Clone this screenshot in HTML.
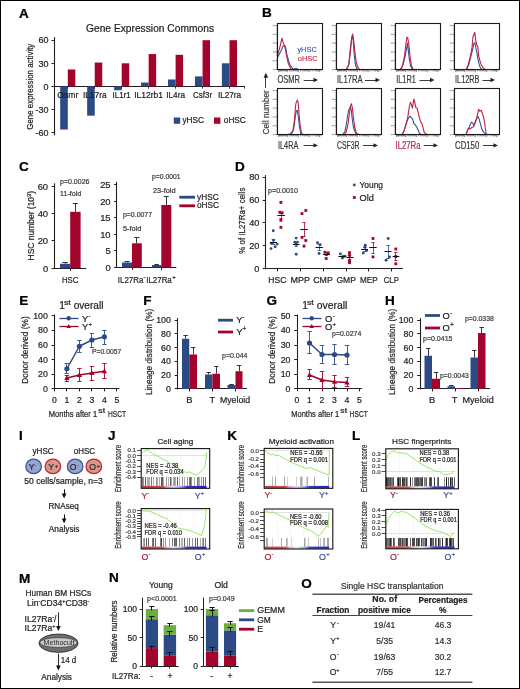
<!DOCTYPE html>
<html><head><meta charset="utf-8"><style>
html,body{margin:0;padding:0;background:#fff;}
svg{display:block;will-change:transform;}
text{font-family:"Liberation Sans",sans-serif;stroke:currentColor;stroke-width:0.22px;}
</style></head><body>
<svg width="520" height="689" viewBox="0 0 520 689" font-family="Liberation Sans, sans-serif" fill="#231f20" color="#231f20">
<rect x="0.5" y="0.5" width="519" height="688" fill="#fff" stroke="#000" stroke-width="1"/>
<text x="19" y="17.6" font-size="12" font-weight="bold" fill="#000" color="#000" textLength="9.79" lengthAdjust="spacingAndGlyphs">A</text>
<text x="86" y="32" font-size="10.6" textLength="128" lengthAdjust="spacingAndGlyphs">Gene Expression Commons</text>
<line x1="54.5" y1="37.1" x2="54.5" y2="135.3" stroke="#231f20" stroke-width="1.1"/>
<line x1="51.5" y1="40.5" x2="54.3" y2="40.5" stroke="#231f20" stroke-width="1"/>
<text x="48.5" y="43.4" font-size="9" text-anchor="end">60</text>
<line x1="51.5" y1="63.5" x2="54.3" y2="63.5" stroke="#231f20" stroke-width="1"/>
<text x="48.5" y="66.5" font-size="9" text-anchor="end">30</text>
<line x1="51.5" y1="86.5" x2="54.3" y2="86.5" stroke="#231f20" stroke-width="1"/>
<text x="48.5" y="89.6" font-size="9" text-anchor="end">0</text>
<line x1="51.5" y1="109.5" x2="54.3" y2="109.5" stroke="#231f20" stroke-width="1"/>
<text x="48.5" y="112.7" font-size="9" text-anchor="end">-30</text>
<line x1="51.5" y1="132.5" x2="54.3" y2="132.5" stroke="#231f20" stroke-width="1"/>
<text x="48.5" y="135.8" font-size="9" text-anchor="end">-60</text>
<line x1="54.3" y1="86.5" x2="245" y2="86.5" stroke="#231f20" stroke-width="1"/>
<rect x="60.2" y="86.4" width="7.6" height="43.12" fill="#2c4b86"/>
<rect x="67.8" y="69.46" width="7.5" height="16.94" fill="#a3042b"/>
<line x1="67.5" y1="86.4" x2="67.5" y2="88.6" stroke="#231f20" stroke-width="0.9"/>
<rect x="87.15" y="86.4" width="7.6" height="29.26" fill="#2c4b86"/>
<rect x="94.75" y="62.53" width="7.5" height="23.87" fill="#a3042b"/>
<line x1="94.5" y1="86.4" x2="94.5" y2="88.6" stroke="#231f20" stroke-width="0.9"/>
<rect x="114.1" y="86.4" width="7.6" height="3.85" fill="#2c4b86"/>
<rect x="121.7" y="63.3" width="7.5" height="23.1" fill="#a3042b"/>
<line x1="121.5" y1="86.4" x2="121.5" y2="88.6" stroke="#231f20" stroke-width="0.9"/>
<rect x="141.05" y="82.55" width="7.6" height="3.85" fill="#2c4b86"/>
<rect x="148.65" y="54.06" width="7.5" height="32.34" fill="#a3042b"/>
<line x1="148.5" y1="86.4" x2="148.5" y2="88.6" stroke="#231f20" stroke-width="0.9"/>
<rect x="168" y="79.47" width="7.6" height="6.93" fill="#2c4b86"/>
<rect x="175.6" y="54.83" width="7.5" height="31.57" fill="#a3042b"/>
<line x1="175.5" y1="86.4" x2="175.5" y2="88.6" stroke="#231f20" stroke-width="0.9"/>
<rect x="194.95" y="76.39" width="7.6" height="10.01" fill="#2c4b86"/>
<rect x="202.55" y="40.2" width="7.5" height="46.2" fill="#a3042b"/>
<line x1="202.5" y1="86.4" x2="202.5" y2="88.6" stroke="#231f20" stroke-width="0.9"/>
<rect x="221.9" y="63.3" width="7.6" height="23.1" fill="#2c4b86"/>
<rect x="229.5" y="40.2" width="7.5" height="46.2" fill="#a3042b"/>
<line x1="229.5" y1="86.4" x2="229.5" y2="88.6" stroke="#231f20" stroke-width="0.9"/>
<line x1="244.5" y1="86.4" x2="244.5" y2="88.6" stroke="#231f20" stroke-width="0.9"/>
<text x="67.8" y="97.8" font-size="8.6" text-anchor="middle" textLength="21.25" lengthAdjust="spacingAndGlyphs">Osmr</text>
<text x="94.75" y="97.8" font-size="8.6" text-anchor="middle" textLength="23.75" lengthAdjust="spacingAndGlyphs">IL17ra</text>
<text x="121.7" y="97.8" font-size="8.6" text-anchor="middle" textLength="18.25" lengthAdjust="spacingAndGlyphs">IL1r1</text>
<text x="148.65" y="97.8" font-size="8.6" text-anchor="middle" textLength="28.75" lengthAdjust="spacingAndGlyphs">IL12rb1</text>
<text x="175.6" y="97.8" font-size="8.6" text-anchor="middle" textLength="18.75" lengthAdjust="spacingAndGlyphs">IL4ra</text>
<text x="202.55" y="97.8" font-size="8.6" text-anchor="middle" textLength="19" lengthAdjust="spacingAndGlyphs">Csf3r</text>
<text x="229.5" y="97.8" font-size="8.6" text-anchor="middle" textLength="23.25" lengthAdjust="spacingAndGlyphs">IL27ra</text>
<text x="30.3" y="87" font-size="9.9" text-anchor="middle" textLength="86" lengthAdjust="spacingAndGlyphs" transform="rotate(-90 30 87)" dy="3.2">Gene expression activity</text>
<rect x="173.8" y="117.5" width="6.4" height="6.3" fill="#2c4b86"/>
<text x="182.5" y="123.4" font-size="9" textLength="21.5" lengthAdjust="spacingAndGlyphs">yHSC</text>
<rect x="214" y="117.5" width="6.4" height="6.3" fill="#a3042b"/>
<text x="223.8" y="123.4" font-size="9" textLength="22" lengthAdjust="spacingAndGlyphs">oHSC</text>
<text x="262" y="17.2" font-size="12" font-weight="bold" fill="#000" color="#000" textLength="9.79" lengthAdjust="spacingAndGlyphs">B</text>
<line x1="275.38" y1="69.52" x2="277.38" y2="69.52" stroke="#333" stroke-width="0.6"/>
<rect x="272.78" y="68.82" width="2" height="1.4" fill="#aaa"/>
<line x1="275.38" y1="60.72" x2="277.38" y2="60.72" stroke="#333" stroke-width="0.6"/>
<rect x="272.78" y="60.02" width="2" height="1.4" fill="#aaa"/>
<line x1="275.38" y1="51.92" x2="277.38" y2="51.92" stroke="#333" stroke-width="0.6"/>
<rect x="272.78" y="51.22" width="2" height="1.4" fill="#aaa"/>
<line x1="275.38" y1="43.12" x2="277.38" y2="43.12" stroke="#333" stroke-width="0.6"/>
<rect x="272.78" y="42.42" width="2" height="1.4" fill="#aaa"/>
<line x1="275.38" y1="34.32" x2="277.38" y2="34.32" stroke="#333" stroke-width="0.6"/>
<rect x="272.78" y="33.62" width="2" height="1.4" fill="#aaa"/>
<line x1="275.38" y1="25.53" x2="277.38" y2="25.53" stroke="#333" stroke-width="0.6"/>
<rect x="272.78" y="24.83" width="2" height="1.4" fill="#aaa"/>
<line x1="276.18" y1="69.52" x2="277.38" y2="69.52" stroke="#555" stroke-width="0.5"/>
<line x1="276.18" y1="67.76" x2="277.38" y2="67.76" stroke="#555" stroke-width="0.5"/>
<line x1="276.18" y1="66" x2="277.38" y2="66" stroke="#555" stroke-width="0.5"/>
<line x1="276.18" y1="64.24" x2="277.38" y2="64.24" stroke="#555" stroke-width="0.5"/>
<line x1="276.18" y1="62.48" x2="277.38" y2="62.48" stroke="#555" stroke-width="0.5"/>
<line x1="276.18" y1="60.72" x2="277.38" y2="60.72" stroke="#555" stroke-width="0.5"/>
<line x1="276.18" y1="58.96" x2="277.38" y2="58.96" stroke="#555" stroke-width="0.5"/>
<line x1="276.18" y1="57.2" x2="277.38" y2="57.2" stroke="#555" stroke-width="0.5"/>
<line x1="276.18" y1="55.44" x2="277.38" y2="55.44" stroke="#555" stroke-width="0.5"/>
<line x1="276.18" y1="53.68" x2="277.38" y2="53.68" stroke="#555" stroke-width="0.5"/>
<line x1="276.18" y1="51.92" x2="277.38" y2="51.92" stroke="#555" stroke-width="0.5"/>
<line x1="276.18" y1="50.16" x2="277.38" y2="50.16" stroke="#555" stroke-width="0.5"/>
<line x1="276.18" y1="48.4" x2="277.38" y2="48.4" stroke="#555" stroke-width="0.5"/>
<line x1="276.18" y1="46.64" x2="277.38" y2="46.64" stroke="#555" stroke-width="0.5"/>
<line x1="276.18" y1="44.88" x2="277.38" y2="44.88" stroke="#555" stroke-width="0.5"/>
<line x1="276.18" y1="43.12" x2="277.38" y2="43.12" stroke="#555" stroke-width="0.5"/>
<line x1="276.18" y1="41.36" x2="277.38" y2="41.36" stroke="#555" stroke-width="0.5"/>
<line x1="276.18" y1="39.6" x2="277.38" y2="39.6" stroke="#555" stroke-width="0.5"/>
<line x1="276.18" y1="37.84" x2="277.38" y2="37.84" stroke="#555" stroke-width="0.5"/>
<line x1="276.18" y1="36.08" x2="277.38" y2="36.08" stroke="#555" stroke-width="0.5"/>
<line x1="276.18" y1="34.32" x2="277.38" y2="34.32" stroke="#555" stroke-width="0.5"/>
<line x1="276.18" y1="32.57" x2="277.38" y2="32.57" stroke="#555" stroke-width="0.5"/>
<line x1="276.18" y1="30.81" x2="277.38" y2="30.81" stroke="#555" stroke-width="0.5"/>
<line x1="276.18" y1="29.05" x2="277.38" y2="29.05" stroke="#555" stroke-width="0.5"/>
<line x1="276.18" y1="27.29" x2="277.38" y2="27.29" stroke="#555" stroke-width="0.5"/>
<line x1="276.18" y1="25.53" x2="277.38" y2="25.53" stroke="#555" stroke-width="0.5"/>
<line x1="278.67" y1="69.52" x2="278.67" y2="72.12" stroke="#333" stroke-width="0.6"/>
<line x1="279.53" y1="69.52" x2="279.53" y2="71.32" stroke="#333" stroke-width="0.6"/>
<line x1="280.4" y1="69.52" x2="280.4" y2="71.32" stroke="#333" stroke-width="0.6"/>
<line x1="281.15" y1="69.52" x2="281.15" y2="71.32" stroke="#333" stroke-width="0.6"/>
<line x1="281.9" y1="69.52" x2="281.9" y2="71.32" stroke="#333" stroke-width="0.6"/>
<line x1="282.76" y1="69.52" x2="282.76" y2="71.32" stroke="#333" stroke-width="0.6"/>
<line x1="283.84" y1="69.52" x2="283.84" y2="71.32" stroke="#333" stroke-width="0.6"/>
<line x1="284.7" y1="69.52" x2="284.7" y2="71.32" stroke="#333" stroke-width="0.6"/>
<line x1="285.46" y1="69.52" x2="285.46" y2="71.32" stroke="#333" stroke-width="0.6"/>
<line x1="286.53" y1="69.52" x2="286.53" y2="71.32" stroke="#333" stroke-width="0.6"/>
<line x1="287.61" y1="69.52" x2="287.61" y2="72.12" stroke="#333" stroke-width="0.6"/>
<line x1="289.22" y1="69.52" x2="289.22" y2="71.32" stroke="#333" stroke-width="0.6"/>
<line x1="290.84" y1="69.52" x2="290.84" y2="71.32" stroke="#333" stroke-width="0.6"/>
<line x1="291.91" y1="69.52" x2="291.91" y2="71.32" stroke="#333" stroke-width="0.6"/>
<line x1="292.99" y1="69.52" x2="292.99" y2="71.32" stroke="#333" stroke-width="0.6"/>
<line x1="294.07" y1="69.52" x2="294.07" y2="71.32" stroke="#333" stroke-width="0.6"/>
<line x1="295.14" y1="69.52" x2="295.14" y2="71.32" stroke="#333" stroke-width="0.6"/>
<line x1="296.22" y1="69.52" x2="296.22" y2="71.32" stroke="#333" stroke-width="0.6"/>
<line x1="297.3" y1="69.52" x2="297.3" y2="71.32" stroke="#333" stroke-width="0.6"/>
<line x1="298.37" y1="69.52" x2="298.37" y2="72.12" stroke="#333" stroke-width="0.6"/>
<line x1="300.53" y1="69.52" x2="300.53" y2="71.32" stroke="#333" stroke-width="0.6"/>
<line x1="302.14" y1="69.52" x2="302.14" y2="71.32" stroke="#333" stroke-width="0.6"/>
<line x1="303.75" y1="69.52" x2="303.75" y2="71.32" stroke="#333" stroke-width="0.6"/>
<line x1="304.83" y1="69.52" x2="304.83" y2="71.32" stroke="#333" stroke-width="0.6"/>
<line x1="305.91" y1="69.52" x2="305.91" y2="71.32" stroke="#333" stroke-width="0.6"/>
<line x1="306.98" y1="69.52" x2="306.98" y2="71.32" stroke="#333" stroke-width="0.6"/>
<line x1="308.06" y1="69.52" x2="308.06" y2="71.32" stroke="#333" stroke-width="0.6"/>
<line x1="309.14" y1="69.52" x2="309.14" y2="72.12" stroke="#333" stroke-width="0.6"/>
<line x1="310.75" y1="69.52" x2="310.75" y2="71.32" stroke="#333" stroke-width="0.6"/>
<line x1="312.9" y1="69.52" x2="312.9" y2="71.32" stroke="#333" stroke-width="0.6"/>
<line x1="315.06" y1="69.52" x2="315.06" y2="71.32" stroke="#333" stroke-width="0.6"/>
<line x1="316.13" y1="69.52" x2="316.13" y2="71.32" stroke="#333" stroke-width="0.6"/>
<line x1="317.21" y1="69.52" x2="317.21" y2="71.32" stroke="#333" stroke-width="0.6"/>
<line x1="318.29" y1="69.52" x2="318.29" y2="71.32" stroke="#333" stroke-width="0.6"/>
<line x1="319.36" y1="69.52" x2="319.36" y2="72.12" stroke="#333" stroke-width="0.6"/>
<line x1="320.98" y1="69.52" x2="320.98" y2="71.32" stroke="#333" stroke-width="0.6"/>
<path d="M277.38 57.67 L280.61 51.75 L282.76 46.91 L284.06 45.3 L285.46 46.37 L287.07 55.52 L289.76 64.67 L292.99 68.98 L296.22 68.44 L298.37 69.52" stroke="#33559a" stroke-width="1.1" fill="none" stroke-linejoin="round"/>
<path d="M277.38 56.06 L279.53 48.53 L281.15 41.53 L281.9 38.08 L283.3 43.14 L284.7 45.83 L285.99 52.29 L288.15 63.06 L290.84 68.98 L292.99 69.52" stroke="#c21f45" stroke-width="1.1" fill="none" stroke-linejoin="round"/>
<rect x="277.5" y="23.5" width="45" height="46" fill="none" stroke="#1a1a1a" stroke-width="1.1"/>
<text x="277.5" y="83.2" font-size="10.2" fill="#3a3a3a" color="#3a3a3a" textLength="22.5" lengthAdjust="spacingAndGlyphs">OSMR</text>
<line x1="303.7" y1="80.5" x2="315" y2="80.5" stroke="#222" stroke-width="0.9"/>
<path d="M318 80 L313.5 77.8 L313.5 82.2 Z" fill="#222"/>
<line x1="334.38" y1="69.52" x2="336.38" y2="69.52" stroke="#333" stroke-width="0.6"/>
<rect x="331.78" y="68.82" width="2" height="1.4" fill="#aaa"/>
<line x1="334.38" y1="60.72" x2="336.38" y2="60.72" stroke="#333" stroke-width="0.6"/>
<rect x="331.78" y="60.02" width="2" height="1.4" fill="#aaa"/>
<line x1="334.38" y1="51.92" x2="336.38" y2="51.92" stroke="#333" stroke-width="0.6"/>
<rect x="331.78" y="51.22" width="2" height="1.4" fill="#aaa"/>
<line x1="334.38" y1="43.12" x2="336.38" y2="43.12" stroke="#333" stroke-width="0.6"/>
<rect x="331.78" y="42.42" width="2" height="1.4" fill="#aaa"/>
<line x1="334.38" y1="34.32" x2="336.38" y2="34.32" stroke="#333" stroke-width="0.6"/>
<rect x="331.78" y="33.62" width="2" height="1.4" fill="#aaa"/>
<line x1="334.38" y1="25.53" x2="336.38" y2="25.53" stroke="#333" stroke-width="0.6"/>
<rect x="331.78" y="24.83" width="2" height="1.4" fill="#aaa"/>
<line x1="335.18" y1="69.52" x2="336.38" y2="69.52" stroke="#555" stroke-width="0.5"/>
<line x1="335.18" y1="67.76" x2="336.38" y2="67.76" stroke="#555" stroke-width="0.5"/>
<line x1="335.18" y1="66" x2="336.38" y2="66" stroke="#555" stroke-width="0.5"/>
<line x1="335.18" y1="64.24" x2="336.38" y2="64.24" stroke="#555" stroke-width="0.5"/>
<line x1="335.18" y1="62.48" x2="336.38" y2="62.48" stroke="#555" stroke-width="0.5"/>
<line x1="335.18" y1="60.72" x2="336.38" y2="60.72" stroke="#555" stroke-width="0.5"/>
<line x1="335.18" y1="58.96" x2="336.38" y2="58.96" stroke="#555" stroke-width="0.5"/>
<line x1="335.18" y1="57.2" x2="336.38" y2="57.2" stroke="#555" stroke-width="0.5"/>
<line x1="335.18" y1="55.44" x2="336.38" y2="55.44" stroke="#555" stroke-width="0.5"/>
<line x1="335.18" y1="53.68" x2="336.38" y2="53.68" stroke="#555" stroke-width="0.5"/>
<line x1="335.18" y1="51.92" x2="336.38" y2="51.92" stroke="#555" stroke-width="0.5"/>
<line x1="335.18" y1="50.16" x2="336.38" y2="50.16" stroke="#555" stroke-width="0.5"/>
<line x1="335.18" y1="48.4" x2="336.38" y2="48.4" stroke="#555" stroke-width="0.5"/>
<line x1="335.18" y1="46.64" x2="336.38" y2="46.64" stroke="#555" stroke-width="0.5"/>
<line x1="335.18" y1="44.88" x2="336.38" y2="44.88" stroke="#555" stroke-width="0.5"/>
<line x1="335.18" y1="43.12" x2="336.38" y2="43.12" stroke="#555" stroke-width="0.5"/>
<line x1="335.18" y1="41.36" x2="336.38" y2="41.36" stroke="#555" stroke-width="0.5"/>
<line x1="335.18" y1="39.6" x2="336.38" y2="39.6" stroke="#555" stroke-width="0.5"/>
<line x1="335.18" y1="37.84" x2="336.38" y2="37.84" stroke="#555" stroke-width="0.5"/>
<line x1="335.18" y1="36.08" x2="336.38" y2="36.08" stroke="#555" stroke-width="0.5"/>
<line x1="335.18" y1="34.32" x2="336.38" y2="34.32" stroke="#555" stroke-width="0.5"/>
<line x1="335.18" y1="32.57" x2="336.38" y2="32.57" stroke="#555" stroke-width="0.5"/>
<line x1="335.18" y1="30.81" x2="336.38" y2="30.81" stroke="#555" stroke-width="0.5"/>
<line x1="335.18" y1="29.05" x2="336.38" y2="29.05" stroke="#555" stroke-width="0.5"/>
<line x1="335.18" y1="27.29" x2="336.38" y2="27.29" stroke="#555" stroke-width="0.5"/>
<line x1="335.18" y1="25.53" x2="336.38" y2="25.53" stroke="#555" stroke-width="0.5"/>
<line x1="337.67" y1="69.52" x2="337.67" y2="72.12" stroke="#333" stroke-width="0.6"/>
<line x1="338.53" y1="69.52" x2="338.53" y2="71.32" stroke="#333" stroke-width="0.6"/>
<line x1="339.4" y1="69.52" x2="339.4" y2="71.32" stroke="#333" stroke-width="0.6"/>
<line x1="340.15" y1="69.52" x2="340.15" y2="71.32" stroke="#333" stroke-width="0.6"/>
<line x1="340.9" y1="69.52" x2="340.9" y2="71.32" stroke="#333" stroke-width="0.6"/>
<line x1="341.76" y1="69.52" x2="341.76" y2="71.32" stroke="#333" stroke-width="0.6"/>
<line x1="342.84" y1="69.52" x2="342.84" y2="71.32" stroke="#333" stroke-width="0.6"/>
<line x1="343.7" y1="69.52" x2="343.7" y2="71.32" stroke="#333" stroke-width="0.6"/>
<line x1="344.46" y1="69.52" x2="344.46" y2="71.32" stroke="#333" stroke-width="0.6"/>
<line x1="345.53" y1="69.52" x2="345.53" y2="71.32" stroke="#333" stroke-width="0.6"/>
<line x1="346.61" y1="69.52" x2="346.61" y2="72.12" stroke="#333" stroke-width="0.6"/>
<line x1="348.22" y1="69.52" x2="348.22" y2="71.32" stroke="#333" stroke-width="0.6"/>
<line x1="349.84" y1="69.52" x2="349.84" y2="71.32" stroke="#333" stroke-width="0.6"/>
<line x1="350.91" y1="69.52" x2="350.91" y2="71.32" stroke="#333" stroke-width="0.6"/>
<line x1="351.99" y1="69.52" x2="351.99" y2="71.32" stroke="#333" stroke-width="0.6"/>
<line x1="353.07" y1="69.52" x2="353.07" y2="71.32" stroke="#333" stroke-width="0.6"/>
<line x1="354.14" y1="69.52" x2="354.14" y2="71.32" stroke="#333" stroke-width="0.6"/>
<line x1="355.22" y1="69.52" x2="355.22" y2="71.32" stroke="#333" stroke-width="0.6"/>
<line x1="356.3" y1="69.52" x2="356.3" y2="71.32" stroke="#333" stroke-width="0.6"/>
<line x1="357.37" y1="69.52" x2="357.37" y2="72.12" stroke="#333" stroke-width="0.6"/>
<line x1="359.53" y1="69.52" x2="359.53" y2="71.32" stroke="#333" stroke-width="0.6"/>
<line x1="361.14" y1="69.52" x2="361.14" y2="71.32" stroke="#333" stroke-width="0.6"/>
<line x1="362.75" y1="69.52" x2="362.75" y2="71.32" stroke="#333" stroke-width="0.6"/>
<line x1="363.83" y1="69.52" x2="363.83" y2="71.32" stroke="#333" stroke-width="0.6"/>
<line x1="364.91" y1="69.52" x2="364.91" y2="71.32" stroke="#333" stroke-width="0.6"/>
<line x1="365.98" y1="69.52" x2="365.98" y2="71.32" stroke="#333" stroke-width="0.6"/>
<line x1="367.06" y1="69.52" x2="367.06" y2="71.32" stroke="#333" stroke-width="0.6"/>
<line x1="368.14" y1="69.52" x2="368.14" y2="72.12" stroke="#333" stroke-width="0.6"/>
<line x1="369.75" y1="69.52" x2="369.75" y2="71.32" stroke="#333" stroke-width="0.6"/>
<line x1="371.9" y1="69.52" x2="371.9" y2="71.32" stroke="#333" stroke-width="0.6"/>
<line x1="374.06" y1="69.52" x2="374.06" y2="71.32" stroke="#333" stroke-width="0.6"/>
<line x1="375.13" y1="69.52" x2="375.13" y2="71.32" stroke="#333" stroke-width="0.6"/>
<line x1="376.21" y1="69.52" x2="376.21" y2="71.32" stroke="#333" stroke-width="0.6"/>
<line x1="377.29" y1="69.52" x2="377.29" y2="71.32" stroke="#333" stroke-width="0.6"/>
<line x1="378.36" y1="69.52" x2="378.36" y2="72.12" stroke="#333" stroke-width="0.6"/>
<line x1="379.98" y1="69.52" x2="379.98" y2="71.32" stroke="#333" stroke-width="0.6"/>
<path d="M346.61 69.52 L348.76 64.13 L350.38 47.99 L351.78 37.22 L352.53 36.68 L353.28 41.53 L354.14 54.45 L355.54 65.21 L357.37 69.52" stroke="#33559a" stroke-width="1.1" fill="none" stroke-linejoin="round"/>
<path d="M346.07 69.52 L348.76 65.21 L350.38 52.29 L351.67 38.3 L352.53 33.99 L353.39 37.76 L354.68 50.14 L356.3 63.06 L358.45 68.44 L360.06 69.52" stroke="#c21f45" stroke-width="1.1" fill="none" stroke-linejoin="round"/>
<rect x="336.5" y="23.5" width="45" height="46" fill="none" stroke="#1a1a1a" stroke-width="1.1"/>
<text x="337" y="83.2" font-size="10.2" fill="#3a3a3a" color="#3a3a3a" textLength="25.5" lengthAdjust="spacingAndGlyphs">IL17RA</text>
<line x1="365" y1="80.5" x2="377" y2="80.5" stroke="#222" stroke-width="0.9"/>
<path d="M380 80 L375.5 77.8 L375.5 82.2 Z" fill="#222"/>
<line x1="393.38" y1="69.52" x2="395.38" y2="69.52" stroke="#333" stroke-width="0.6"/>
<rect x="390.78" y="68.82" width="2" height="1.4" fill="#aaa"/>
<line x1="393.38" y1="60.72" x2="395.38" y2="60.72" stroke="#333" stroke-width="0.6"/>
<rect x="390.78" y="60.02" width="2" height="1.4" fill="#aaa"/>
<line x1="393.38" y1="51.92" x2="395.38" y2="51.92" stroke="#333" stroke-width="0.6"/>
<rect x="390.78" y="51.22" width="2" height="1.4" fill="#aaa"/>
<line x1="393.38" y1="43.12" x2="395.38" y2="43.12" stroke="#333" stroke-width="0.6"/>
<rect x="390.78" y="42.42" width="2" height="1.4" fill="#aaa"/>
<line x1="393.38" y1="34.32" x2="395.38" y2="34.32" stroke="#333" stroke-width="0.6"/>
<rect x="390.78" y="33.62" width="2" height="1.4" fill="#aaa"/>
<line x1="393.38" y1="25.53" x2="395.38" y2="25.53" stroke="#333" stroke-width="0.6"/>
<rect x="390.78" y="24.83" width="2" height="1.4" fill="#aaa"/>
<line x1="394.18" y1="69.52" x2="395.38" y2="69.52" stroke="#555" stroke-width="0.5"/>
<line x1="394.18" y1="67.76" x2="395.38" y2="67.76" stroke="#555" stroke-width="0.5"/>
<line x1="394.18" y1="66" x2="395.38" y2="66" stroke="#555" stroke-width="0.5"/>
<line x1="394.18" y1="64.24" x2="395.38" y2="64.24" stroke="#555" stroke-width="0.5"/>
<line x1="394.18" y1="62.48" x2="395.38" y2="62.48" stroke="#555" stroke-width="0.5"/>
<line x1="394.18" y1="60.72" x2="395.38" y2="60.72" stroke="#555" stroke-width="0.5"/>
<line x1="394.18" y1="58.96" x2="395.38" y2="58.96" stroke="#555" stroke-width="0.5"/>
<line x1="394.18" y1="57.2" x2="395.38" y2="57.2" stroke="#555" stroke-width="0.5"/>
<line x1="394.18" y1="55.44" x2="395.38" y2="55.44" stroke="#555" stroke-width="0.5"/>
<line x1="394.18" y1="53.68" x2="395.38" y2="53.68" stroke="#555" stroke-width="0.5"/>
<line x1="394.18" y1="51.92" x2="395.38" y2="51.92" stroke="#555" stroke-width="0.5"/>
<line x1="394.18" y1="50.16" x2="395.38" y2="50.16" stroke="#555" stroke-width="0.5"/>
<line x1="394.18" y1="48.4" x2="395.38" y2="48.4" stroke="#555" stroke-width="0.5"/>
<line x1="394.18" y1="46.64" x2="395.38" y2="46.64" stroke="#555" stroke-width="0.5"/>
<line x1="394.18" y1="44.88" x2="395.38" y2="44.88" stroke="#555" stroke-width="0.5"/>
<line x1="394.18" y1="43.12" x2="395.38" y2="43.12" stroke="#555" stroke-width="0.5"/>
<line x1="394.18" y1="41.36" x2="395.38" y2="41.36" stroke="#555" stroke-width="0.5"/>
<line x1="394.18" y1="39.6" x2="395.38" y2="39.6" stroke="#555" stroke-width="0.5"/>
<line x1="394.18" y1="37.84" x2="395.38" y2="37.84" stroke="#555" stroke-width="0.5"/>
<line x1="394.18" y1="36.08" x2="395.38" y2="36.08" stroke="#555" stroke-width="0.5"/>
<line x1="394.18" y1="34.32" x2="395.38" y2="34.32" stroke="#555" stroke-width="0.5"/>
<line x1="394.18" y1="32.57" x2="395.38" y2="32.57" stroke="#555" stroke-width="0.5"/>
<line x1="394.18" y1="30.81" x2="395.38" y2="30.81" stroke="#555" stroke-width="0.5"/>
<line x1="394.18" y1="29.05" x2="395.38" y2="29.05" stroke="#555" stroke-width="0.5"/>
<line x1="394.18" y1="27.29" x2="395.38" y2="27.29" stroke="#555" stroke-width="0.5"/>
<line x1="394.18" y1="25.53" x2="395.38" y2="25.53" stroke="#555" stroke-width="0.5"/>
<line x1="396.67" y1="69.52" x2="396.67" y2="72.12" stroke="#333" stroke-width="0.6"/>
<line x1="397.53" y1="69.52" x2="397.53" y2="71.32" stroke="#333" stroke-width="0.6"/>
<line x1="398.4" y1="69.52" x2="398.4" y2="71.32" stroke="#333" stroke-width="0.6"/>
<line x1="399.15" y1="69.52" x2="399.15" y2="71.32" stroke="#333" stroke-width="0.6"/>
<line x1="399.9" y1="69.52" x2="399.9" y2="71.32" stroke="#333" stroke-width="0.6"/>
<line x1="400.76" y1="69.52" x2="400.76" y2="71.32" stroke="#333" stroke-width="0.6"/>
<line x1="401.84" y1="69.52" x2="401.84" y2="71.32" stroke="#333" stroke-width="0.6"/>
<line x1="402.7" y1="69.52" x2="402.7" y2="71.32" stroke="#333" stroke-width="0.6"/>
<line x1="403.46" y1="69.52" x2="403.46" y2="71.32" stroke="#333" stroke-width="0.6"/>
<line x1="404.53" y1="69.52" x2="404.53" y2="71.32" stroke="#333" stroke-width="0.6"/>
<line x1="405.61" y1="69.52" x2="405.61" y2="72.12" stroke="#333" stroke-width="0.6"/>
<line x1="407.22" y1="69.52" x2="407.22" y2="71.32" stroke="#333" stroke-width="0.6"/>
<line x1="408.84" y1="69.52" x2="408.84" y2="71.32" stroke="#333" stroke-width="0.6"/>
<line x1="409.91" y1="69.52" x2="409.91" y2="71.32" stroke="#333" stroke-width="0.6"/>
<line x1="410.99" y1="69.52" x2="410.99" y2="71.32" stroke="#333" stroke-width="0.6"/>
<line x1="412.07" y1="69.52" x2="412.07" y2="71.32" stroke="#333" stroke-width="0.6"/>
<line x1="413.14" y1="69.52" x2="413.14" y2="71.32" stroke="#333" stroke-width="0.6"/>
<line x1="414.22" y1="69.52" x2="414.22" y2="71.32" stroke="#333" stroke-width="0.6"/>
<line x1="415.3" y1="69.52" x2="415.3" y2="71.32" stroke="#333" stroke-width="0.6"/>
<line x1="416.37" y1="69.52" x2="416.37" y2="72.12" stroke="#333" stroke-width="0.6"/>
<line x1="418.53" y1="69.52" x2="418.53" y2="71.32" stroke="#333" stroke-width="0.6"/>
<line x1="420.14" y1="69.52" x2="420.14" y2="71.32" stroke="#333" stroke-width="0.6"/>
<line x1="421.75" y1="69.52" x2="421.75" y2="71.32" stroke="#333" stroke-width="0.6"/>
<line x1="422.83" y1="69.52" x2="422.83" y2="71.32" stroke="#333" stroke-width="0.6"/>
<line x1="423.91" y1="69.52" x2="423.91" y2="71.32" stroke="#333" stroke-width="0.6"/>
<line x1="424.98" y1="69.52" x2="424.98" y2="71.32" stroke="#333" stroke-width="0.6"/>
<line x1="426.06" y1="69.52" x2="426.06" y2="71.32" stroke="#333" stroke-width="0.6"/>
<line x1="427.14" y1="69.52" x2="427.14" y2="72.12" stroke="#333" stroke-width="0.6"/>
<line x1="428.75" y1="69.52" x2="428.75" y2="71.32" stroke="#333" stroke-width="0.6"/>
<line x1="430.9" y1="69.52" x2="430.9" y2="71.32" stroke="#333" stroke-width="0.6"/>
<line x1="433.06" y1="69.52" x2="433.06" y2="71.32" stroke="#333" stroke-width="0.6"/>
<line x1="434.13" y1="69.52" x2="434.13" y2="71.32" stroke="#333" stroke-width="0.6"/>
<line x1="435.21" y1="69.52" x2="435.21" y2="71.32" stroke="#333" stroke-width="0.6"/>
<line x1="436.29" y1="69.52" x2="436.29" y2="71.32" stroke="#333" stroke-width="0.6"/>
<line x1="437.36" y1="69.52" x2="437.36" y2="72.12" stroke="#333" stroke-width="0.6"/>
<line x1="438.98" y1="69.52" x2="438.98" y2="71.32" stroke="#333" stroke-width="0.6"/>
<path d="M400.76 69.52 L402.92 65.21 L405.07 56.6 L406.68 48.53 L407.44 43.14 L408.3 50.14 L409.38 59.83 L410.67 66.29 L412.6 69.52" stroke="#33559a" stroke-width="1.1" fill="none" stroke-linejoin="round"/>
<path d="M400.23 69.52 L402.38 66.29 L404.53 55.52 L406.15 42.6 L406.9 37.22 L407.76 37.76 L408.84 44.76 L409.91 55.52 L411.31 65.21 L413.14 69.52 L415.3 69.73" stroke="#c21f45" stroke-width="1.1" fill="none" stroke-linejoin="round"/>
<rect x="395.5" y="23.5" width="45" height="46" fill="none" stroke="#1a1a1a" stroke-width="1.1"/>
<text x="396.2" y="83.2" font-size="10.2" fill="#3a3a3a" color="#3a3a3a" textLength="19.6" lengthAdjust="spacingAndGlyphs">IL1R1</text>
<line x1="419.5" y1="80.5" x2="431.5" y2="80.5" stroke="#222" stroke-width="0.9"/>
<path d="M434.5 80 L430 77.8 L430 82.2 Z" fill="#222"/>
<line x1="452.38" y1="69.52" x2="454.38" y2="69.52" stroke="#333" stroke-width="0.6"/>
<rect x="449.78" y="68.82" width="2" height="1.4" fill="#aaa"/>
<line x1="452.38" y1="60.72" x2="454.38" y2="60.72" stroke="#333" stroke-width="0.6"/>
<rect x="449.78" y="60.02" width="2" height="1.4" fill="#aaa"/>
<line x1="452.38" y1="51.92" x2="454.38" y2="51.92" stroke="#333" stroke-width="0.6"/>
<rect x="449.78" y="51.22" width="2" height="1.4" fill="#aaa"/>
<line x1="452.38" y1="43.12" x2="454.38" y2="43.12" stroke="#333" stroke-width="0.6"/>
<rect x="449.78" y="42.42" width="2" height="1.4" fill="#aaa"/>
<line x1="452.38" y1="34.32" x2="454.38" y2="34.32" stroke="#333" stroke-width="0.6"/>
<rect x="449.78" y="33.62" width="2" height="1.4" fill="#aaa"/>
<line x1="452.38" y1="25.53" x2="454.38" y2="25.53" stroke="#333" stroke-width="0.6"/>
<rect x="449.78" y="24.83" width="2" height="1.4" fill="#aaa"/>
<line x1="453.18" y1="69.52" x2="454.38" y2="69.52" stroke="#555" stroke-width="0.5"/>
<line x1="453.18" y1="67.76" x2="454.38" y2="67.76" stroke="#555" stroke-width="0.5"/>
<line x1="453.18" y1="66" x2="454.38" y2="66" stroke="#555" stroke-width="0.5"/>
<line x1="453.18" y1="64.24" x2="454.38" y2="64.24" stroke="#555" stroke-width="0.5"/>
<line x1="453.18" y1="62.48" x2="454.38" y2="62.48" stroke="#555" stroke-width="0.5"/>
<line x1="453.18" y1="60.72" x2="454.38" y2="60.72" stroke="#555" stroke-width="0.5"/>
<line x1="453.18" y1="58.96" x2="454.38" y2="58.96" stroke="#555" stroke-width="0.5"/>
<line x1="453.18" y1="57.2" x2="454.38" y2="57.2" stroke="#555" stroke-width="0.5"/>
<line x1="453.18" y1="55.44" x2="454.38" y2="55.44" stroke="#555" stroke-width="0.5"/>
<line x1="453.18" y1="53.68" x2="454.38" y2="53.68" stroke="#555" stroke-width="0.5"/>
<line x1="453.18" y1="51.92" x2="454.38" y2="51.92" stroke="#555" stroke-width="0.5"/>
<line x1="453.18" y1="50.16" x2="454.38" y2="50.16" stroke="#555" stroke-width="0.5"/>
<line x1="453.18" y1="48.4" x2="454.38" y2="48.4" stroke="#555" stroke-width="0.5"/>
<line x1="453.18" y1="46.64" x2="454.38" y2="46.64" stroke="#555" stroke-width="0.5"/>
<line x1="453.18" y1="44.88" x2="454.38" y2="44.88" stroke="#555" stroke-width="0.5"/>
<line x1="453.18" y1="43.12" x2="454.38" y2="43.12" stroke="#555" stroke-width="0.5"/>
<line x1="453.18" y1="41.36" x2="454.38" y2="41.36" stroke="#555" stroke-width="0.5"/>
<line x1="453.18" y1="39.6" x2="454.38" y2="39.6" stroke="#555" stroke-width="0.5"/>
<line x1="453.18" y1="37.84" x2="454.38" y2="37.84" stroke="#555" stroke-width="0.5"/>
<line x1="453.18" y1="36.08" x2="454.38" y2="36.08" stroke="#555" stroke-width="0.5"/>
<line x1="453.18" y1="34.32" x2="454.38" y2="34.32" stroke="#555" stroke-width="0.5"/>
<line x1="453.18" y1="32.57" x2="454.38" y2="32.57" stroke="#555" stroke-width="0.5"/>
<line x1="453.18" y1="30.81" x2="454.38" y2="30.81" stroke="#555" stroke-width="0.5"/>
<line x1="453.18" y1="29.05" x2="454.38" y2="29.05" stroke="#555" stroke-width="0.5"/>
<line x1="453.18" y1="27.29" x2="454.38" y2="27.29" stroke="#555" stroke-width="0.5"/>
<line x1="453.18" y1="25.53" x2="454.38" y2="25.53" stroke="#555" stroke-width="0.5"/>
<line x1="455.67" y1="69.52" x2="455.67" y2="72.12" stroke="#333" stroke-width="0.6"/>
<line x1="456.53" y1="69.52" x2="456.53" y2="71.32" stroke="#333" stroke-width="0.6"/>
<line x1="457.4" y1="69.52" x2="457.4" y2="71.32" stroke="#333" stroke-width="0.6"/>
<line x1="458.15" y1="69.52" x2="458.15" y2="71.32" stroke="#333" stroke-width="0.6"/>
<line x1="458.9" y1="69.52" x2="458.9" y2="71.32" stroke="#333" stroke-width="0.6"/>
<line x1="459.76" y1="69.52" x2="459.76" y2="71.32" stroke="#333" stroke-width="0.6"/>
<line x1="460.84" y1="69.52" x2="460.84" y2="71.32" stroke="#333" stroke-width="0.6"/>
<line x1="461.7" y1="69.52" x2="461.7" y2="71.32" stroke="#333" stroke-width="0.6"/>
<line x1="462.46" y1="69.52" x2="462.46" y2="71.32" stroke="#333" stroke-width="0.6"/>
<line x1="463.53" y1="69.52" x2="463.53" y2="71.32" stroke="#333" stroke-width="0.6"/>
<line x1="464.61" y1="69.52" x2="464.61" y2="72.12" stroke="#333" stroke-width="0.6"/>
<line x1="466.22" y1="69.52" x2="466.22" y2="71.32" stroke="#333" stroke-width="0.6"/>
<line x1="467.84" y1="69.52" x2="467.84" y2="71.32" stroke="#333" stroke-width="0.6"/>
<line x1="468.91" y1="69.52" x2="468.91" y2="71.32" stroke="#333" stroke-width="0.6"/>
<line x1="469.99" y1="69.52" x2="469.99" y2="71.32" stroke="#333" stroke-width="0.6"/>
<line x1="471.07" y1="69.52" x2="471.07" y2="71.32" stroke="#333" stroke-width="0.6"/>
<line x1="472.14" y1="69.52" x2="472.14" y2="71.32" stroke="#333" stroke-width="0.6"/>
<line x1="473.22" y1="69.52" x2="473.22" y2="71.32" stroke="#333" stroke-width="0.6"/>
<line x1="474.3" y1="69.52" x2="474.3" y2="71.32" stroke="#333" stroke-width="0.6"/>
<line x1="475.37" y1="69.52" x2="475.37" y2="72.12" stroke="#333" stroke-width="0.6"/>
<line x1="477.53" y1="69.52" x2="477.53" y2="71.32" stroke="#333" stroke-width="0.6"/>
<line x1="479.14" y1="69.52" x2="479.14" y2="71.32" stroke="#333" stroke-width="0.6"/>
<line x1="480.75" y1="69.52" x2="480.75" y2="71.32" stroke="#333" stroke-width="0.6"/>
<line x1="481.83" y1="69.52" x2="481.83" y2="71.32" stroke="#333" stroke-width="0.6"/>
<line x1="482.91" y1="69.52" x2="482.91" y2="71.32" stroke="#333" stroke-width="0.6"/>
<line x1="483.98" y1="69.52" x2="483.98" y2="71.32" stroke="#333" stroke-width="0.6"/>
<line x1="485.06" y1="69.52" x2="485.06" y2="71.32" stroke="#333" stroke-width="0.6"/>
<line x1="486.14" y1="69.52" x2="486.14" y2="72.12" stroke="#333" stroke-width="0.6"/>
<line x1="487.75" y1="69.52" x2="487.75" y2="71.32" stroke="#333" stroke-width="0.6"/>
<line x1="489.9" y1="69.52" x2="489.9" y2="71.32" stroke="#333" stroke-width="0.6"/>
<line x1="492.06" y1="69.52" x2="492.06" y2="71.32" stroke="#333" stroke-width="0.6"/>
<line x1="493.13" y1="69.52" x2="493.13" y2="71.32" stroke="#333" stroke-width="0.6"/>
<line x1="494.21" y1="69.52" x2="494.21" y2="71.32" stroke="#333" stroke-width="0.6"/>
<line x1="495.29" y1="69.52" x2="495.29" y2="71.32" stroke="#333" stroke-width="0.6"/>
<line x1="496.36" y1="69.52" x2="496.36" y2="72.12" stroke="#333" stroke-width="0.6"/>
<line x1="497.98" y1="69.52" x2="497.98" y2="71.32" stroke="#333" stroke-width="0.6"/>
<path d="M466.76 69.52 L468.91 64.13 L471.07 55.52 L472.68 49.06 L473.97 43.14 L474.83 42.6 L475.91 47.99 L477.2 54.45 L478.28 60.9 L479.68 66.29 L481.29 68.98 L483.45 69.52" stroke="#33559a" stroke-width="1.1" fill="none" stroke-linejoin="round"/>
<path d="M466.22 69.52 L468.38 64.13 L470.53 55.52 L472.14 46.91 L472.9 37.22 L473.97 33.99 L474.83 32.38 L475.7 40.45 L476.77 44.76 L477.85 46.91 L478.6 55.52 L479.68 59.83 L481.29 65.21 L483.45 67.9 L485.06 69.52" stroke="#c21f45" stroke-width="1.1" fill="none" stroke-linejoin="round"/>
<rect x="454.5" y="23.5" width="45" height="46" fill="none" stroke="#1a1a1a" stroke-width="1.1"/>
<text x="455" y="83.2" font-size="10.2" fill="#3a3a3a" color="#3a3a3a" textLength="24.5" lengthAdjust="spacingAndGlyphs">IL12RB</text>
<line x1="482.5" y1="80.5" x2="492" y2="80.5" stroke="#222" stroke-width="0.9"/>
<path d="M495 80 L490.5 77.8 L490.5 82.2 Z" fill="#222"/>
<line x1="275.38" y1="134.52" x2="277.38" y2="134.52" stroke="#333" stroke-width="0.6"/>
<rect x="272.78" y="133.82" width="2" height="1.4" fill="#aaa"/>
<line x1="275.38" y1="125.72" x2="277.38" y2="125.72" stroke="#333" stroke-width="0.6"/>
<rect x="272.78" y="125.02" width="2" height="1.4" fill="#aaa"/>
<line x1="275.38" y1="116.92" x2="277.38" y2="116.92" stroke="#333" stroke-width="0.6"/>
<rect x="272.78" y="116.22" width="2" height="1.4" fill="#aaa"/>
<line x1="275.38" y1="108.12" x2="277.38" y2="108.12" stroke="#333" stroke-width="0.6"/>
<rect x="272.78" y="107.42" width="2" height="1.4" fill="#aaa"/>
<line x1="275.38" y1="99.32" x2="277.38" y2="99.32" stroke="#333" stroke-width="0.6"/>
<rect x="272.78" y="98.62" width="2" height="1.4" fill="#aaa"/>
<line x1="275.38" y1="90.53" x2="277.38" y2="90.53" stroke="#333" stroke-width="0.6"/>
<rect x="272.78" y="89.83" width="2" height="1.4" fill="#aaa"/>
<line x1="276.18" y1="134.52" x2="277.38" y2="134.52" stroke="#555" stroke-width="0.5"/>
<line x1="276.18" y1="132.76" x2="277.38" y2="132.76" stroke="#555" stroke-width="0.5"/>
<line x1="276.18" y1="131" x2="277.38" y2="131" stroke="#555" stroke-width="0.5"/>
<line x1="276.18" y1="129.24" x2="277.38" y2="129.24" stroke="#555" stroke-width="0.5"/>
<line x1="276.18" y1="127.48" x2="277.38" y2="127.48" stroke="#555" stroke-width="0.5"/>
<line x1="276.18" y1="125.72" x2="277.38" y2="125.72" stroke="#555" stroke-width="0.5"/>
<line x1="276.18" y1="123.96" x2="277.38" y2="123.96" stroke="#555" stroke-width="0.5"/>
<line x1="276.18" y1="122.2" x2="277.38" y2="122.2" stroke="#555" stroke-width="0.5"/>
<line x1="276.18" y1="120.44" x2="277.38" y2="120.44" stroke="#555" stroke-width="0.5"/>
<line x1="276.18" y1="118.68" x2="277.38" y2="118.68" stroke="#555" stroke-width="0.5"/>
<line x1="276.18" y1="116.92" x2="277.38" y2="116.92" stroke="#555" stroke-width="0.5"/>
<line x1="276.18" y1="115.16" x2="277.38" y2="115.16" stroke="#555" stroke-width="0.5"/>
<line x1="276.18" y1="113.4" x2="277.38" y2="113.4" stroke="#555" stroke-width="0.5"/>
<line x1="276.18" y1="111.64" x2="277.38" y2="111.64" stroke="#555" stroke-width="0.5"/>
<line x1="276.18" y1="109.88" x2="277.38" y2="109.88" stroke="#555" stroke-width="0.5"/>
<line x1="276.18" y1="108.12" x2="277.38" y2="108.12" stroke="#555" stroke-width="0.5"/>
<line x1="276.18" y1="106.36" x2="277.38" y2="106.36" stroke="#555" stroke-width="0.5"/>
<line x1="276.18" y1="104.6" x2="277.38" y2="104.6" stroke="#555" stroke-width="0.5"/>
<line x1="276.18" y1="102.84" x2="277.38" y2="102.84" stroke="#555" stroke-width="0.5"/>
<line x1="276.18" y1="101.08" x2="277.38" y2="101.08" stroke="#555" stroke-width="0.5"/>
<line x1="276.18" y1="99.32" x2="277.38" y2="99.32" stroke="#555" stroke-width="0.5"/>
<line x1="276.18" y1="97.57" x2="277.38" y2="97.57" stroke="#555" stroke-width="0.5"/>
<line x1="276.18" y1="95.81" x2="277.38" y2="95.81" stroke="#555" stroke-width="0.5"/>
<line x1="276.18" y1="94.05" x2="277.38" y2="94.05" stroke="#555" stroke-width="0.5"/>
<line x1="276.18" y1="92.29" x2="277.38" y2="92.29" stroke="#555" stroke-width="0.5"/>
<line x1="276.18" y1="90.53" x2="277.38" y2="90.53" stroke="#555" stroke-width="0.5"/>
<line x1="278.67" y1="134.52" x2="278.67" y2="137.12" stroke="#333" stroke-width="0.6"/>
<line x1="279.53" y1="134.52" x2="279.53" y2="136.32" stroke="#333" stroke-width="0.6"/>
<line x1="280.4" y1="134.52" x2="280.4" y2="136.32" stroke="#333" stroke-width="0.6"/>
<line x1="281.15" y1="134.52" x2="281.15" y2="136.32" stroke="#333" stroke-width="0.6"/>
<line x1="281.9" y1="134.52" x2="281.9" y2="136.32" stroke="#333" stroke-width="0.6"/>
<line x1="282.76" y1="134.52" x2="282.76" y2="136.32" stroke="#333" stroke-width="0.6"/>
<line x1="283.84" y1="134.52" x2="283.84" y2="136.32" stroke="#333" stroke-width="0.6"/>
<line x1="284.7" y1="134.52" x2="284.7" y2="136.32" stroke="#333" stroke-width="0.6"/>
<line x1="285.46" y1="134.52" x2="285.46" y2="136.32" stroke="#333" stroke-width="0.6"/>
<line x1="286.53" y1="134.52" x2="286.53" y2="136.32" stroke="#333" stroke-width="0.6"/>
<line x1="287.61" y1="134.52" x2="287.61" y2="137.12" stroke="#333" stroke-width="0.6"/>
<line x1="289.22" y1="134.52" x2="289.22" y2="136.32" stroke="#333" stroke-width="0.6"/>
<line x1="290.84" y1="134.52" x2="290.84" y2="136.32" stroke="#333" stroke-width="0.6"/>
<line x1="291.91" y1="134.52" x2="291.91" y2="136.32" stroke="#333" stroke-width="0.6"/>
<line x1="292.99" y1="134.52" x2="292.99" y2="136.32" stroke="#333" stroke-width="0.6"/>
<line x1="294.07" y1="134.52" x2="294.07" y2="136.32" stroke="#333" stroke-width="0.6"/>
<line x1="295.14" y1="134.52" x2="295.14" y2="136.32" stroke="#333" stroke-width="0.6"/>
<line x1="296.22" y1="134.52" x2="296.22" y2="136.32" stroke="#333" stroke-width="0.6"/>
<line x1="297.3" y1="134.52" x2="297.3" y2="136.32" stroke="#333" stroke-width="0.6"/>
<line x1="298.37" y1="134.52" x2="298.37" y2="137.12" stroke="#333" stroke-width="0.6"/>
<line x1="300.53" y1="134.52" x2="300.53" y2="136.32" stroke="#333" stroke-width="0.6"/>
<line x1="302.14" y1="134.52" x2="302.14" y2="136.32" stroke="#333" stroke-width="0.6"/>
<line x1="303.75" y1="134.52" x2="303.75" y2="136.32" stroke="#333" stroke-width="0.6"/>
<line x1="304.83" y1="134.52" x2="304.83" y2="136.32" stroke="#333" stroke-width="0.6"/>
<line x1="305.91" y1="134.52" x2="305.91" y2="136.32" stroke="#333" stroke-width="0.6"/>
<line x1="306.98" y1="134.52" x2="306.98" y2="136.32" stroke="#333" stroke-width="0.6"/>
<line x1="308.06" y1="134.52" x2="308.06" y2="136.32" stroke="#333" stroke-width="0.6"/>
<line x1="309.14" y1="134.52" x2="309.14" y2="137.12" stroke="#333" stroke-width="0.6"/>
<line x1="310.75" y1="134.52" x2="310.75" y2="136.32" stroke="#333" stroke-width="0.6"/>
<line x1="312.9" y1="134.52" x2="312.9" y2="136.32" stroke="#333" stroke-width="0.6"/>
<line x1="315.06" y1="134.52" x2="315.06" y2="136.32" stroke="#333" stroke-width="0.6"/>
<line x1="316.13" y1="134.52" x2="316.13" y2="136.32" stroke="#333" stroke-width="0.6"/>
<line x1="317.21" y1="134.52" x2="317.21" y2="136.32" stroke="#333" stroke-width="0.6"/>
<line x1="318.29" y1="134.52" x2="318.29" y2="136.32" stroke="#333" stroke-width="0.6"/>
<line x1="319.36" y1="134.52" x2="319.36" y2="137.12" stroke="#333" stroke-width="0.6"/>
<line x1="320.98" y1="134.52" x2="320.98" y2="136.32" stroke="#333" stroke-width="0.6"/>
<path d="M288.15 134.52 L291.38 133.98 L293.53 130.21 L294.93 119.45 L296.22 110.83 L297.3 110.3 L298.37 117.29 L299.45 126.98 L300.85 133.44 L302.68 134.52" stroke="#33559a" stroke-width="1.1" fill="none" stroke-linejoin="round"/>
<path d="M287.07 134.52 L290.3 133.98 L292.99 130.21 L294.6 119.45 L295.47 106.53 L296.22 102.22 L297.51 100.07 L298.37 103.84 L299.13 115.14 L300.2 125.9 L301.6 133.44 L303.22 134.73" stroke="#c21f45" stroke-width="1.1" fill="none" stroke-linejoin="round"/>
<rect x="277.5" y="88.5" width="45" height="46" fill="none" stroke="#1a1a1a" stroke-width="1.1"/>
<text x="278" y="148.6" font-size="10.2" fill="#3a3a3a" color="#3a3a3a" textLength="20.3" lengthAdjust="spacingAndGlyphs">IL4RA</text>
<line x1="303.7" y1="145.5" x2="315" y2="145.5" stroke="#222" stroke-width="0.9"/>
<path d="M318 145.4 L313.5 143.2 L313.5 147.6 Z" fill="#222"/>
<line x1="334.38" y1="134.52" x2="336.38" y2="134.52" stroke="#333" stroke-width="0.6"/>
<rect x="331.78" y="133.82" width="2" height="1.4" fill="#aaa"/>
<line x1="334.38" y1="125.72" x2="336.38" y2="125.72" stroke="#333" stroke-width="0.6"/>
<rect x="331.78" y="125.02" width="2" height="1.4" fill="#aaa"/>
<line x1="334.38" y1="116.92" x2="336.38" y2="116.92" stroke="#333" stroke-width="0.6"/>
<rect x="331.78" y="116.22" width="2" height="1.4" fill="#aaa"/>
<line x1="334.38" y1="108.12" x2="336.38" y2="108.12" stroke="#333" stroke-width="0.6"/>
<rect x="331.78" y="107.42" width="2" height="1.4" fill="#aaa"/>
<line x1="334.38" y1="99.32" x2="336.38" y2="99.32" stroke="#333" stroke-width="0.6"/>
<rect x="331.78" y="98.62" width="2" height="1.4" fill="#aaa"/>
<line x1="334.38" y1="90.53" x2="336.38" y2="90.53" stroke="#333" stroke-width="0.6"/>
<rect x="331.78" y="89.83" width="2" height="1.4" fill="#aaa"/>
<line x1="335.18" y1="134.52" x2="336.38" y2="134.52" stroke="#555" stroke-width="0.5"/>
<line x1="335.18" y1="132.76" x2="336.38" y2="132.76" stroke="#555" stroke-width="0.5"/>
<line x1="335.18" y1="131" x2="336.38" y2="131" stroke="#555" stroke-width="0.5"/>
<line x1="335.18" y1="129.24" x2="336.38" y2="129.24" stroke="#555" stroke-width="0.5"/>
<line x1="335.18" y1="127.48" x2="336.38" y2="127.48" stroke="#555" stroke-width="0.5"/>
<line x1="335.18" y1="125.72" x2="336.38" y2="125.72" stroke="#555" stroke-width="0.5"/>
<line x1="335.18" y1="123.96" x2="336.38" y2="123.96" stroke="#555" stroke-width="0.5"/>
<line x1="335.18" y1="122.2" x2="336.38" y2="122.2" stroke="#555" stroke-width="0.5"/>
<line x1="335.18" y1="120.44" x2="336.38" y2="120.44" stroke="#555" stroke-width="0.5"/>
<line x1="335.18" y1="118.68" x2="336.38" y2="118.68" stroke="#555" stroke-width="0.5"/>
<line x1="335.18" y1="116.92" x2="336.38" y2="116.92" stroke="#555" stroke-width="0.5"/>
<line x1="335.18" y1="115.16" x2="336.38" y2="115.16" stroke="#555" stroke-width="0.5"/>
<line x1="335.18" y1="113.4" x2="336.38" y2="113.4" stroke="#555" stroke-width="0.5"/>
<line x1="335.18" y1="111.64" x2="336.38" y2="111.64" stroke="#555" stroke-width="0.5"/>
<line x1="335.18" y1="109.88" x2="336.38" y2="109.88" stroke="#555" stroke-width="0.5"/>
<line x1="335.18" y1="108.12" x2="336.38" y2="108.12" stroke="#555" stroke-width="0.5"/>
<line x1="335.18" y1="106.36" x2="336.38" y2="106.36" stroke="#555" stroke-width="0.5"/>
<line x1="335.18" y1="104.6" x2="336.38" y2="104.6" stroke="#555" stroke-width="0.5"/>
<line x1="335.18" y1="102.84" x2="336.38" y2="102.84" stroke="#555" stroke-width="0.5"/>
<line x1="335.18" y1="101.08" x2="336.38" y2="101.08" stroke="#555" stroke-width="0.5"/>
<line x1="335.18" y1="99.32" x2="336.38" y2="99.32" stroke="#555" stroke-width="0.5"/>
<line x1="335.18" y1="97.57" x2="336.38" y2="97.57" stroke="#555" stroke-width="0.5"/>
<line x1="335.18" y1="95.81" x2="336.38" y2="95.81" stroke="#555" stroke-width="0.5"/>
<line x1="335.18" y1="94.05" x2="336.38" y2="94.05" stroke="#555" stroke-width="0.5"/>
<line x1="335.18" y1="92.29" x2="336.38" y2="92.29" stroke="#555" stroke-width="0.5"/>
<line x1="335.18" y1="90.53" x2="336.38" y2="90.53" stroke="#555" stroke-width="0.5"/>
<line x1="337.67" y1="134.52" x2="337.67" y2="137.12" stroke="#333" stroke-width="0.6"/>
<line x1="338.53" y1="134.52" x2="338.53" y2="136.32" stroke="#333" stroke-width="0.6"/>
<line x1="339.4" y1="134.52" x2="339.4" y2="136.32" stroke="#333" stroke-width="0.6"/>
<line x1="340.15" y1="134.52" x2="340.15" y2="136.32" stroke="#333" stroke-width="0.6"/>
<line x1="340.9" y1="134.52" x2="340.9" y2="136.32" stroke="#333" stroke-width="0.6"/>
<line x1="341.76" y1="134.52" x2="341.76" y2="136.32" stroke="#333" stroke-width="0.6"/>
<line x1="342.84" y1="134.52" x2="342.84" y2="136.32" stroke="#333" stroke-width="0.6"/>
<line x1="343.7" y1="134.52" x2="343.7" y2="136.32" stroke="#333" stroke-width="0.6"/>
<line x1="344.46" y1="134.52" x2="344.46" y2="136.32" stroke="#333" stroke-width="0.6"/>
<line x1="345.53" y1="134.52" x2="345.53" y2="136.32" stroke="#333" stroke-width="0.6"/>
<line x1="346.61" y1="134.52" x2="346.61" y2="137.12" stroke="#333" stroke-width="0.6"/>
<line x1="348.22" y1="134.52" x2="348.22" y2="136.32" stroke="#333" stroke-width="0.6"/>
<line x1="349.84" y1="134.52" x2="349.84" y2="136.32" stroke="#333" stroke-width="0.6"/>
<line x1="350.91" y1="134.52" x2="350.91" y2="136.32" stroke="#333" stroke-width="0.6"/>
<line x1="351.99" y1="134.52" x2="351.99" y2="136.32" stroke="#333" stroke-width="0.6"/>
<line x1="353.07" y1="134.52" x2="353.07" y2="136.32" stroke="#333" stroke-width="0.6"/>
<line x1="354.14" y1="134.52" x2="354.14" y2="136.32" stroke="#333" stroke-width="0.6"/>
<line x1="355.22" y1="134.52" x2="355.22" y2="136.32" stroke="#333" stroke-width="0.6"/>
<line x1="356.3" y1="134.52" x2="356.3" y2="136.32" stroke="#333" stroke-width="0.6"/>
<line x1="357.37" y1="134.52" x2="357.37" y2="137.12" stroke="#333" stroke-width="0.6"/>
<line x1="359.53" y1="134.52" x2="359.53" y2="136.32" stroke="#333" stroke-width="0.6"/>
<line x1="361.14" y1="134.52" x2="361.14" y2="136.32" stroke="#333" stroke-width="0.6"/>
<line x1="362.75" y1="134.52" x2="362.75" y2="136.32" stroke="#333" stroke-width="0.6"/>
<line x1="363.83" y1="134.52" x2="363.83" y2="136.32" stroke="#333" stroke-width="0.6"/>
<line x1="364.91" y1="134.52" x2="364.91" y2="136.32" stroke="#333" stroke-width="0.6"/>
<line x1="365.98" y1="134.52" x2="365.98" y2="136.32" stroke="#333" stroke-width="0.6"/>
<line x1="367.06" y1="134.52" x2="367.06" y2="136.32" stroke="#333" stroke-width="0.6"/>
<line x1="368.14" y1="134.52" x2="368.14" y2="137.12" stroke="#333" stroke-width="0.6"/>
<line x1="369.75" y1="134.52" x2="369.75" y2="136.32" stroke="#333" stroke-width="0.6"/>
<line x1="371.9" y1="134.52" x2="371.9" y2="136.32" stroke="#333" stroke-width="0.6"/>
<line x1="374.06" y1="134.52" x2="374.06" y2="136.32" stroke="#333" stroke-width="0.6"/>
<line x1="375.13" y1="134.52" x2="375.13" y2="136.32" stroke="#333" stroke-width="0.6"/>
<line x1="376.21" y1="134.52" x2="376.21" y2="136.32" stroke="#333" stroke-width="0.6"/>
<line x1="377.29" y1="134.52" x2="377.29" y2="136.32" stroke="#333" stroke-width="0.6"/>
<line x1="378.36" y1="134.52" x2="378.36" y2="137.12" stroke="#333" stroke-width="0.6"/>
<line x1="379.98" y1="134.52" x2="379.98" y2="136.32" stroke="#333" stroke-width="0.6"/>
<path d="M342.84 134.52 L344.99 131.29 L346.93 120.52 L348.44 110.83 L350.16 107.07 L351.24 109.76 L352.31 119.45 L353.6 128.06 L355.54 132.9 L358.99 134.52" stroke="#33559a" stroke-width="1.1" fill="none" stroke-linejoin="round"/>
<path d="M343.92 134.52 L346.07 132.36 L348.01 123.75 L349.51 112.99 L350.7 105.45 L351.45 103.84 L352.31 107.6 L353.39 117.29 L354.68 126.98 L356.3 132.9 L357.91 134.52" stroke="#c21f45" stroke-width="1.1" fill="none" stroke-linejoin="round"/>
<rect x="336.5" y="88.5" width="45" height="46" fill="none" stroke="#1a1a1a" stroke-width="1.1"/>
<text x="337" y="148.6" font-size="10.2" fill="#3a3a3a" color="#3a3a3a" textLength="22.5" lengthAdjust="spacingAndGlyphs">CSF3R</text>
<line x1="363" y1="145.5" x2="375" y2="145.5" stroke="#222" stroke-width="0.9"/>
<path d="M378 145.4 L373.5 143.2 L373.5 147.6 Z" fill="#222"/>
<line x1="393.38" y1="134.52" x2="395.38" y2="134.52" stroke="#333" stroke-width="0.6"/>
<rect x="390.78" y="133.82" width="2" height="1.4" fill="#aaa"/>
<line x1="393.38" y1="125.72" x2="395.38" y2="125.72" stroke="#333" stroke-width="0.6"/>
<rect x="390.78" y="125.02" width="2" height="1.4" fill="#aaa"/>
<line x1="393.38" y1="116.92" x2="395.38" y2="116.92" stroke="#333" stroke-width="0.6"/>
<rect x="390.78" y="116.22" width="2" height="1.4" fill="#aaa"/>
<line x1="393.38" y1="108.12" x2="395.38" y2="108.12" stroke="#333" stroke-width="0.6"/>
<rect x="390.78" y="107.42" width="2" height="1.4" fill="#aaa"/>
<line x1="393.38" y1="99.32" x2="395.38" y2="99.32" stroke="#333" stroke-width="0.6"/>
<rect x="390.78" y="98.62" width="2" height="1.4" fill="#aaa"/>
<line x1="393.38" y1="90.53" x2="395.38" y2="90.53" stroke="#333" stroke-width="0.6"/>
<rect x="390.78" y="89.83" width="2" height="1.4" fill="#aaa"/>
<line x1="394.18" y1="134.52" x2="395.38" y2="134.52" stroke="#555" stroke-width="0.5"/>
<line x1="394.18" y1="132.76" x2="395.38" y2="132.76" stroke="#555" stroke-width="0.5"/>
<line x1="394.18" y1="131" x2="395.38" y2="131" stroke="#555" stroke-width="0.5"/>
<line x1="394.18" y1="129.24" x2="395.38" y2="129.24" stroke="#555" stroke-width="0.5"/>
<line x1="394.18" y1="127.48" x2="395.38" y2="127.48" stroke="#555" stroke-width="0.5"/>
<line x1="394.18" y1="125.72" x2="395.38" y2="125.72" stroke="#555" stroke-width="0.5"/>
<line x1="394.18" y1="123.96" x2="395.38" y2="123.96" stroke="#555" stroke-width="0.5"/>
<line x1="394.18" y1="122.2" x2="395.38" y2="122.2" stroke="#555" stroke-width="0.5"/>
<line x1="394.18" y1="120.44" x2="395.38" y2="120.44" stroke="#555" stroke-width="0.5"/>
<line x1="394.18" y1="118.68" x2="395.38" y2="118.68" stroke="#555" stroke-width="0.5"/>
<line x1="394.18" y1="116.92" x2="395.38" y2="116.92" stroke="#555" stroke-width="0.5"/>
<line x1="394.18" y1="115.16" x2="395.38" y2="115.16" stroke="#555" stroke-width="0.5"/>
<line x1="394.18" y1="113.4" x2="395.38" y2="113.4" stroke="#555" stroke-width="0.5"/>
<line x1="394.18" y1="111.64" x2="395.38" y2="111.64" stroke="#555" stroke-width="0.5"/>
<line x1="394.18" y1="109.88" x2="395.38" y2="109.88" stroke="#555" stroke-width="0.5"/>
<line x1="394.18" y1="108.12" x2="395.38" y2="108.12" stroke="#555" stroke-width="0.5"/>
<line x1="394.18" y1="106.36" x2="395.38" y2="106.36" stroke="#555" stroke-width="0.5"/>
<line x1="394.18" y1="104.6" x2="395.38" y2="104.6" stroke="#555" stroke-width="0.5"/>
<line x1="394.18" y1="102.84" x2="395.38" y2="102.84" stroke="#555" stroke-width="0.5"/>
<line x1="394.18" y1="101.08" x2="395.38" y2="101.08" stroke="#555" stroke-width="0.5"/>
<line x1="394.18" y1="99.32" x2="395.38" y2="99.32" stroke="#555" stroke-width="0.5"/>
<line x1="394.18" y1="97.57" x2="395.38" y2="97.57" stroke="#555" stroke-width="0.5"/>
<line x1="394.18" y1="95.81" x2="395.38" y2="95.81" stroke="#555" stroke-width="0.5"/>
<line x1="394.18" y1="94.05" x2="395.38" y2="94.05" stroke="#555" stroke-width="0.5"/>
<line x1="394.18" y1="92.29" x2="395.38" y2="92.29" stroke="#555" stroke-width="0.5"/>
<line x1="394.18" y1="90.53" x2="395.38" y2="90.53" stroke="#555" stroke-width="0.5"/>
<line x1="396.67" y1="134.52" x2="396.67" y2="137.12" stroke="#333" stroke-width="0.6"/>
<line x1="397.53" y1="134.52" x2="397.53" y2="136.32" stroke="#333" stroke-width="0.6"/>
<line x1="398.4" y1="134.52" x2="398.4" y2="136.32" stroke="#333" stroke-width="0.6"/>
<line x1="399.15" y1="134.52" x2="399.15" y2="136.32" stroke="#333" stroke-width="0.6"/>
<line x1="399.9" y1="134.52" x2="399.9" y2="136.32" stroke="#333" stroke-width="0.6"/>
<line x1="400.76" y1="134.52" x2="400.76" y2="136.32" stroke="#333" stroke-width="0.6"/>
<line x1="401.84" y1="134.52" x2="401.84" y2="136.32" stroke="#333" stroke-width="0.6"/>
<line x1="402.7" y1="134.52" x2="402.7" y2="136.32" stroke="#333" stroke-width="0.6"/>
<line x1="403.46" y1="134.52" x2="403.46" y2="136.32" stroke="#333" stroke-width="0.6"/>
<line x1="404.53" y1="134.52" x2="404.53" y2="136.32" stroke="#333" stroke-width="0.6"/>
<line x1="405.61" y1="134.52" x2="405.61" y2="137.12" stroke="#333" stroke-width="0.6"/>
<line x1="407.22" y1="134.52" x2="407.22" y2="136.32" stroke="#333" stroke-width="0.6"/>
<line x1="408.84" y1="134.52" x2="408.84" y2="136.32" stroke="#333" stroke-width="0.6"/>
<line x1="409.91" y1="134.52" x2="409.91" y2="136.32" stroke="#333" stroke-width="0.6"/>
<line x1="410.99" y1="134.52" x2="410.99" y2="136.32" stroke="#333" stroke-width="0.6"/>
<line x1="412.07" y1="134.52" x2="412.07" y2="136.32" stroke="#333" stroke-width="0.6"/>
<line x1="413.14" y1="134.52" x2="413.14" y2="136.32" stroke="#333" stroke-width="0.6"/>
<line x1="414.22" y1="134.52" x2="414.22" y2="136.32" stroke="#333" stroke-width="0.6"/>
<line x1="415.3" y1="134.52" x2="415.3" y2="136.32" stroke="#333" stroke-width="0.6"/>
<line x1="416.37" y1="134.52" x2="416.37" y2="137.12" stroke="#333" stroke-width="0.6"/>
<line x1="418.53" y1="134.52" x2="418.53" y2="136.32" stroke="#333" stroke-width="0.6"/>
<line x1="420.14" y1="134.52" x2="420.14" y2="136.32" stroke="#333" stroke-width="0.6"/>
<line x1="421.75" y1="134.52" x2="421.75" y2="136.32" stroke="#333" stroke-width="0.6"/>
<line x1="422.83" y1="134.52" x2="422.83" y2="136.32" stroke="#333" stroke-width="0.6"/>
<line x1="423.91" y1="134.52" x2="423.91" y2="136.32" stroke="#333" stroke-width="0.6"/>
<line x1="424.98" y1="134.52" x2="424.98" y2="136.32" stroke="#333" stroke-width="0.6"/>
<line x1="426.06" y1="134.52" x2="426.06" y2="136.32" stroke="#333" stroke-width="0.6"/>
<line x1="427.14" y1="134.52" x2="427.14" y2="137.12" stroke="#333" stroke-width="0.6"/>
<line x1="428.75" y1="134.52" x2="428.75" y2="136.32" stroke="#333" stroke-width="0.6"/>
<line x1="430.9" y1="134.52" x2="430.9" y2="136.32" stroke="#333" stroke-width="0.6"/>
<line x1="433.06" y1="134.52" x2="433.06" y2="136.32" stroke="#333" stroke-width="0.6"/>
<line x1="434.13" y1="134.52" x2="434.13" y2="136.32" stroke="#333" stroke-width="0.6"/>
<line x1="435.21" y1="134.52" x2="435.21" y2="136.32" stroke="#333" stroke-width="0.6"/>
<line x1="436.29" y1="134.52" x2="436.29" y2="136.32" stroke="#333" stroke-width="0.6"/>
<line x1="437.36" y1="134.52" x2="437.36" y2="137.12" stroke="#333" stroke-width="0.6"/>
<line x1="438.98" y1="134.52" x2="438.98" y2="136.32" stroke="#333" stroke-width="0.6"/>
<path d="M401.84 134.52 L403.99 131.29 L406.15 123.75 L408.3 118.37 L409.91 116.22 L411.53 117.83 L412.82 119.45 L413.9 123.75 L415.3 124.83 L416.7 126.98 L418.2 130.21 L419.6 133.44 L421.22 134.52 L425.52 134.52" stroke="#33559a" stroke-width="1.1" fill="none" stroke-linejoin="round"/>
<path d="M401.84 134.52 L403.46 132.36 L405.61 125.9 L407.76 117.29 L409.16 107.6 L410.45 102.22 L411.53 104.91 L412.39 108.14 L413.14 103.84 L413.9 98.99 L414.76 102.22 L415.83 107.6 L417.13 108.14 L418.2 112.99 L419.28 117.29 L420.68 122.14 L421.75 123.21 L422.83 126.98 L424.23 132.36 L426.06 133.98 L428.21 134.73" stroke="#c21f45" stroke-width="1.1" fill="none" stroke-linejoin="round"/>
<rect x="395.5" y="88.5" width="45" height="46" fill="none" stroke="#1a1a1a" stroke-width="1.1"/>
<text x="395.5" y="148.6" font-size="10.2" fill="#b52a47" color="#b52a47" textLength="25" lengthAdjust="spacingAndGlyphs">IL27Ra</text>
<line x1="423.7" y1="145.5" x2="435" y2="145.5" stroke="#222" stroke-width="0.9"/>
<path d="M438 145.4 L433.5 143.2 L433.5 147.6 Z" fill="#222"/>
<line x1="452.38" y1="134.52" x2="454.38" y2="134.52" stroke="#333" stroke-width="0.6"/>
<rect x="449.78" y="133.82" width="2" height="1.4" fill="#aaa"/>
<line x1="452.38" y1="125.72" x2="454.38" y2="125.72" stroke="#333" stroke-width="0.6"/>
<rect x="449.78" y="125.02" width="2" height="1.4" fill="#aaa"/>
<line x1="452.38" y1="116.92" x2="454.38" y2="116.92" stroke="#333" stroke-width="0.6"/>
<rect x="449.78" y="116.22" width="2" height="1.4" fill="#aaa"/>
<line x1="452.38" y1="108.12" x2="454.38" y2="108.12" stroke="#333" stroke-width="0.6"/>
<rect x="449.78" y="107.42" width="2" height="1.4" fill="#aaa"/>
<line x1="452.38" y1="99.32" x2="454.38" y2="99.32" stroke="#333" stroke-width="0.6"/>
<rect x="449.78" y="98.62" width="2" height="1.4" fill="#aaa"/>
<line x1="452.38" y1="90.53" x2="454.38" y2="90.53" stroke="#333" stroke-width="0.6"/>
<rect x="449.78" y="89.83" width="2" height="1.4" fill="#aaa"/>
<line x1="453.18" y1="134.52" x2="454.38" y2="134.52" stroke="#555" stroke-width="0.5"/>
<line x1="453.18" y1="132.76" x2="454.38" y2="132.76" stroke="#555" stroke-width="0.5"/>
<line x1="453.18" y1="131" x2="454.38" y2="131" stroke="#555" stroke-width="0.5"/>
<line x1="453.18" y1="129.24" x2="454.38" y2="129.24" stroke="#555" stroke-width="0.5"/>
<line x1="453.18" y1="127.48" x2="454.38" y2="127.48" stroke="#555" stroke-width="0.5"/>
<line x1="453.18" y1="125.72" x2="454.38" y2="125.72" stroke="#555" stroke-width="0.5"/>
<line x1="453.18" y1="123.96" x2="454.38" y2="123.96" stroke="#555" stroke-width="0.5"/>
<line x1="453.18" y1="122.2" x2="454.38" y2="122.2" stroke="#555" stroke-width="0.5"/>
<line x1="453.18" y1="120.44" x2="454.38" y2="120.44" stroke="#555" stroke-width="0.5"/>
<line x1="453.18" y1="118.68" x2="454.38" y2="118.68" stroke="#555" stroke-width="0.5"/>
<line x1="453.18" y1="116.92" x2="454.38" y2="116.92" stroke="#555" stroke-width="0.5"/>
<line x1="453.18" y1="115.16" x2="454.38" y2="115.16" stroke="#555" stroke-width="0.5"/>
<line x1="453.18" y1="113.4" x2="454.38" y2="113.4" stroke="#555" stroke-width="0.5"/>
<line x1="453.18" y1="111.64" x2="454.38" y2="111.64" stroke="#555" stroke-width="0.5"/>
<line x1="453.18" y1="109.88" x2="454.38" y2="109.88" stroke="#555" stroke-width="0.5"/>
<line x1="453.18" y1="108.12" x2="454.38" y2="108.12" stroke="#555" stroke-width="0.5"/>
<line x1="453.18" y1="106.36" x2="454.38" y2="106.36" stroke="#555" stroke-width="0.5"/>
<line x1="453.18" y1="104.6" x2="454.38" y2="104.6" stroke="#555" stroke-width="0.5"/>
<line x1="453.18" y1="102.84" x2="454.38" y2="102.84" stroke="#555" stroke-width="0.5"/>
<line x1="453.18" y1="101.08" x2="454.38" y2="101.08" stroke="#555" stroke-width="0.5"/>
<line x1="453.18" y1="99.32" x2="454.38" y2="99.32" stroke="#555" stroke-width="0.5"/>
<line x1="453.18" y1="97.57" x2="454.38" y2="97.57" stroke="#555" stroke-width="0.5"/>
<line x1="453.18" y1="95.81" x2="454.38" y2="95.81" stroke="#555" stroke-width="0.5"/>
<line x1="453.18" y1="94.05" x2="454.38" y2="94.05" stroke="#555" stroke-width="0.5"/>
<line x1="453.18" y1="92.29" x2="454.38" y2="92.29" stroke="#555" stroke-width="0.5"/>
<line x1="453.18" y1="90.53" x2="454.38" y2="90.53" stroke="#555" stroke-width="0.5"/>
<line x1="455.67" y1="134.52" x2="455.67" y2="137.12" stroke="#333" stroke-width="0.6"/>
<line x1="456.53" y1="134.52" x2="456.53" y2="136.32" stroke="#333" stroke-width="0.6"/>
<line x1="457.4" y1="134.52" x2="457.4" y2="136.32" stroke="#333" stroke-width="0.6"/>
<line x1="458.15" y1="134.52" x2="458.15" y2="136.32" stroke="#333" stroke-width="0.6"/>
<line x1="458.9" y1="134.52" x2="458.9" y2="136.32" stroke="#333" stroke-width="0.6"/>
<line x1="459.76" y1="134.52" x2="459.76" y2="136.32" stroke="#333" stroke-width="0.6"/>
<line x1="460.84" y1="134.52" x2="460.84" y2="136.32" stroke="#333" stroke-width="0.6"/>
<line x1="461.7" y1="134.52" x2="461.7" y2="136.32" stroke="#333" stroke-width="0.6"/>
<line x1="462.46" y1="134.52" x2="462.46" y2="136.32" stroke="#333" stroke-width="0.6"/>
<line x1="463.53" y1="134.52" x2="463.53" y2="136.32" stroke="#333" stroke-width="0.6"/>
<line x1="464.61" y1="134.52" x2="464.61" y2="137.12" stroke="#333" stroke-width="0.6"/>
<line x1="466.22" y1="134.52" x2="466.22" y2="136.32" stroke="#333" stroke-width="0.6"/>
<line x1="467.84" y1="134.52" x2="467.84" y2="136.32" stroke="#333" stroke-width="0.6"/>
<line x1="468.91" y1="134.52" x2="468.91" y2="136.32" stroke="#333" stroke-width="0.6"/>
<line x1="469.99" y1="134.52" x2="469.99" y2="136.32" stroke="#333" stroke-width="0.6"/>
<line x1="471.07" y1="134.52" x2="471.07" y2="136.32" stroke="#333" stroke-width="0.6"/>
<line x1="472.14" y1="134.52" x2="472.14" y2="136.32" stroke="#333" stroke-width="0.6"/>
<line x1="473.22" y1="134.52" x2="473.22" y2="136.32" stroke="#333" stroke-width="0.6"/>
<line x1="474.3" y1="134.52" x2="474.3" y2="136.32" stroke="#333" stroke-width="0.6"/>
<line x1="475.37" y1="134.52" x2="475.37" y2="137.12" stroke="#333" stroke-width="0.6"/>
<line x1="477.53" y1="134.52" x2="477.53" y2="136.32" stroke="#333" stroke-width="0.6"/>
<line x1="479.14" y1="134.52" x2="479.14" y2="136.32" stroke="#333" stroke-width="0.6"/>
<line x1="480.75" y1="134.52" x2="480.75" y2="136.32" stroke="#333" stroke-width="0.6"/>
<line x1="481.83" y1="134.52" x2="481.83" y2="136.32" stroke="#333" stroke-width="0.6"/>
<line x1="482.91" y1="134.52" x2="482.91" y2="136.32" stroke="#333" stroke-width="0.6"/>
<line x1="483.98" y1="134.52" x2="483.98" y2="136.32" stroke="#333" stroke-width="0.6"/>
<line x1="485.06" y1="134.52" x2="485.06" y2="136.32" stroke="#333" stroke-width="0.6"/>
<line x1="486.14" y1="134.52" x2="486.14" y2="137.12" stroke="#333" stroke-width="0.6"/>
<line x1="487.75" y1="134.52" x2="487.75" y2="136.32" stroke="#333" stroke-width="0.6"/>
<line x1="489.9" y1="134.52" x2="489.9" y2="136.32" stroke="#333" stroke-width="0.6"/>
<line x1="492.06" y1="134.52" x2="492.06" y2="136.32" stroke="#333" stroke-width="0.6"/>
<line x1="493.13" y1="134.52" x2="493.13" y2="136.32" stroke="#333" stroke-width="0.6"/>
<line x1="494.21" y1="134.52" x2="494.21" y2="136.32" stroke="#333" stroke-width="0.6"/>
<line x1="495.29" y1="134.52" x2="495.29" y2="136.32" stroke="#333" stroke-width="0.6"/>
<line x1="496.36" y1="134.52" x2="496.36" y2="137.12" stroke="#333" stroke-width="0.6"/>
<line x1="497.98" y1="134.52" x2="497.98" y2="136.32" stroke="#333" stroke-width="0.6"/>
<path d="M466.22 134.52 L467.51 130.21 L468.91 128.06 L470.53 123.75 L471.6 122.14 L472.68 123.21 L473.97 125.37 L475.37 121.06 L476.77 118.37 L477.85 116.22 L478.92 118.37 L480.43 123.75 L481.83 129.13 L483.66 132.36 L486.14 134.3" stroke="#33559a" stroke-width="1.1" fill="none" stroke-linejoin="round"/>
<path d="M466.22 134.52 L467.51 130.21 L468.59 128.06 L469.99 129.13 L471.6 127.52 L473.22 126.98 L474.83 123.75 L476.45 119.45 L477.53 114.06 L478.6 109.22 L479.68 111.37 L481.29 110.3 L482.58 114.06 L483.66 117.29 L484.74 123.75 L486.14 133.98 L487.21 134.73" stroke="#c21f45" stroke-width="1.1" fill="none" stroke-linejoin="round"/>
<rect x="454.5" y="88.5" width="45" height="46" fill="none" stroke="#1a1a1a" stroke-width="1.1"/>
<text x="455" y="148.6" font-size="10.2" fill="#3a3a3a" color="#3a3a3a" textLength="24.3" lengthAdjust="spacingAndGlyphs">CD150</text>
<line x1="483" y1="145.5" x2="495" y2="145.5" stroke="#222" stroke-width="0.9"/>
<path d="M498 145.4 L493.5 143.2 L493.5 147.6 Z" fill="#222"/>
<text x="297.4" y="51.8" font-size="7.8" fill="#33559a" color="#33559a" textLength="19.4" lengthAdjust="spacingAndGlyphs" style="stroke-width:0.1px">yHSC</text>
<text x="297.8" y="60.5" font-size="7.8" fill="#c21f45" color="#c21f45" textLength="19.9" lengthAdjust="spacingAndGlyphs" style="stroke-width:0.1px">oHSC</text>
<text x="266" y="112.3" font-size="9.6" text-anchor="middle" fill="#3a3a3a" color="#3a3a3a" textLength="44.2" lengthAdjust="spacingAndGlyphs" transform="rotate(-90 266 112.3)" dy="3.3">Cell number</text>
<line x1="265.5" y1="88" x2="265.5" y2="75.8" stroke="#222" stroke-width="0.9"/>
<path d="M265.9 72.8 L263.6 77.8 L268.2 77.8 Z" fill="#222"/>
<text x="19" y="171.3" font-size="12" font-weight="bold" fill="#000" color="#000" textLength="9.79" lengthAdjust="spacingAndGlyphs">C</text>
<line x1="54.5" y1="183.3" x2="54.5" y2="268.8" stroke="#231f20" stroke-width="1.1"/>
<line x1="51.6" y1="268.5" x2="54.4" y2="268.5" stroke="#231f20" stroke-width="1"/>
<text x="48.1" y="271.7" font-size="9.4" text-anchor="end">0</text>
<line x1="51.6" y1="240.5" x2="54.4" y2="240.5" stroke="#231f20" stroke-width="1"/>
<text x="48.1" y="244.3" font-size="9.4" text-anchor="end">20</text>
<line x1="51.6" y1="213.5" x2="54.4" y2="213.5" stroke="#231f20" stroke-width="1"/>
<text x="48.1" y="216.9" font-size="9.4" text-anchor="end">40</text>
<line x1="51.6" y1="186.5" x2="54.4" y2="186.5" stroke="#231f20" stroke-width="1"/>
<text x="48.1" y="189.5" font-size="9.4" text-anchor="end">60</text>
<line x1="54.4" y1="268.5" x2="86.3" y2="268.5" stroke="#231f20" stroke-width="1"/>
<line x1="70.5" y1="268.3" x2="70.5" y2="270.8" stroke="#231f20" stroke-width="1"/>
<line x1="65.5" y1="263.8" x2="65.5" y2="262" stroke="#231f20" stroke-width="0.9"/>
<line x1="62.25" y1="262.5" x2="67.75" y2="262.5" stroke="#231f20" stroke-width="0.9"/>
<line x1="75.5" y1="211.8" x2="75.5" y2="203" stroke="#231f20" stroke-width="0.9"/>
<line x1="72.8" y1="203.5" x2="77.8" y2="203.5" stroke="#231f20" stroke-width="0.9"/>
<rect x="60" y="263.8" width="10.2" height="4.5" fill="#2c4b86"/>
<rect x="70.2" y="211.8" width="10.4" height="56.5" fill="#a3042b"/>
<text x="60" y="183.8" font-size="7.6" fill="#3a3a3a" color="#3a3a3a" textLength="29.5" lengthAdjust="spacingAndGlyphs">p=0.0026</text>
<text x="60" y="196.3" font-size="7.6" fill="#3a3a3a" color="#3a3a3a" textLength="21.3" lengthAdjust="spacingAndGlyphs">11-fold</text>
<text x="70.2" y="282.6" font-size="9.4" text-anchor="middle" textLength="16.4" lengthAdjust="spacingAndGlyphs">HSC</text>
<text x="30.6" y="225.7" font-size="8.4" text-anchor="middle" textLength="69.5" lengthAdjust="spacingAndGlyphs" transform="rotate(-90 30.6 225.7)" dy="3">HSC number (10<tspan dy="-3" font-size="5.6">3</tspan><tspan dy="3">)</tspan></text>
<line x1="116.5" y1="181.9" x2="116.5" y2="267.9" stroke="#231f20" stroke-width="1.1"/>
<line x1="114.1" y1="267.5" x2="116.9" y2="267.5" stroke="#231f20" stroke-width="1"/>
<text x="110.6" y="270.8" font-size="9.4" text-anchor="end">0</text>
<line x1="114.1" y1="250.5" x2="116.9" y2="250.5" stroke="#231f20" stroke-width="1"/>
<text x="110.6" y="254.26" font-size="9.4" text-anchor="end">5</text>
<line x1="114.1" y1="234.5" x2="116.9" y2="234.5" stroke="#231f20" stroke-width="1"/>
<text x="110.6" y="237.72" font-size="9.4" text-anchor="end">10</text>
<line x1="114.1" y1="217.5" x2="116.9" y2="217.5" stroke="#231f20" stroke-width="1"/>
<text x="110.6" y="221.18" font-size="9.4" text-anchor="end">15</text>
<line x1="114.1" y1="201.5" x2="116.9" y2="201.5" stroke="#231f20" stroke-width="1"/>
<text x="110.6" y="204.64" font-size="9.4" text-anchor="end">20</text>
<line x1="114.1" y1="184.5" x2="116.9" y2="184.5" stroke="#231f20" stroke-width="1"/>
<text x="110.6" y="188.1" font-size="9.4" text-anchor="end">25</text>
<line x1="116.9" y1="267.5" x2="176.3" y2="267.5" stroke="#231f20" stroke-width="1"/>
<line x1="132.5" y1="267.4" x2="132.5" y2="269.9" stroke="#231f20" stroke-width="1"/>
<line x1="161.5" y1="267.4" x2="161.5" y2="269.9" stroke="#231f20" stroke-width="1"/>
<line x1="127.5" y1="262.5" x2="127.5" y2="261.2" stroke="#231f20" stroke-width="0.9"/>
<line x1="124.5" y1="261.5" x2="129.5" y2="261.5" stroke="#231f20" stroke-width="0.9"/>
<line x1="136.5" y1="243.3" x2="136.5" y2="237.5" stroke="#231f20" stroke-width="0.9"/>
<line x1="134.05" y1="237.5" x2="139.55" y2="237.5" stroke="#231f20" stroke-width="0.9"/>
<line x1="156.5" y1="265" x2="156.5" y2="264" stroke="#231f20" stroke-width="0.9"/>
<line x1="154.35" y1="264.5" x2="158.85" y2="264.5" stroke="#231f20" stroke-width="0.9"/>
<line x1="166.5" y1="205" x2="166.5" y2="196.3" stroke="#231f20" stroke-width="0.9"/>
<line x1="163.8" y1="196.5" x2="168.8" y2="196.5" stroke="#231f20" stroke-width="0.9"/>
<rect x="122" y="262.5" width="10" height="4.9" fill="#2c4b86"/>
<rect x="132" y="243.3" width="9.8" height="24.1" fill="#a3042b"/>
<rect x="152" y="265" width="9.3" height="2.4" fill="#2c4b86"/>
<rect x="161.3" y="205" width="10" height="62.4" fill="#a3042b"/>
<text x="123" y="217" font-size="7.6" fill="#3a3a3a" color="#3a3a3a" textLength="29" lengthAdjust="spacingAndGlyphs">p=0.0077</text>
<text x="123" y="230.8" font-size="7.6" fill="#3a3a3a" color="#3a3a3a" textLength="18.3" lengthAdjust="spacingAndGlyphs">5-fold</text>
<text x="152" y="179.3" font-size="7.6" fill="#3a3a3a" color="#3a3a3a" textLength="28.5" lengthAdjust="spacingAndGlyphs">p=0.0001</text>
<text x="153" y="192.5" font-size="7.6" fill="#3a3a3a" color="#3a3a3a" textLength="22.5" lengthAdjust="spacingAndGlyphs">23-fold</text>
<rect x="179.3" y="195.8" width="15.7" height="2.8" fill="#2c4b86"/>
<text x="197" y="199.8" font-size="9.4" textLength="21.7" lengthAdjust="spacingAndGlyphs">yHSC</text>
<rect x="179.3" y="204.4" width="15.7" height="2.8" fill="#a3042b"/>
<text x="197" y="208.4" font-size="9.4" textLength="22" lengthAdjust="spacingAndGlyphs">oHSC</text>
<text x="117.8" y="282.6" font-size="9.2" textLength="25.6" lengthAdjust="spacingAndGlyphs">IL27Ra</text>
<text x="143.6" y="279" font-size="6">-</text>
<text x="146.2" y="282.6" font-size="9.2" textLength="25.6" lengthAdjust="spacingAndGlyphs">IL27Ra</text>
<text x="172.3" y="279" font-size="6">+</text>
<text x="235" y="171.3" font-size="12" font-weight="bold" fill="#000" color="#000" textLength="9.79" lengthAdjust="spacingAndGlyphs">D</text>
<line x1="265.5" y1="175.1" x2="265.5" y2="269.4" stroke="#231f20" stroke-width="1.1"/>
<line x1="262.7" y1="268.5" x2="265.5" y2="268.5" stroke="#231f20" stroke-width="1"/>
<text x="259.4" y="272" font-size="9.2" text-anchor="end">0</text>
<line x1="262.7" y1="245.5" x2="265.5" y2="245.5" stroke="#231f20" stroke-width="1"/>
<text x="259.4" y="249.05" font-size="9.2" text-anchor="end">20</text>
<line x1="262.7" y1="222.5" x2="265.5" y2="222.5" stroke="#231f20" stroke-width="1"/>
<text x="259.4" y="226.1" font-size="9.2" text-anchor="end">40</text>
<line x1="262.7" y1="200.5" x2="265.5" y2="200.5" stroke="#231f20" stroke-width="1"/>
<text x="259.4" y="203.15" font-size="9.2" text-anchor="end">60</text>
<line x1="262.7" y1="177.5" x2="265.5" y2="177.5" stroke="#231f20" stroke-width="1"/>
<text x="259.4" y="180.2" font-size="9.2" text-anchor="end">80</text>
<line x1="265.5" y1="268.5" x2="403" y2="268.5" stroke="#231f20" stroke-width="1"/>
<line x1="277.5" y1="268.9" x2="277.5" y2="271.4" stroke="#231f20" stroke-width="1"/>
<line x1="300.5" y1="268.9" x2="300.5" y2="271.4" stroke="#231f20" stroke-width="1"/>
<line x1="323.5" y1="268.9" x2="323.5" y2="271.4" stroke="#231f20" stroke-width="1"/>
<line x1="346.5" y1="268.9" x2="346.5" y2="271.4" stroke="#231f20" stroke-width="1"/>
<line x1="368.5" y1="268.9" x2="368.5" y2="271.4" stroke="#231f20" stroke-width="1"/>
<line x1="391.5" y1="268.9" x2="391.5" y2="271.4" stroke="#231f20" stroke-width="1"/>
<text x="277.3" y="282.6" font-size="9.4" text-anchor="middle" textLength="18" lengthAdjust="spacingAndGlyphs">HSC</text>
<text x="300.2" y="282.6" font-size="9.4" text-anchor="middle" textLength="19.5" lengthAdjust="spacingAndGlyphs">MPP</text>
<text x="323" y="282.6" font-size="9.4" text-anchor="middle" textLength="19.5" lengthAdjust="spacingAndGlyphs">CMP</text>
<text x="346.2" y="282.6" font-size="9.4" text-anchor="middle" textLength="19.5" lengthAdjust="spacingAndGlyphs">GMP</text>
<text x="368.8" y="282.6" font-size="9.4" text-anchor="middle" textLength="17.5" lengthAdjust="spacingAndGlyphs">MEP</text>
<text x="391.3" y="282.6" font-size="9.4" text-anchor="middle" textLength="15" lengthAdjust="spacingAndGlyphs">CLP</text>
<text x="241.3" y="220.6" font-size="9.8" text-anchor="middle" textLength="66.3" lengthAdjust="spacingAndGlyphs" transform="rotate(-90 241.3 220.6)" dy="3.4">% of IL27Ra+ cells</text>
<text x="268" y="192.5" font-size="7.6" fill="#3a3a3a" color="#3a3a3a" textLength="30" lengthAdjust="spacingAndGlyphs">p=0.0010</text>
<circle cx="354.3" cy="185" r="1.4" fill="#2c4b86"/>
<text x="359.5" y="188.4" font-size="9.6" textLength="23.5" lengthAdjust="spacingAndGlyphs">Young</text>
<rect x="352.9" y="196.1" width="2.8" height="2.8" fill="#a3042b"/>
<text x="359.5" y="200.6" font-size="9.6" textLength="14.3" lengthAdjust="spacingAndGlyphs">Old</text>
<line x1="273.5" y1="239.5" x2="273.5" y2="244.5" stroke="#2c4b86" stroke-width="0.8"/>
<line x1="271.7" y1="239.5" x2="275.1" y2="239.5" stroke="#2c4b86" stroke-width="0.8"/>
<line x1="271.7" y1="244.5" x2="275.1" y2="244.5" stroke="#2c4b86" stroke-width="0.8"/>
<circle cx="273.3" cy="230.7" r="1.45" fill="#2c4b86"/>
<circle cx="271" cy="248.6" r="1.45" fill="#2c4b86"/>
<circle cx="275.1" cy="246.8" r="1.45" fill="#2c4b86"/>
<circle cx="277.1" cy="244.1" r="1.45" fill="#2c4b86"/>
<circle cx="273.5" cy="240.3" r="1.45" fill="#2c4b86"/>
<circle cx="271.5" cy="243.5" r="1.45" fill="#2c4b86"/>
<line x1="269.7" y1="242.5" x2="277.1" y2="242.5" stroke="#111" stroke-width="1"/>
<line x1="281.5" y1="213" x2="281.5" y2="218.5" stroke="#a3042b" stroke-width="0.8"/>
<line x1="279.3" y1="213.5" x2="282.7" y2="213.5" stroke="#a3042b" stroke-width="0.8"/>
<line x1="279.3" y1="218.5" x2="282.7" y2="218.5" stroke="#a3042b" stroke-width="0.8"/>
<rect x="279.5" y="201" width="2.8" height="2.8" fill="#a3042b"/>
<rect x="278.4" y="210.8" width="2.8" height="2.8" fill="#a3042b"/>
<rect x="280.8" y="211.4" width="2.8" height="2.8" fill="#a3042b"/>
<rect x="279.5" y="218.9" width="2.8" height="2.8" fill="#a3042b"/>
<rect x="279.5" y="225.9" width="2.8" height="2.8" fill="#a3042b"/>
<line x1="277.4" y1="215.5" x2="284.8" y2="215.5" stroke="#111" stroke-width="1"/>
<line x1="296.5" y1="242" x2="296.5" y2="246.3" stroke="#2c4b86" stroke-width="0.8"/>
<line x1="294.5" y1="242.5" x2="297.9" y2="242.5" stroke="#2c4b86" stroke-width="0.8"/>
<line x1="294.5" y1="246.5" x2="297.9" y2="246.5" stroke="#2c4b86" stroke-width="0.8"/>
<circle cx="296.2" cy="238.1" r="1.45" fill="#2c4b86"/>
<circle cx="294.8" cy="242.3" r="1.45" fill="#2c4b86"/>
<circle cx="297.5" cy="242.1" r="1.45" fill="#2c4b86"/>
<circle cx="296.2" cy="244.5" r="1.45" fill="#2c4b86"/>
<circle cx="296.2" cy="254.2" r="1.45" fill="#2c4b86"/>
<line x1="292.9" y1="244.5" x2="299.7" y2="244.5" stroke="#111" stroke-width="1"/>
<line x1="304.5" y1="222.6" x2="304.5" y2="236.7" stroke="#a3042b" stroke-width="0.8"/>
<line x1="302.3" y1="222.5" x2="305.7" y2="222.5" stroke="#a3042b" stroke-width="0.8"/>
<line x1="302.3" y1="236.5" x2="305.7" y2="236.5" stroke="#a3042b" stroke-width="0.8"/>
<rect x="300.6" y="212.2" width="2.8" height="2.8" fill="#a3042b"/>
<rect x="304.4" y="209.1" width="2.8" height="2.8" fill="#a3042b"/>
<rect x="300.6" y="236" width="2.8" height="2.8" fill="#a3042b"/>
<rect x="304.4" y="239.1" width="2.8" height="2.8" fill="#a3042b"/>
<rect x="302.6" y="244.7" width="2.8" height="2.8" fill="#a3042b"/>
<line x1="300.3" y1="229.5" x2="307.8" y2="229.5" stroke="#111" stroke-width="1"/>
<line x1="319.5" y1="244.8" x2="319.5" y2="250.3" stroke="#2c4b86" stroke-width="0.8"/>
<line x1="317.5" y1="244.5" x2="320.9" y2="244.5" stroke="#2c4b86" stroke-width="0.8"/>
<line x1="317.5" y1="250.5" x2="320.9" y2="250.5" stroke="#2c4b86" stroke-width="0.8"/>
<circle cx="317.5" cy="242.8" r="1.45" fill="#2c4b86"/>
<circle cx="320.2" cy="244.8" r="1.45" fill="#2c4b86"/>
<circle cx="319.1" cy="253.5" r="1.45" fill="#2c4b86"/>
<line x1="315.5" y1="247.5" x2="322.9" y2="247.5" stroke="#111" stroke-width="1"/>
<line x1="326.5" y1="252.8" x2="326.5" y2="255.8" stroke="#a3042b" stroke-width="0.8"/>
<line x1="324.7" y1="252.5" x2="328.1" y2="252.5" stroke="#a3042b" stroke-width="0.8"/>
<line x1="324.7" y1="255.5" x2="328.1" y2="255.5" stroke="#a3042b" stroke-width="0.8"/>
<rect x="323.5" y="250.8" width="2.8" height="2.8" fill="#a3042b"/>
<rect x="326.9" y="251.5" width="2.8" height="2.8" fill="#a3042b"/>
<rect x="324.8" y="257.1" width="2.8" height="2.8" fill="#a3042b"/>
<line x1="323" y1="254.5" x2="330" y2="254.5" stroke="#111" stroke-width="1"/>
<circle cx="340.4" cy="253.9" r="1.45" fill="#2c4b86"/>
<circle cx="342.4" cy="258" r="1.45" fill="#2c4b86"/>
<circle cx="345" cy="256.3" r="1.45" fill="#2c4b86"/>
<circle cx="343" cy="256.5" r="1.45" fill="#2c4b86"/>
<line x1="338.4" y1="256.5" x2="345.5" y2="256.5" stroke="#111" stroke-width="1"/>
<line x1="349.5" y1="255.6" x2="349.5" y2="259" stroke="#a3042b" stroke-width="0.8"/>
<line x1="347.8" y1="255.5" x2="351.2" y2="255.5" stroke="#a3042b" stroke-width="0.8"/>
<line x1="347.8" y1="259.5" x2="351.2" y2="259.5" stroke="#a3042b" stroke-width="0.8"/>
<rect x="348.1" y="251.2" width="2.8" height="2.8" fill="#a3042b"/>
<rect x="348.1" y="253.9" width="2.8" height="2.8" fill="#a3042b"/>
<rect x="348.1" y="259.3" width="2.8" height="2.8" fill="#a3042b"/>
<rect x="348.1" y="261.3" width="2.8" height="2.8" fill="#a3042b"/>
<line x1="346.4" y1="257.5" x2="353.6" y2="257.5" stroke="#111" stroke-width="1"/>
<line x1="365.5" y1="247.6" x2="365.5" y2="251.5" stroke="#2c4b86" stroke-width="0.8"/>
<line x1="363.3" y1="247.5" x2="366.7" y2="247.5" stroke="#2c4b86" stroke-width="0.8"/>
<line x1="363.3" y1="251.5" x2="366.7" y2="251.5" stroke="#2c4b86" stroke-width="0.8"/>
<circle cx="365.3" cy="245.2" r="1.45" fill="#2c4b86"/>
<circle cx="364.9" cy="247.2" r="1.45" fill="#2c4b86"/>
<circle cx="366.6" cy="250.6" r="1.45" fill="#2c4b86"/>
<circle cx="363.3" cy="253" r="1.45" fill="#2c4b86"/>
<line x1="361.2" y1="249.5" x2="368" y2="249.5" stroke="#111" stroke-width="1"/>
<line x1="373.5" y1="242.5" x2="373.5" y2="253" stroke="#a3042b" stroke-width="0.8"/>
<line x1="371.3" y1="242.5" x2="374.7" y2="242.5" stroke="#a3042b" stroke-width="0.8"/>
<line x1="371.3" y1="253.5" x2="374.7" y2="253.5" stroke="#a3042b" stroke-width="0.8"/>
<rect x="371.6" y="237.1" width="2.8" height="2.8" fill="#a3042b"/>
<rect x="371.6" y="255.5" width="2.8" height="2.8" fill="#a3042b"/>
<line x1="369.3" y1="247.5" x2="376.7" y2="247.5" stroke="#111" stroke-width="1"/>
<line x1="388.5" y1="245.2" x2="388.5" y2="258.5" stroke="#2c4b86" stroke-width="0.8"/>
<line x1="386.3" y1="245.5" x2="389.7" y2="245.5" stroke="#2c4b86" stroke-width="0.8"/>
<line x1="386.3" y1="258.5" x2="389.7" y2="258.5" stroke="#2c4b86" stroke-width="0.8"/>
<circle cx="388.2" cy="238.5" r="1.45" fill="#2c4b86"/>
<circle cx="389.5" cy="256.9" r="1.45" fill="#2c4b86"/>
<circle cx="386.1" cy="260.3" r="1.45" fill="#2c4b86"/>
<line x1="384.5" y1="251.5" x2="391.5" y2="251.5" stroke="#111" stroke-width="1"/>
<line x1="395.5" y1="252.6" x2="395.5" y2="260.7" stroke="#a3042b" stroke-width="0.8"/>
<line x1="394.1" y1="252.5" x2="397.5" y2="252.5" stroke="#a3042b" stroke-width="0.8"/>
<line x1="394.1" y1="260.5" x2="397.5" y2="260.5" stroke="#a3042b" stroke-width="0.8"/>
<rect x="394.4" y="247.6" width="2.8" height="2.8" fill="#a3042b"/>
<rect x="394.4" y="255.2" width="2.8" height="2.8" fill="#a3042b"/>
<rect x="394.4" y="262.4" width="2.8" height="2.8" fill="#a3042b"/>
<line x1="392.6" y1="256.5" x2="399.3" y2="256.5" stroke="#111" stroke-width="1"/>
<text x="19.2" y="304.6" font-size="12" font-weight="bold" fill="#000" color="#000" textLength="9.05" lengthAdjust="spacingAndGlyphs">E</text>
<text x="59.3" y="309.2" font-size="10.2">1</text>
<text x="63.9" y="305.4" font-size="7.8" textLength="6.9" lengthAdjust="spacingAndGlyphs">st</text>
<text x="73.7" y="309.2" font-size="10.2" textLength="29.7" lengthAdjust="spacingAndGlyphs">overall</text>
<line x1="54.5" y1="314.55" x2="54.5" y2="389.25" stroke="#231f20" stroke-width="1.1"/>
<line x1="51.6" y1="388.5" x2="54.4" y2="388.5" stroke="#231f20" stroke-width="1"/>
<text x="47.9" y="391.75" font-size="8.8" text-anchor="end">0</text>
<line x1="51.6" y1="374.5" x2="54.4" y2="374.5" stroke="#231f20" stroke-width="1"/>
<text x="47.9" y="377.17" font-size="8.8" text-anchor="end">20</text>
<line x1="51.6" y1="359.5" x2="54.4" y2="359.5" stroke="#231f20" stroke-width="1"/>
<text x="47.9" y="362.59" font-size="8.8" text-anchor="end">40</text>
<line x1="51.6" y1="345.5" x2="54.4" y2="345.5" stroke="#231f20" stroke-width="1"/>
<text x="47.9" y="348.01" font-size="8.8" text-anchor="end">60</text>
<line x1="51.6" y1="330.5" x2="54.4" y2="330.5" stroke="#231f20" stroke-width="1"/>
<text x="47.9" y="333.43" font-size="8.8" text-anchor="end">80</text>
<line x1="51.6" y1="315.5" x2="54.4" y2="315.5" stroke="#231f20" stroke-width="1"/>
<text x="47.9" y="318.85" font-size="8.8" text-anchor="end">100</text>
<line x1="54.4" y1="388.5" x2="119.4" y2="388.5" stroke="#231f20" stroke-width="1"/>
<line x1="54.5" y1="388.75" x2="54.5" y2="391.35" stroke="#231f20" stroke-width="1"/>
<text x="54.4" y="402.5" font-size="8.6" text-anchor="middle">0</text>
<line x1="66.5" y1="388.75" x2="66.5" y2="391.35" stroke="#231f20" stroke-width="1"/>
<text x="66.9" y="402.5" font-size="8.6" text-anchor="middle">1</text>
<line x1="79.5" y1="388.75" x2="79.5" y2="391.35" stroke="#231f20" stroke-width="1"/>
<text x="79.4" y="402.5" font-size="8.6" text-anchor="middle">2</text>
<line x1="91.5" y1="388.75" x2="91.5" y2="391.35" stroke="#231f20" stroke-width="1"/>
<text x="91.9" y="402.5" font-size="8.6" text-anchor="middle">3</text>
<line x1="104.5" y1="388.75" x2="104.5" y2="391.35" stroke="#231f20" stroke-width="1"/>
<text x="104.4" y="402.5" font-size="8.6" text-anchor="middle">4</text>
<line x1="116.5" y1="388.75" x2="116.5" y2="391.35" stroke="#231f20" stroke-width="1"/>
<text x="116.9" y="402.5" font-size="8.6" text-anchor="middle">5</text>
<text x="48.8" y="416.7" font-size="9" textLength="48.31" lengthAdjust="spacingAndGlyphs">Months after 1</text>
<text x="98.32" y="413.2" font-size="7.4" textLength="6.84" lengthAdjust="spacingAndGlyphs">st</text>
<text x="107.98" y="416.7" font-size="9" textLength="18.12" lengthAdjust="spacingAndGlyphs">HSCT</text>
<text x="25" y="350" font-size="9.8" text-anchor="middle" textLength="67.5" lengthAdjust="spacingAndGlyphs" transform="rotate(-90 25 350)" dy="3.4">Donor derived (%)</text>
<line x1="66.5" y1="363.75" x2="66.5" y2="373.75" stroke="#2c4b86" stroke-width="0.9"/>
<line x1="64.7" y1="363.5" x2="69.1" y2="363.5" stroke="#2c4b86" stroke-width="0.9"/>
<line x1="64.7" y1="373.5" x2="69.1" y2="373.5" stroke="#2c4b86" stroke-width="0.9"/>
<line x1="79.5" y1="340.5" x2="79.5" y2="352" stroke="#2c4b86" stroke-width="0.9"/>
<line x1="77.2" y1="340.5" x2="81.6" y2="340.5" stroke="#2c4b86" stroke-width="0.9"/>
<line x1="77.2" y1="352.5" x2="81.6" y2="352.5" stroke="#2c4b86" stroke-width="0.9"/>
<line x1="91.5" y1="333" x2="91.5" y2="347" stroke="#2c4b86" stroke-width="0.9"/>
<line x1="89.7" y1="333.5" x2="94.1" y2="333.5" stroke="#2c4b86" stroke-width="0.9"/>
<line x1="89.7" y1="347.5" x2="94.1" y2="347.5" stroke="#2c4b86" stroke-width="0.9"/>
<line x1="104.5" y1="330" x2="104.5" y2="344.25" stroke="#2c4b86" stroke-width="0.9"/>
<line x1="102.2" y1="330.5" x2="106.6" y2="330.5" stroke="#2c4b86" stroke-width="0.9"/>
<line x1="102.2" y1="344.5" x2="106.6" y2="344.5" stroke="#2c4b86" stroke-width="0.9"/>
<line x1="66.5" y1="375" x2="66.5" y2="381.25" stroke="#a3042b" stroke-width="0.9"/>
<line x1="64.7" y1="375.5" x2="69.1" y2="375.5" stroke="#a3042b" stroke-width="0.9"/>
<line x1="64.7" y1="381.5" x2="69.1" y2="381.5" stroke="#a3042b" stroke-width="0.9"/>
<line x1="79.5" y1="368.75" x2="79.5" y2="381.25" stroke="#a3042b" stroke-width="0.9"/>
<line x1="77.2" y1="368.5" x2="81.6" y2="368.5" stroke="#a3042b" stroke-width="0.9"/>
<line x1="77.2" y1="381.5" x2="81.6" y2="381.5" stroke="#a3042b" stroke-width="0.9"/>
<line x1="91.5" y1="366.25" x2="91.5" y2="380.5" stroke="#a3042b" stroke-width="0.9"/>
<line x1="89.7" y1="366.5" x2="94.1" y2="366.5" stroke="#a3042b" stroke-width="0.9"/>
<line x1="89.7" y1="380.5" x2="94.1" y2="380.5" stroke="#a3042b" stroke-width="0.9"/>
<line x1="104.5" y1="363.25" x2="104.5" y2="378.75" stroke="#a3042b" stroke-width="0.9"/>
<line x1="102.2" y1="363.5" x2="106.6" y2="363.5" stroke="#a3042b" stroke-width="0.9"/>
<line x1="102.2" y1="378.5" x2="106.6" y2="378.5" stroke="#a3042b" stroke-width="0.9"/>
<path d="M66.9 368.75 L79.4 346.25 L91.9 340 L104.4 336.75" stroke="#2c4b86" stroke-width="1.5" fill="none" stroke-linejoin="round"/>
<path d="M66.9 378 L79.4 375 L91.9 373 L104.4 371.25" stroke="#a3042b" stroke-width="1.5" fill="none" stroke-linejoin="round"/>
<circle cx="66.9" cy="368.75" r="2.6" fill="#2c4b86"/>
<circle cx="79.4" cy="346.25" r="2.6" fill="#2c4b86"/>
<circle cx="91.9" cy="340" r="2.6" fill="#2c4b86"/>
<circle cx="104.4" cy="336.75" r="2.6" fill="#2c4b86"/>
<path d="M66.9 375.3 L64.2 380 L69.6 380 Z" fill="#a3042b"/>
<path d="M79.4 372.3 L76.7 377 L82.1 377 Z" fill="#a3042b"/>
<path d="M91.9 370.3 L89.2 375 L94.6 375 Z" fill="#a3042b"/>
<path d="M104.4 368.55 L101.7 373.25 L107.1 373.25 Z" fill="#a3042b"/>
<line x1="59.5" y1="318.5" x2="78.5" y2="318.5" stroke="#2c4b86" stroke-width="1.3"/>
<circle cx="68.7" cy="318.3" r="2.2" fill="#2c4b86"/>
<line x1="59.5" y1="326.5" x2="78.5" y2="326.5" stroke="#a3042b" stroke-width="1.3"/>
<path d="M68.7 324 L66.4 328 L71 328 Z" fill="#a3042b"/>
<text x="82.1" y="322" font-size="9.4">Y</text>
<text x="88.6" y="318.3" font-size="5.6">-</text>
<text x="82.1" y="330" font-size="9.4">Y</text>
<text x="88.4" y="325.8" font-size="6">+</text>
<text x="92" y="353.8" font-size="7.6" fill="#3a3a3a" color="#3a3a3a" textLength="29.3" lengthAdjust="spacingAndGlyphs">P=0.0057</text>
<text x="266.5" y="304.6" font-size="12" font-weight="bold" fill="#000" color="#000" textLength="10.55" lengthAdjust="spacingAndGlyphs">G</text>
<text x="302.3" y="309.2" font-size="10.2">1</text>
<text x="306.9" y="305.4" font-size="7.8" textLength="6.9" lengthAdjust="spacingAndGlyphs">st</text>
<text x="316.7" y="309.2" font-size="10.2" textLength="30.7" lengthAdjust="spacingAndGlyphs">overall</text>
<line x1="297.5" y1="314.55" x2="297.5" y2="389.25" stroke="#231f20" stroke-width="1.1"/>
<line x1="294.2" y1="388.5" x2="297" y2="388.5" stroke="#231f20" stroke-width="1"/>
<text x="290.5" y="391.75" font-size="8.8" text-anchor="end">0</text>
<line x1="294.2" y1="374.5" x2="297" y2="374.5" stroke="#231f20" stroke-width="1"/>
<text x="290.5" y="377.17" font-size="8.8" text-anchor="end">10</text>
<line x1="294.2" y1="359.5" x2="297" y2="359.5" stroke="#231f20" stroke-width="1"/>
<text x="290.5" y="362.59" font-size="8.8" text-anchor="end">20</text>
<line x1="294.2" y1="345.5" x2="297" y2="345.5" stroke="#231f20" stroke-width="1"/>
<text x="290.5" y="348.01" font-size="8.8" text-anchor="end">30</text>
<line x1="294.2" y1="330.5" x2="297" y2="330.5" stroke="#231f20" stroke-width="1"/>
<text x="290.5" y="333.43" font-size="8.8" text-anchor="end">40</text>
<line x1="294.2" y1="315.5" x2="297" y2="315.5" stroke="#231f20" stroke-width="1"/>
<text x="290.5" y="318.85" font-size="8.8" text-anchor="end">50</text>
<line x1="297" y1="388.5" x2="362" y2="388.5" stroke="#231f20" stroke-width="1"/>
<line x1="297.5" y1="388.75" x2="297.5" y2="391.35" stroke="#231f20" stroke-width="1"/>
<text x="297" y="402.5" font-size="8.6" text-anchor="middle">0</text>
<line x1="309.5" y1="388.75" x2="309.5" y2="391.35" stroke="#231f20" stroke-width="1"/>
<text x="309.5" y="402.5" font-size="8.6" text-anchor="middle">1</text>
<line x1="322.5" y1="388.75" x2="322.5" y2="391.35" stroke="#231f20" stroke-width="1"/>
<text x="322" y="402.5" font-size="8.6" text-anchor="middle">2</text>
<line x1="334.5" y1="388.75" x2="334.5" y2="391.35" stroke="#231f20" stroke-width="1"/>
<text x="334.5" y="402.5" font-size="8.6" text-anchor="middle">3</text>
<line x1="347.5" y1="388.75" x2="347.5" y2="391.35" stroke="#231f20" stroke-width="1"/>
<text x="347" y="402.5" font-size="8.6" text-anchor="middle">4</text>
<line x1="359.5" y1="388.75" x2="359.5" y2="391.35" stroke="#231f20" stroke-width="1"/>
<text x="359.5" y="402.5" font-size="8.6" text-anchor="middle">5</text>
<text x="291.3" y="416.7" font-size="9" textLength="47.81" lengthAdjust="spacingAndGlyphs">Months after 1</text>
<text x="340.31" y="413.2" font-size="7.4" textLength="6.77" lengthAdjust="spacingAndGlyphs">st</text>
<text x="349.87" y="416.7" font-size="9" textLength="17.93" lengthAdjust="spacingAndGlyphs">HSCT</text>
<text x="271.3" y="350" font-size="9.8" text-anchor="middle" textLength="67.5" lengthAdjust="spacingAndGlyphs" transform="rotate(-90 271.3 350)" dy="3.4">Donor derived (%)</text>
<line x1="309.5" y1="331.75" x2="309.5" y2="353.75" stroke="#2c4b86" stroke-width="0.9"/>
<line x1="307.3" y1="331.5" x2="311.7" y2="331.5" stroke="#2c4b86" stroke-width="0.9"/>
<line x1="307.3" y1="353.5" x2="311.7" y2="353.5" stroke="#2c4b86" stroke-width="0.9"/>
<line x1="322.5" y1="345.5" x2="322.5" y2="363.25" stroke="#2c4b86" stroke-width="0.9"/>
<line x1="319.8" y1="345.5" x2="324.2" y2="345.5" stroke="#2c4b86" stroke-width="0.9"/>
<line x1="319.8" y1="363.5" x2="324.2" y2="363.5" stroke="#2c4b86" stroke-width="0.9"/>
<line x1="334.5" y1="344.25" x2="334.5" y2="364.5" stroke="#2c4b86" stroke-width="0.9"/>
<line x1="332.3" y1="344.5" x2="336.7" y2="344.5" stroke="#2c4b86" stroke-width="0.9"/>
<line x1="332.3" y1="364.5" x2="336.7" y2="364.5" stroke="#2c4b86" stroke-width="0.9"/>
<line x1="347.5" y1="345.5" x2="347.5" y2="364.5" stroke="#2c4b86" stroke-width="0.9"/>
<line x1="344.8" y1="345.5" x2="349.2" y2="345.5" stroke="#2c4b86" stroke-width="0.9"/>
<line x1="344.8" y1="364.5" x2="349.2" y2="364.5" stroke="#2c4b86" stroke-width="0.9"/>
<line x1="309.5" y1="369.25" x2="309.5" y2="379.5" stroke="#a3042b" stroke-width="0.9"/>
<line x1="307.3" y1="369.5" x2="311.7" y2="369.5" stroke="#a3042b" stroke-width="0.9"/>
<line x1="307.3" y1="379.5" x2="311.7" y2="379.5" stroke="#a3042b" stroke-width="0.9"/>
<line x1="322.5" y1="371.75" x2="322.5" y2="388.25" stroke="#a3042b" stroke-width="0.9"/>
<line x1="319.8" y1="371.5" x2="324.2" y2="371.5" stroke="#a3042b" stroke-width="0.9"/>
<line x1="319.8" y1="388.5" x2="324.2" y2="388.5" stroke="#a3042b" stroke-width="0.9"/>
<line x1="334.5" y1="375.5" x2="334.5" y2="387.5" stroke="#a3042b" stroke-width="0.9"/>
<line x1="332.3" y1="375.5" x2="336.7" y2="375.5" stroke="#a3042b" stroke-width="0.9"/>
<line x1="332.3" y1="387.5" x2="336.7" y2="387.5" stroke="#a3042b" stroke-width="0.9"/>
<line x1="347.5" y1="377.5" x2="347.5" y2="386.25" stroke="#a3042b" stroke-width="0.9"/>
<line x1="344.8" y1="377.5" x2="349.2" y2="377.5" stroke="#a3042b" stroke-width="0.9"/>
<line x1="344.8" y1="386.5" x2="349.2" y2="386.5" stroke="#a3042b" stroke-width="0.9"/>
<path d="M309.5 343 L322 354.5 L334.5 354.5 L347 355" stroke="#2c4b86" stroke-width="1.5" fill="none" stroke-linejoin="round"/>
<path d="M309.5 375 L322 380 L334.5 381.75 L347 382.5" stroke="#a3042b" stroke-width="1.5" fill="none" stroke-linejoin="round"/>
<circle cx="309.5" cy="343" r="2.6" fill="#2c4b86"/>
<circle cx="322" cy="354.5" r="2.6" fill="#2c4b86"/>
<circle cx="334.5" cy="354.5" r="2.6" fill="#2c4b86"/>
<circle cx="347" cy="355" r="2.6" fill="#2c4b86"/>
<path d="M309.5 372.3 L306.8 377 L312.2 377 Z" fill="#a3042b"/>
<path d="M322 377.3 L319.3 382 L324.7 382 Z" fill="#a3042b"/>
<path d="M334.5 379.05 L331.8 383.75 L337.2 383.75 Z" fill="#a3042b"/>
<path d="M347 379.8 L344.3 384.5 L349.7 384.5 Z" fill="#a3042b"/>
<line x1="302.5" y1="318.5" x2="321.5" y2="318.5" stroke="#2c4b86" stroke-width="1.3"/>
<circle cx="311.7" cy="318.3" r="2.2" fill="#2c4b86"/>
<line x1="302.5" y1="326.5" x2="321.5" y2="326.5" stroke="#a3042b" stroke-width="1.3"/>
<path d="M311.7 324 L309.4 328 L314 328 Z" fill="#a3042b"/>
<text x="325.1" y="322" font-size="9.4">O</text>
<text x="332.7" y="318.3" font-size="5.6">-</text>
<text x="325.1" y="330" font-size="9.4">O</text>
<text x="332.5" y="325.8" font-size="6">+</text>
<text x="332" y="336.3" font-size="7.6" fill="#3a3a3a" color="#3a3a3a" textLength="29.3" lengthAdjust="spacingAndGlyphs">p=0.0274</text>
<text x="143.2" y="304.6" font-size="12" font-weight="bold" fill="#000" color="#000" textLength="8.28" lengthAdjust="spacingAndGlyphs">F</text>
<line x1="177.5" y1="318.1" x2="177.5" y2="389.4" stroke="#231f20" stroke-width="1.1"/>
<line x1="174.7" y1="388.5" x2="177.5" y2="388.5" stroke="#231f20" stroke-width="1"/>
<text x="170.9" y="391.9" font-size="8.8" text-anchor="end">0</text>
<line x1="174.7" y1="375.5" x2="177.5" y2="375.5" stroke="#231f20" stroke-width="1"/>
<text x="170.9" y="378.14" font-size="8.8" text-anchor="end">20</text>
<line x1="174.7" y1="361.5" x2="177.5" y2="361.5" stroke="#231f20" stroke-width="1"/>
<text x="170.9" y="364.38" font-size="8.8" text-anchor="end">40</text>
<line x1="174.7" y1="347.5" x2="177.5" y2="347.5" stroke="#231f20" stroke-width="1"/>
<text x="170.9" y="350.62" font-size="8.8" text-anchor="end">60</text>
<line x1="174.7" y1="333.5" x2="177.5" y2="333.5" stroke="#231f20" stroke-width="1"/>
<text x="170.9" y="336.86" font-size="8.8" text-anchor="end">80</text>
<line x1="174.7" y1="320.5" x2="177.5" y2="320.5" stroke="#231f20" stroke-width="1"/>
<text x="170.9" y="323.1" font-size="8.8" text-anchor="end">100</text>
<line x1="177.5" y1="388.5" x2="247" y2="388.5" stroke="#231f20" stroke-width="1"/>
<line x1="185.5" y1="338.75" x2="185.5" y2="335.75" stroke="#231f20" stroke-width="0.9"/>
<line x1="183.38" y1="335.5" x2="187.88" y2="335.5" stroke="#231f20" stroke-width="0.9"/>
<line x1="193.5" y1="354.5" x2="193.5" y2="347.5" stroke="#231f20" stroke-width="0.9"/>
<line x1="190.88" y1="347.5" x2="195.38" y2="347.5" stroke="#231f20" stroke-width="0.9"/>
<rect x="182" y="338.75" width="7.25" height="50.15" fill="#2c4b86"/>
<rect x="189.25" y="354.5" width="7.75" height="34.4" fill="#a3042b"/>
<line x1="189.5" y1="388.9" x2="189.5" y2="391.5" stroke="#231f20" stroke-width="1"/>
<line x1="208.5" y1="374.5" x2="208.5" y2="372" stroke="#231f20" stroke-width="0.9"/>
<line x1="206.5" y1="372.5" x2="211" y2="372.5" stroke="#231f20" stroke-width="0.9"/>
<line x1="216.5" y1="373.75" x2="216.5" y2="366.25" stroke="#231f20" stroke-width="0.9"/>
<line x1="214" y1="366.5" x2="218.5" y2="366.5" stroke="#231f20" stroke-width="0.9"/>
<rect x="205" y="374.5" width="7.5" height="14.4" fill="#2c4b86"/>
<rect x="212.5" y="373.75" width="7.5" height="15.15" fill="#a3042b"/>
<line x1="212.5" y1="388.9" x2="212.5" y2="391.5" stroke="#231f20" stroke-width="1"/>
<line x1="231.5" y1="385" x2="231.5" y2="384.25" stroke="#231f20" stroke-width="0.9"/>
<line x1="229.25" y1="384.5" x2="233.75" y2="384.5" stroke="#231f20" stroke-width="0.9"/>
<line x1="239.5" y1="371.25" x2="239.5" y2="365.5" stroke="#231f20" stroke-width="0.9"/>
<line x1="236.75" y1="365.5" x2="241.25" y2="365.5" stroke="#231f20" stroke-width="0.9"/>
<rect x="227.5" y="385" width="8" height="3.9" fill="#2c4b86"/>
<rect x="235.5" y="371.25" width="7" height="17.65" fill="#a3042b"/>
<line x1="235.5" y1="388.9" x2="235.5" y2="391.5" stroke="#231f20" stroke-width="1"/>
<text x="189.5" y="402.6" font-size="9.4" text-anchor="middle">B</text>
<text x="212.3" y="402.6" font-size="9.4" text-anchor="middle">T</text>
<text x="220" y="402.6" font-size="9.4" textLength="30" lengthAdjust="spacingAndGlyphs">Myeloid</text>
<text x="148.8" y="351.9" font-size="9.8" text-anchor="middle" textLength="86.3" lengthAdjust="spacingAndGlyphs" transform="rotate(-90 148.8 351.9)" dy="3.4">Lineage distribution (%)</text>
<rect x="218" y="318.8" width="15" height="2.8" fill="#2c4b86"/>
<text x="236.3" y="323" font-size="9.6">Y</text>
<text x="242.6" y="319.3" font-size="6">-</text>
<rect x="218" y="330.6" width="15" height="2.8" fill="#a3042b"/>
<text x="236.3" y="335" font-size="9.6">Y</text>
<text x="242.6" y="331" font-size="6.5">+</text>
<text x="222" y="357.5" font-size="7.6" fill="#3a3a3a" color="#3a3a3a" textLength="25.5" lengthAdjust="spacingAndGlyphs">p=0.044</text>
<text x="385" y="304.6" font-size="12" font-weight="bold" fill="#000" color="#000" textLength="9.79" lengthAdjust="spacingAndGlyphs">H</text>
<line x1="420.5" y1="318.1" x2="420.5" y2="389.4" stroke="#231f20" stroke-width="1.1"/>
<line x1="417.2" y1="388.5" x2="420" y2="388.5" stroke="#231f20" stroke-width="1"/>
<text x="413.4" y="391.9" font-size="8.8" text-anchor="end">0</text>
<line x1="417.2" y1="375.5" x2="420" y2="375.5" stroke="#231f20" stroke-width="1"/>
<text x="413.4" y="378.14" font-size="8.8" text-anchor="end">20</text>
<line x1="417.2" y1="361.5" x2="420" y2="361.5" stroke="#231f20" stroke-width="1"/>
<text x="413.4" y="364.38" font-size="8.8" text-anchor="end">40</text>
<line x1="417.2" y1="347.5" x2="420" y2="347.5" stroke="#231f20" stroke-width="1"/>
<text x="413.4" y="350.62" font-size="8.8" text-anchor="end">60</text>
<line x1="417.2" y1="333.5" x2="420" y2="333.5" stroke="#231f20" stroke-width="1"/>
<text x="413.4" y="336.86" font-size="8.8" text-anchor="end">80</text>
<line x1="417.2" y1="320.5" x2="420" y2="320.5" stroke="#231f20" stroke-width="1"/>
<text x="413.4" y="323.1" font-size="8.8" text-anchor="end">100</text>
<line x1="420" y1="388.5" x2="490" y2="388.5" stroke="#231f20" stroke-width="1"/>
<line x1="428.5" y1="355.75" x2="428.5" y2="348.75" stroke="#231f20" stroke-width="0.9"/>
<line x1="426" y1="348.5" x2="430.5" y2="348.5" stroke="#231f20" stroke-width="0.9"/>
<line x1="436.5" y1="378.75" x2="436.5" y2="372.5" stroke="#231f20" stroke-width="0.9"/>
<line x1="433.75" y1="372.5" x2="438.25" y2="372.5" stroke="#231f20" stroke-width="0.9"/>
<rect x="424.5" y="355.75" width="7.5" height="33.15" fill="#2c4b86"/>
<rect x="432" y="378.75" width="8" height="10.15" fill="#a3042b"/>
<line x1="432.5" y1="388.9" x2="432.5" y2="391.5" stroke="#231f20" stroke-width="1"/>
<line x1="451.5" y1="386.25" x2="451.5" y2="385.5" stroke="#231f20" stroke-width="0.9"/>
<line x1="449" y1="385.5" x2="453.5" y2="385.5" stroke="#231f20" stroke-width="0.9"/>
<line x1="458.5" y1="388" x2="458.5" y2="388" stroke="#231f20" stroke-width="0.9"/>
<line x1="456.5" y1="388.5" x2="461" y2="388.5" stroke="#231f20" stroke-width="0.9"/>
<rect x="447.5" y="386.25" width="7.5" height="2.65" fill="#2c4b86"/>
<rect x="455" y="388" width="7.5" height="0.9" fill="#a3042b"/>
<line x1="455.5" y1="388.9" x2="455.5" y2="391.5" stroke="#231f20" stroke-width="1"/>
<line x1="474.5" y1="357.5" x2="474.5" y2="350.5" stroke="#231f20" stroke-width="0.9"/>
<line x1="472" y1="350.5" x2="476.5" y2="350.5" stroke="#231f20" stroke-width="0.9"/>
<line x1="481.5" y1="333" x2="481.5" y2="327" stroke="#231f20" stroke-width="0.9"/>
<line x1="479.5" y1="327.5" x2="484" y2="327.5" stroke="#231f20" stroke-width="0.9"/>
<rect x="470.5" y="357.5" width="7.5" height="31.4" fill="#2c4b86"/>
<rect x="478" y="333" width="7.5" height="55.9" fill="#a3042b"/>
<line x1="478.5" y1="388.9" x2="478.5" y2="391.5" stroke="#231f20" stroke-width="1"/>
<text x="432.2" y="402.6" font-size="9.4" text-anchor="middle">B</text>
<text x="454.6" y="402.6" font-size="9.4" text-anchor="middle">T</text>
<text x="462.5" y="402.6" font-size="9.4" textLength="31.3" lengthAdjust="spacingAndGlyphs">Myeloid</text>
<text x="391.3" y="351.9" font-size="9.8" text-anchor="middle" textLength="86.3" lengthAdjust="spacingAndGlyphs" transform="rotate(-90 391.3 351.9)" dy="3.4">Lineage distribution (%)</text>
<rect x="425" y="314.1" width="15" height="2.8" fill="#2c4b86"/>
<text x="442.5" y="318.5" font-size="9.4">O</text>
<text x="450.2" y="314.5" font-size="6">-</text>
<rect x="425" y="326.6" width="15" height="2.8" fill="#a3042b"/>
<text x="442.5" y="331" font-size="9.4">O</text>
<text x="450" y="327" font-size="6.5">+</text>
<text x="423" y="341.3" font-size="7.6" fill="#3a3a3a" color="#3a3a3a" textLength="29.5" lengthAdjust="spacingAndGlyphs">p=0.0415</text>
<text x="440" y="378" font-size="7.6" fill="#3a3a3a" color="#3a3a3a" textLength="28.8" lengthAdjust="spacingAndGlyphs">p=0.0043</text>
<text x="465" y="320.5" font-size="7.6" fill="#3a3a3a" color="#3a3a3a" textLength="28.8" lengthAdjust="spacingAndGlyphs">p=0.0338</text>
<text x="19" y="439.6" font-size="12" font-weight="bold" fill="#000" color="#000" textLength="3.77" lengthAdjust="spacingAndGlyphs">I</text>
<text x="43.1" y="453.8" font-size="8.4" text-anchor="middle" textLength="21.2" lengthAdjust="spacingAndGlyphs">yHSC</text>
<text x="84.4" y="453.8" font-size="8.4" text-anchor="middle" textLength="21.3" lengthAdjust="spacingAndGlyphs">oHSC</text>
<ellipse cx="33.6" cy="466.4" rx="7.8" ry="7.2" fill="#97a3d0" stroke="#34548f" stroke-width="1.2"/>
<text x="31.7" y="470.4" font-size="8.6" text-anchor="middle" fill="#2a2a2a" color="#2a2a2a">Y</text>
<line x1="34.7" y1="465.5" x2="36.1" y2="465.5" stroke="#555" stroke-width="0.6"/>
<ellipse cx="52.9" cy="466.4" rx="7.8" ry="7.2" fill="#d9968a" stroke="#bf1f3c" stroke-width="1.2"/>
<text x="51.2" y="470.4" font-size="8.6" text-anchor="middle" fill="#2a2a2a" color="#2a2a2a">Y</text>
<text x="56.6" y="467.6" font-size="6" text-anchor="middle" fill="#2a2a2a" color="#2a2a2a">+</text>
<ellipse cx="75.15" cy="466.4" rx="7.8" ry="7.2" fill="#97a3d0" stroke="#34548f" stroke-width="1.2"/>
<text x="73.2" y="470.4" font-size="8.6" text-anchor="middle" fill="#2a2a2a" color="#2a2a2a">O</text>
<line x1="76.9" y1="465.5" x2="78.3" y2="465.5" stroke="#555" stroke-width="0.6"/>
<ellipse cx="93.8" cy="466.4" rx="7.8" ry="7.2" fill="#d9968a" stroke="#bf1f3c" stroke-width="1.2"/>
<text x="92.6" y="470.4" font-size="8.6" text-anchor="middle" fill="#2a2a2a" color="#2a2a2a">O</text>
<text x="98.2" y="467.6" font-size="6" text-anchor="middle" fill="#2a2a2a" color="#2a2a2a">+</text>
<text x="24.3" y="484.1" font-size="8.4" textLength="78.4" lengthAdjust="spacingAndGlyphs">50 cells/sample, n=3</text>
<line x1="64.5" y1="489.3" x2="64.5" y2="495.5" stroke="#111" stroke-width="1"/>
<path d="M64.1 498.5 L61.8 493.5 L66.4 493.5 Z" fill="#111"/>
<text x="48.5" y="509.2" font-size="8.2" textLength="30.3" lengthAdjust="spacingAndGlyphs">RNAseq</text>
<line x1="64.5" y1="514.4" x2="64.5" y2="520.5" stroke="#111" stroke-width="1"/>
<path d="M64.1 523.5 L61.8 518.5 L66.4 518.5 Z" fill="#111"/>
<text x="48.8" y="531.7" font-size="8.2" textLength="30.7" lengthAdjust="spacingAndGlyphs">Analysis</text>
<defs><linearGradient id="rb" x1="0" x2="1" y1="0" y2="0"><stop offset="0" stop-color="#d23a3a"/><stop offset="0.32" stop-color="#d84a4a"/><stop offset="0.38" stop-color="#e9a8c8"/><stop offset="0.5" stop-color="#e8e6f6"/><stop offset="0.62" stop-color="#a8a8ea"/><stop offset="0.7" stop-color="#3a3ad0"/><stop offset="1" stop-color="#2222c8"/></linearGradient></defs>
<text x="107.9" y="440.3" font-size="12" font-weight="bold" fill="#000" color="#000" textLength="7.54" lengthAdjust="spacingAndGlyphs">J</text>
<text x="157.5" y="444" font-size="8.1" textLength="35.8" lengthAdjust="spacingAndGlyphs">Cell aging</text>
<text x="117.7" y="468.6" font-size="8.2" text-anchor="middle" fill="#333" color="#333" textLength="47.5" lengthAdjust="spacingAndGlyphs" transform="rotate(-90 117.7 468.6)" dy="2.9">Enrichment score</text>
<text x="117.7" y="525" font-size="8.2" text-anchor="middle" fill="#333" color="#333" textLength="47.5" lengthAdjust="spacingAndGlyphs" transform="rotate(-90 117.7 525)" dy="2.9">Enrichment score</text>
<line x1="154.5" y1="449.6" x2="154.5" y2="477" stroke="#eeeeee" stroke-width="0.5"/>
<line x1="167.5" y1="449.6" x2="167.5" y2="477" stroke="#eeeeee" stroke-width="0.5"/>
<line x1="180.5" y1="449.6" x2="180.5" y2="477" stroke="#eeeeee" stroke-width="0.5"/>
<line x1="193.5" y1="449.6" x2="193.5" y2="477" stroke="#eeeeee" stroke-width="0.5"/>
<line x1="141.2" y1="455.5" x2="206.5" y2="455.5" stroke="#cfcfcf" stroke-width="0.6"/>
<line x1="142.5" y1="477" x2="142.5" y2="486" stroke="#000" stroke-width="0.7" stroke-opacity="0.75"/>
<line x1="143.5" y1="477" x2="143.5" y2="486" stroke="#000" stroke-width="0.7" stroke-opacity="0.6"/>
<line x1="145.5" y1="477" x2="145.5" y2="486" stroke="#000" stroke-width="0.7" stroke-opacity="0.9"/>
<line x1="147.5" y1="477" x2="147.5" y2="486" stroke="#000" stroke-width="0.7" stroke-opacity="0.45"/>
<line x1="148.5" y1="477" x2="148.5" y2="486" stroke="#000" stroke-width="0.7" stroke-opacity="0.45"/>
<line x1="149.5" y1="477" x2="149.5" y2="486" stroke="#000" stroke-width="0.7" stroke-opacity="0.45"/>
<line x1="151.5" y1="477" x2="151.5" y2="486" stroke="#000" stroke-width="0.7" stroke-opacity="0.75"/>
<line x1="153.5" y1="477" x2="153.5" y2="486" stroke="#000" stroke-width="0.7" stroke-opacity="0.45"/>
<line x1="156.5" y1="477" x2="156.5" y2="486" stroke="#000" stroke-width="0.7" stroke-opacity="0.6"/>
<line x1="157.5" y1="477" x2="157.5" y2="486" stroke="#000" stroke-width="0.7" stroke-opacity="0.45"/>
<line x1="159.5" y1="477" x2="159.5" y2="486" stroke="#000" stroke-width="0.7" stroke-opacity="0.45"/>
<line x1="161.5" y1="477" x2="161.5" y2="486" stroke="#000" stroke-width="0.7" stroke-opacity="0.9"/>
<line x1="162.5" y1="477" x2="162.5" y2="486" stroke="#000" stroke-width="0.7" stroke-opacity="0.9"/>
<line x1="163.5" y1="477" x2="163.5" y2="486" stroke="#000" stroke-width="0.7" stroke-opacity="0.45"/>
<line x1="166.5" y1="477" x2="166.5" y2="486" stroke="#000" stroke-width="0.7" stroke-opacity="0.6"/>
<line x1="168.5" y1="477" x2="168.5" y2="486" stroke="#000" stroke-width="0.7" stroke-opacity="0.45"/>
<line x1="170.5" y1="477" x2="170.5" y2="486" stroke="#000" stroke-width="0.7" stroke-opacity="0.9"/>
<line x1="171.5" y1="477" x2="171.5" y2="486" stroke="#000" stroke-width="0.7" stroke-opacity="0.45"/>
<line x1="173.5" y1="477" x2="173.5" y2="486" stroke="#000" stroke-width="0.7" stroke-opacity="0.45"/>
<line x1="174.5" y1="477" x2="174.5" y2="486" stroke="#000" stroke-width="0.7" stroke-opacity="0.6"/>
<line x1="175.5" y1="477" x2="175.5" y2="486" stroke="#000" stroke-width="0.7" stroke-opacity="0.45"/>
<line x1="177.5" y1="477" x2="177.5" y2="486" stroke="#000" stroke-width="0.7" stroke-opacity="0.9"/>
<line x1="179.5" y1="477" x2="179.5" y2="486" stroke="#000" stroke-width="0.7" stroke-opacity="0.45"/>
<line x1="182.5" y1="477" x2="182.5" y2="486" stroke="#000" stroke-width="0.7" stroke-opacity="0.6"/>
<line x1="184.5" y1="477" x2="184.5" y2="486" stroke="#000" stroke-width="0.7" stroke-opacity="0.45"/>
<line x1="187.5" y1="477" x2="187.5" y2="486" stroke="#000" stroke-width="0.7" stroke-opacity="0.6"/>
<line x1="189.5" y1="477" x2="189.5" y2="486" stroke="#000" stroke-width="0.7" stroke-opacity="0.75"/>
<line x1="190.5" y1="477" x2="190.5" y2="486" stroke="#000" stroke-width="0.7" stroke-opacity="0.9"/>
<line x1="191.5" y1="477" x2="191.5" y2="486" stroke="#000" stroke-width="0.7" stroke-opacity="0.6"/>
<line x1="194.5" y1="477" x2="194.5" y2="486" stroke="#000" stroke-width="0.7" stroke-opacity="0.45"/>
<line x1="197.5" y1="477" x2="197.5" y2="486" stroke="#000" stroke-width="0.7" stroke-opacity="0.75"/>
<line x1="198.5" y1="477" x2="198.5" y2="486" stroke="#000" stroke-width="0.7" stroke-opacity="0.6"/>
<line x1="199.5" y1="477" x2="199.5" y2="486" stroke="#000" stroke-width="0.7" stroke-opacity="0.45"/>
<line x1="201.5" y1="477" x2="201.5" y2="486" stroke="#000" stroke-width="0.7" stroke-opacity="0.6"/>
<line x1="203.5" y1="477" x2="203.5" y2="486" stroke="#000" stroke-width="0.7" stroke-opacity="0.75"/>
<line x1="205.5" y1="477" x2="205.5" y2="486" stroke="#000" stroke-width="0.7" stroke-opacity="0.45"/>
<line x1="205.5" y1="477" x2="205.5" y2="486" stroke="#000" stroke-width="0.7" stroke-opacity="0.45"/>
<rect x="141.7" y="485.9" width="64.8" height="2.2" fill="url(#rb)"/>
<path d="M141.8 452.9 L143.8 451.5 L147.8 450 L152.4 453.7 L160 457.5 L170 463 L178 468 L185.6 472.4 L190 472.1 L195.7 475.3 L200 472.4 L203.7 468.8 L205.1 465.2 L206.5 455.1 L206.7 452.5" stroke="#8fe35a" stroke-width="0.9" fill="none" stroke-linejoin="round"/>
<line x1="137" y1="450.5" x2="141.2" y2="450.5" stroke="#222" stroke-width="0.8"/>
<text x="136" y="452.2" font-size="6.1" text-anchor="end" fill="#444" color="#444">0.1</text>
<line x1="137" y1="455.5" x2="141.2" y2="455.5" stroke="#222" stroke-width="0.8"/>
<text x="136" y="457.6" font-size="6.1" text-anchor="end" fill="#444" color="#444">0.0</text>
<line x1="137" y1="460.5" x2="141.2" y2="460.5" stroke="#222" stroke-width="0.8"/>
<text x="136" y="463" font-size="6.1" text-anchor="end" fill="#444" color="#444">-0.1</text>
<line x1="137" y1="466.5" x2="141.2" y2="466.5" stroke="#222" stroke-width="0.8"/>
<text x="136" y="468.2" font-size="6.1" text-anchor="end" fill="#444" color="#444">-0.2</text>
<line x1="137" y1="471.5" x2="141.2" y2="471.5" stroke="#222" stroke-width="0.8"/>
<text x="136" y="473.5" font-size="6.1" text-anchor="end" fill="#444" color="#444">-0.3</text>
<line x1="137" y1="477.5" x2="141.2" y2="477.5" stroke="#222" stroke-width="0.8"/>
<text x="136" y="479.1" font-size="6.1" text-anchor="end" fill="#444" color="#444">-0.4</text>
<rect x="141.2" y="448.6" width="68.5" height="39.7" fill="none" stroke="#111" stroke-width="1.1"/>
<text x="146.3" y="468.3" font-size="6.6" fill="#222" color="#222" textLength="31.9" lengthAdjust="spacingAndGlyphs">NES = -0.38</text>
<text x="146.3" y="474.3" font-size="6.6" fill="#222" color="#222" textLength="37.3" lengthAdjust="spacingAndGlyphs">FDR q = 0.034</text>
<text x="141.4" y="498.6" font-size="8.8" fill="#b3223f" color="#b3223f">Y</text>
<text x="147.5" y="495.2" font-size="5.6" fill="#b3223f" color="#b3223f">-</text>
<text x="194.8" y="498.6" font-size="8.8" fill="#3d5596" color="#3d5596">Y</text>
<text x="200.8" y="495" font-size="5.8" fill="#3d5596" color="#3d5596">+</text>
<line x1="154.5" y1="509.6" x2="154.5" y2="537.9" stroke="#eeeeee" stroke-width="0.5"/>
<line x1="167.5" y1="509.6" x2="167.5" y2="537.9" stroke="#eeeeee" stroke-width="0.5"/>
<line x1="180.5" y1="509.6" x2="180.5" y2="537.9" stroke="#eeeeee" stroke-width="0.5"/>
<line x1="193.5" y1="509.6" x2="193.5" y2="537.9" stroke="#eeeeee" stroke-width="0.5"/>
<line x1="141.2" y1="510.5" x2="206.5" y2="510.5" stroke="#cfcfcf" stroke-width="0.6"/>
<line x1="143.5" y1="537.9" x2="143.5" y2="546.7" stroke="#000" stroke-width="0.7" stroke-opacity="0.45"/>
<line x1="144.5" y1="537.9" x2="144.5" y2="546.7" stroke="#000" stroke-width="0.7" stroke-opacity="0.6"/>
<line x1="146.5" y1="537.9" x2="146.5" y2="546.7" stroke="#000" stroke-width="0.7" stroke-opacity="0.9"/>
<line x1="148.5" y1="537.9" x2="148.5" y2="546.7" stroke="#000" stroke-width="0.7" stroke-opacity="0.9"/>
<line x1="152.5" y1="537.9" x2="152.5" y2="546.7" stroke="#000" stroke-width="0.7" stroke-opacity="0.75"/>
<line x1="153.5" y1="537.9" x2="153.5" y2="546.7" stroke="#000" stroke-width="0.7" stroke-opacity="0.9"/>
<line x1="155.5" y1="537.9" x2="155.5" y2="546.7" stroke="#000" stroke-width="0.7" stroke-opacity="0.9"/>
<line x1="160.5" y1="537.9" x2="160.5" y2="546.7" stroke="#000" stroke-width="0.7" stroke-opacity="0.75"/>
<line x1="161.5" y1="537.9" x2="161.5" y2="546.7" stroke="#000" stroke-width="0.7" stroke-opacity="0.75"/>
<line x1="161.5" y1="537.9" x2="161.5" y2="546.7" stroke="#000" stroke-width="0.7" stroke-opacity="0.6"/>
<line x1="163.5" y1="537.9" x2="163.5" y2="546.7" stroke="#000" stroke-width="0.7" stroke-opacity="0.6"/>
<line x1="165.5" y1="537.9" x2="165.5" y2="546.7" stroke="#000" stroke-width="0.7" stroke-opacity="0.6"/>
<line x1="169.5" y1="537.9" x2="169.5" y2="546.7" stroke="#000" stroke-width="0.7" stroke-opacity="0.45"/>
<line x1="172.5" y1="537.9" x2="172.5" y2="546.7" stroke="#000" stroke-width="0.7" stroke-opacity="0.75"/>
<line x1="174.5" y1="537.9" x2="174.5" y2="546.7" stroke="#000" stroke-width="0.7" stroke-opacity="0.9"/>
<line x1="175.5" y1="537.9" x2="175.5" y2="546.7" stroke="#000" stroke-width="0.7" stroke-opacity="0.75"/>
<line x1="176.5" y1="537.9" x2="176.5" y2="546.7" stroke="#000" stroke-width="0.7" stroke-opacity="0.9"/>
<line x1="179.5" y1="537.9" x2="179.5" y2="546.7" stroke="#000" stroke-width="0.7" stroke-opacity="0.75"/>
<line x1="181.5" y1="537.9" x2="181.5" y2="546.7" stroke="#000" stroke-width="0.7" stroke-opacity="0.45"/>
<line x1="182.5" y1="537.9" x2="182.5" y2="546.7" stroke="#000" stroke-width="0.7" stroke-opacity="0.45"/>
<line x1="184.5" y1="537.9" x2="184.5" y2="546.7" stroke="#000" stroke-width="0.7" stroke-opacity="0.9"/>
<line x1="187.5" y1="537.9" x2="187.5" y2="546.7" stroke="#000" stroke-width="0.7" stroke-opacity="0.6"/>
<line x1="189.5" y1="537.9" x2="189.5" y2="546.7" stroke="#000" stroke-width="0.7" stroke-opacity="0.75"/>
<line x1="192.5" y1="537.9" x2="192.5" y2="546.7" stroke="#000" stroke-width="0.7" stroke-opacity="0.6"/>
<line x1="195.5" y1="537.9" x2="195.5" y2="546.7" stroke="#000" stroke-width="0.7" stroke-opacity="0.9"/>
<line x1="197.5" y1="537.9" x2="197.5" y2="546.7" stroke="#000" stroke-width="0.7" stroke-opacity="0.9"/>
<line x1="200.5" y1="537.9" x2="200.5" y2="546.7" stroke="#000" stroke-width="0.7" stroke-opacity="0.45"/>
<line x1="202.5" y1="537.9" x2="202.5" y2="546.7" stroke="#000" stroke-width="0.7" stroke-opacity="0.45"/>
<line x1="203.5" y1="537.9" x2="203.5" y2="546.7" stroke="#000" stroke-width="0.7" stroke-opacity="0.75"/>
<line x1="205.5" y1="537.9" x2="205.5" y2="546.7" stroke="#000" stroke-width="0.7" stroke-opacity="0.75"/>
<rect x="141.7" y="546.6" width="64.8" height="2.2" fill="url(#rb)"/>
<path d="M141.5 510.8 L149.5 511.1 L156.8 514.4 L161.1 516.5 L166.9 518.7 L172.6 523.8 L178.4 528.1 L185.6 529.5 L192.8 531.7 L197.2 533.9 L201.5 535.3 L204.4 526.6 L206.5 510" stroke="#8fe35a" stroke-width="0.9" fill="none" stroke-linejoin="round"/>
<line x1="137" y1="510.5" x2="141.2" y2="510.5" stroke="#222" stroke-width="0.8"/>
<text x="136" y="512.7" font-size="6.1" text-anchor="end" fill="#444" color="#444">0.0</text>
<line x1="137" y1="515.5" x2="141.2" y2="515.5" stroke="#222" stroke-width="0.8"/>
<text x="136" y="517.9" font-size="6.1" text-anchor="end" fill="#444" color="#444">-0.1</text>
<line x1="137" y1="521.5" x2="141.2" y2="521.5" stroke="#222" stroke-width="0.8"/>
<text x="136" y="523.1" font-size="6.1" text-anchor="end" fill="#444" color="#444">-0.2</text>
<line x1="137" y1="526.5" x2="141.2" y2="526.5" stroke="#222" stroke-width="0.8"/>
<text x="136" y="528.3" font-size="6.1" text-anchor="end" fill="#444" color="#444">-0.3</text>
<line x1="137" y1="531.5" x2="141.2" y2="531.5" stroke="#222" stroke-width="0.8"/>
<text x="136" y="533.5" font-size="6.1" text-anchor="end" fill="#444" color="#444">-0.4</text>
<line x1="137" y1="536.5" x2="141.2" y2="536.5" stroke="#222" stroke-width="0.8"/>
<text x="136" y="538.7" font-size="6.1" text-anchor="end" fill="#444" color="#444">-0.5</text>
<line x1="137" y1="513.5" x2="141.2" y2="513.5" stroke="#222" stroke-width="0.8"/>
<line x1="137" y1="518.5" x2="141.2" y2="518.5" stroke="#222" stroke-width="0.8"/>
<line x1="137" y1="523.5" x2="141.2" y2="523.5" stroke="#222" stroke-width="0.8"/>
<line x1="137" y1="528.5" x2="141.2" y2="528.5" stroke="#222" stroke-width="0.8"/>
<line x1="137" y1="534.5" x2="141.2" y2="534.5" stroke="#222" stroke-width="0.8"/>
<rect x="141.2" y="508.6" width="68.5" height="40.4" fill="none" stroke="#111" stroke-width="1.1"/>
<text x="144.5" y="528.4" font-size="6.6" fill="#222" color="#222" textLength="32.2" lengthAdjust="spacingAndGlyphs">NES = -0.46</text>
<text x="144.5" y="534.6" font-size="6.6" fill="#222" color="#222" textLength="37.5" lengthAdjust="spacingAndGlyphs">FDR q = 0.010</text>
<text x="141.4" y="559.6" font-size="8.8" fill="#b3223f" color="#b3223f">O</text>
<text x="148.6" y="556.2" font-size="5.6" fill="#b3223f" color="#b3223f">-</text>
<text x="194.8" y="559.6" font-size="8.8" fill="#3d5596" color="#3d5596">O</text>
<text x="201.9" y="556" font-size="5.8" fill="#3d5596" color="#3d5596">+</text>
<text x="227.2" y="440.3" font-size="12" font-weight="bold" fill="#000" color="#000" textLength="9.79" lengthAdjust="spacingAndGlyphs">K</text>
<text x="268.7" y="443.8" font-size="8.1" textLength="65.3" lengthAdjust="spacingAndGlyphs">Myeloid activation</text>
<text x="241.3" y="468.6" font-size="8.2" text-anchor="middle" fill="#333" color="#333" textLength="47.5" lengthAdjust="spacingAndGlyphs" transform="rotate(-90 241.3 468.6)" dy="2.9">Enrichment score</text>
<text x="241.3" y="525" font-size="8.2" text-anchor="middle" fill="#333" color="#333" textLength="47.5" lengthAdjust="spacingAndGlyphs" transform="rotate(-90 241.3 525)" dy="2.9">Enrichment score</text>
<line x1="277.5" y1="449.4" x2="277.5" y2="476.6" stroke="#eeeeee" stroke-width="0.5"/>
<line x1="290.5" y1="449.4" x2="290.5" y2="476.6" stroke="#eeeeee" stroke-width="0.5"/>
<line x1="303.5" y1="449.4" x2="303.5" y2="476.6" stroke="#eeeeee" stroke-width="0.5"/>
<line x1="316.5" y1="449.4" x2="316.5" y2="476.6" stroke="#eeeeee" stroke-width="0.5"/>
<line x1="264.2" y1="450.5" x2="329.1" y2="450.5" stroke="#cfcfcf" stroke-width="0.6"/>
<line x1="272.5" y1="476.6" x2="272.5" y2="486" stroke="#000" stroke-width="0.7" stroke-opacity="0.41"/>
<line x1="275.5" y1="476.6" x2="275.5" y2="486" stroke="#000" stroke-width="0.7" stroke-opacity="0.5"/>
<line x1="284.5" y1="476.6" x2="284.5" y2="486" stroke="#000" stroke-width="0.7" stroke-opacity="0.5"/>
<line x1="287.5" y1="476.6" x2="287.5" y2="486" stroke="#000" stroke-width="0.7" stroke-opacity="0.25"/>
<line x1="296.5" y1="476.6" x2="296.5" y2="486" stroke="#000" stroke-width="0.7" stroke-opacity="0.25"/>
<line x1="300.5" y1="476.6" x2="300.5" y2="486" stroke="#000" stroke-width="0.7" stroke-opacity="0.41"/>
<line x1="301.5" y1="476.6" x2="301.5" y2="486" stroke="#000" stroke-width="0.7" stroke-opacity="0.5"/>
<line x1="302.5" y1="476.6" x2="302.5" y2="486" stroke="#000" stroke-width="0.7" stroke-opacity="0.25"/>
<line x1="306.5" y1="476.6" x2="306.5" y2="486" stroke="#000" stroke-width="0.7" stroke-opacity="0.25"/>
<line x1="307.5" y1="476.6" x2="307.5" y2="486" stroke="#000" stroke-width="0.7" stroke-opacity="0.41"/>
<line x1="314.5" y1="476.6" x2="314.5" y2="486" stroke="#000" stroke-width="0.7" stroke-opacity="0.5"/>
<line x1="328.5" y1="476.6" x2="328.5" y2="486" stroke="#000" stroke-width="0.7" stroke-opacity="0.41"/>
<rect x="264.7" y="485.9" width="64.4" height="2.2" fill="url(#rb)"/>
<path d="M264.5 450.5 L268 453 L271 455 L273 454 L275 455.5 L278 455 L285 459 L292 462.5 L300 466 L305 468 L308 468.5 L310 467 L313 469 L316 470 L322 472.5 L329.1 475.2 L329.4 449.6" stroke="#8fe35a" stroke-width="0.9" fill="none" stroke-linejoin="round"/>
<line x1="260" y1="450.5" x2="264.2" y2="450.5" stroke="#222" stroke-width="0.8"/>
<text x="259" y="452.5" font-size="6.1" text-anchor="end" fill="#444" color="#444">0.0</text>
<line x1="260" y1="459.5" x2="264.2" y2="459.5" stroke="#222" stroke-width="0.8"/>
<text x="259" y="461.1" font-size="6.1" text-anchor="end" fill="#444" color="#444">-0.2</text>
<line x1="260" y1="466.5" x2="264.2" y2="466.5" stroke="#222" stroke-width="0.8"/>
<text x="259" y="468.3" font-size="6.1" text-anchor="end" fill="#444" color="#444">-0.4</text>
<line x1="260" y1="473.5" x2="264.2" y2="473.5" stroke="#222" stroke-width="0.8"/>
<text x="259" y="475.7" font-size="6.1" text-anchor="end" fill="#444" color="#444">-0.6</text>
<line x1="260" y1="454.5" x2="264.2" y2="454.5" stroke="#222" stroke-width="0.8"/>
<line x1="260" y1="462.5" x2="264.2" y2="462.5" stroke="#222" stroke-width="0.8"/>
<line x1="260" y1="469.5" x2="264.2" y2="469.5" stroke="#222" stroke-width="0.8"/>
<line x1="260" y1="477.5" x2="264.2" y2="477.5" stroke="#222" stroke-width="0.8"/>
<rect x="264.2" y="448.4" width="68.6" height="39.9" fill="none" stroke="#111" stroke-width="1.1"/>
<text x="290.2" y="455.2" font-size="6.6" fill="#222" color="#222" textLength="32.3" lengthAdjust="spacingAndGlyphs">NES = -0.66</text>
<text x="290.2" y="461.8" font-size="6.6" fill="#222" color="#222" textLength="37.7" lengthAdjust="spacingAndGlyphs">FDR q = 0.001</text>
<text x="264.4" y="498.2" font-size="8.8" fill="#b3223f" color="#b3223f">Y</text>
<text x="270.5" y="494.8" font-size="5.6" fill="#b3223f" color="#b3223f">-</text>
<text x="319.1" y="498.2" font-size="8.8" fill="#3d5596" color="#3d5596">Y</text>
<text x="325.1" y="494.6" font-size="5.8" fill="#3d5596" color="#3d5596">+</text>
<line x1="277.5" y1="510" x2="277.5" y2="537.9" stroke="#eeeeee" stroke-width="0.5"/>
<line x1="290.5" y1="510" x2="290.5" y2="537.9" stroke="#eeeeee" stroke-width="0.5"/>
<line x1="303.5" y1="510" x2="303.5" y2="537.9" stroke="#eeeeee" stroke-width="0.5"/>
<line x1="316.5" y1="510" x2="316.5" y2="537.9" stroke="#eeeeee" stroke-width="0.5"/>
<line x1="264.2" y1="512.5" x2="329.1" y2="512.5" stroke="#cfcfcf" stroke-width="0.6"/>
<line x1="266.5" y1="537.9" x2="266.5" y2="546.7" stroke="#000" stroke-width="0.7" stroke-opacity="0.5"/>
<line x1="267.5" y1="537.9" x2="267.5" y2="546.7" stroke="#000" stroke-width="0.7" stroke-opacity="0.41"/>
<line x1="272.5" y1="537.9" x2="272.5" y2="546.7" stroke="#000" stroke-width="0.7" stroke-opacity="0.25"/>
<line x1="281.5" y1="537.9" x2="281.5" y2="546.7" stroke="#000" stroke-width="0.7" stroke-opacity="0.5"/>
<line x1="286.5" y1="537.9" x2="286.5" y2="546.7" stroke="#000" stroke-width="0.7" stroke-opacity="0.41"/>
<line x1="287.5" y1="537.9" x2="287.5" y2="546.7" stroke="#000" stroke-width="0.7" stroke-opacity="0.33"/>
<line x1="291.5" y1="537.9" x2="291.5" y2="546.7" stroke="#000" stroke-width="0.7" stroke-opacity="0.25"/>
<line x1="304.5" y1="537.9" x2="304.5" y2="546.7" stroke="#000" stroke-width="0.7" stroke-opacity="0.5"/>
<line x1="305.5" y1="537.9" x2="305.5" y2="546.7" stroke="#000" stroke-width="0.7" stroke-opacity="0.25"/>
<line x1="308.5" y1="537.9" x2="308.5" y2="546.7" stroke="#000" stroke-width="0.7" stroke-opacity="0.33"/>
<line x1="318.5" y1="537.9" x2="318.5" y2="546.7" stroke="#000" stroke-width="0.7" stroke-opacity="0.41"/>
<line x1="320.5" y1="537.9" x2="320.5" y2="546.7" stroke="#000" stroke-width="0.7" stroke-opacity="0.33"/>
<line x1="323.5" y1="537.9" x2="323.5" y2="546.7" stroke="#000" stroke-width="0.7" stroke-opacity="0.33"/>
<line x1="324.5" y1="537.9" x2="324.5" y2="546.7" stroke="#000" stroke-width="0.7" stroke-opacity="0.5"/>
<line x1="327.5" y1="537.9" x2="327.5" y2="546.7" stroke="#000" stroke-width="0.7" stroke-opacity="0.5"/>
<line x1="328.5" y1="537.9" x2="328.5" y2="546.7" stroke="#000" stroke-width="0.7" stroke-opacity="0.5"/>
<rect x="264.7" y="546.6" width="64.4" height="2.2" fill="url(#rb)"/>
<path d="M264.5 512.9 L266.8 510.8 L269.7 512.9 L272.5 511.9 L280 515.5 L289.9 520.2 L297 524 L304.3 528.1 L311.5 531 L318.7 536 L320.9 533.9 L324.5 528.8 L326.7 525.9 L328.1 527.4 L329.1 512.2" stroke="#8fe35a" stroke-width="0.9" fill="none" stroke-linejoin="round"/>
<line x1="260" y1="512.5" x2="264.2" y2="512.5" stroke="#222" stroke-width="0.8"/>
<text x="259" y="514.5" font-size="6.1" text-anchor="end" fill="#444" color="#444">0.0</text>
<line x1="260" y1="520.5" x2="264.2" y2="520.5" stroke="#222" stroke-width="0.8"/>
<text x="259" y="522.5" font-size="6.1" text-anchor="end" fill="#444" color="#444">-0.2</text>
<line x1="260" y1="528.5" x2="264.2" y2="528.5" stroke="#222" stroke-width="0.8"/>
<text x="259" y="530.5" font-size="6.1" text-anchor="end" fill="#444" color="#444">-0.4</text>
<line x1="260" y1="536.5" x2="264.2" y2="536.5" stroke="#222" stroke-width="0.8"/>
<text x="259" y="538.5" font-size="6.1" text-anchor="end" fill="#444" color="#444">-0.6</text>
<line x1="260" y1="516.5" x2="264.2" y2="516.5" stroke="#222" stroke-width="0.8"/>
<line x1="260" y1="524.5" x2="264.2" y2="524.5" stroke="#222" stroke-width="0.8"/>
<line x1="260" y1="532.5" x2="264.2" y2="532.5" stroke="#222" stroke-width="0.8"/>
<line x1="260" y1="540.5" x2="264.2" y2="540.5" stroke="#222" stroke-width="0.8"/>
<rect x="264.2" y="509" width="68.6" height="40" fill="none" stroke="#111" stroke-width="1.1"/>
<text x="289.9" y="518.7" font-size="6.6" fill="#222" color="#222" textLength="31.7" lengthAdjust="spacingAndGlyphs">NES = -0.60</text>
<text x="289.9" y="525.2" font-size="6.6" fill="#222" color="#222" textLength="38.2" lengthAdjust="spacingAndGlyphs">FDR q = 0.008</text>
<text x="264.4" y="559.6" font-size="8.8" fill="#b3223f" color="#b3223f">O</text>
<text x="271.6" y="556.2" font-size="5.6" fill="#b3223f" color="#b3223f">-</text>
<text x="319.1" y="559.6" font-size="8.8" fill="#3d5596" color="#3d5596">O</text>
<text x="326.2" y="556" font-size="5.8" fill="#3d5596" color="#3d5596">+</text>
<text x="351.9" y="440.3" font-size="12" font-weight="bold" fill="#000" color="#000" textLength="8.28" lengthAdjust="spacingAndGlyphs">L</text>
<text x="392.1" y="443.8" font-size="8.1" textLength="59.3" lengthAdjust="spacingAndGlyphs">HSC fingerprints</text>
<text x="364" y="468.4" font-size="8.2" text-anchor="middle" fill="#333" color="#333" textLength="47.5" lengthAdjust="spacingAndGlyphs" transform="rotate(-90 364 468.4)" dy="2.9">Enrichment score</text>
<text x="364" y="525" font-size="8.2" text-anchor="middle" fill="#333" color="#333" textLength="47.5" lengthAdjust="spacingAndGlyphs" transform="rotate(-90 364 525)" dy="2.9">Enrichment score</text>
<line x1="399.5" y1="449.8" x2="399.5" y2="477.3" stroke="#eeeeee" stroke-width="0.5"/>
<line x1="413.5" y1="449.8" x2="413.5" y2="477.3" stroke="#eeeeee" stroke-width="0.5"/>
<line x1="427.5" y1="449.8" x2="427.5" y2="477.3" stroke="#eeeeee" stroke-width="0.5"/>
<line x1="440.5" y1="449.8" x2="440.5" y2="477.3" stroke="#eeeeee" stroke-width="0.5"/>
<line x1="385.8" y1="471.5" x2="454.5" y2="471.5" stroke="#cfcfcf" stroke-width="0.6"/>
<line x1="386.5" y1="477.3" x2="386.5" y2="486.5" stroke="#000" stroke-width="0.7" stroke-opacity="1"/>
<line x1="386.5" y1="477.3" x2="386.5" y2="486.5" stroke="#000" stroke-width="0.7" stroke-opacity="0.9"/>
<line x1="387.5" y1="477.3" x2="387.5" y2="486.5" stroke="#000" stroke-width="0.7" stroke-opacity="1"/>
<line x1="388.5" y1="477.3" x2="388.5" y2="486.5" stroke="#000" stroke-width="0.7" stroke-opacity="0.9"/>
<line x1="389.5" y1="477.3" x2="389.5" y2="486.5" stroke="#000" stroke-width="0.7" stroke-opacity="0.9"/>
<line x1="390.5" y1="477.3" x2="390.5" y2="486.5" stroke="#000" stroke-width="0.7" stroke-opacity="1"/>
<line x1="391.5" y1="477.3" x2="391.5" y2="486.5" stroke="#000" stroke-width="0.7" stroke-opacity="0.75"/>
<line x1="392.5" y1="477.3" x2="392.5" y2="486.5" stroke="#000" stroke-width="0.7" stroke-opacity="0.75"/>
<line x1="393.5" y1="477.3" x2="393.5" y2="486.5" stroke="#000" stroke-width="0.7" stroke-opacity="1"/>
<line x1="397.5" y1="477.3" x2="397.5" y2="486.5" stroke="#000" stroke-width="0.7" stroke-opacity="0.9"/>
<line x1="398.5" y1="477.3" x2="398.5" y2="486.5" stroke="#000" stroke-width="0.7" stroke-opacity="1"/>
<line x1="398.5" y1="477.3" x2="398.5" y2="486.5" stroke="#000" stroke-width="0.7" stroke-opacity="1"/>
<line x1="399.5" y1="477.3" x2="399.5" y2="486.5" stroke="#000" stroke-width="0.7" stroke-opacity="0.75"/>
<line x1="400.5" y1="477.3" x2="400.5" y2="486.5" stroke="#000" stroke-width="0.7" stroke-opacity="1"/>
<line x1="402.5" y1="477.3" x2="402.5" y2="486.5" stroke="#000" stroke-width="0.7" stroke-opacity="0.6"/>
<line x1="402.5" y1="477.3" x2="402.5" y2="486.5" stroke="#000" stroke-width="0.7" stroke-opacity="1"/>
<line x1="403.5" y1="477.3" x2="403.5" y2="486.5" stroke="#000" stroke-width="0.7" stroke-opacity="1"/>
<line x1="404.5" y1="477.3" x2="404.5" y2="486.5" stroke="#000" stroke-width="0.7" stroke-opacity="1"/>
<line x1="405.5" y1="477.3" x2="405.5" y2="486.5" stroke="#000" stroke-width="0.7" stroke-opacity="0.6"/>
<line x1="406.5" y1="477.3" x2="406.5" y2="486.5" stroke="#000" stroke-width="0.7" stroke-opacity="0.75"/>
<line x1="406.5" y1="477.3" x2="406.5" y2="486.5" stroke="#000" stroke-width="0.7" stroke-opacity="0.6"/>
<line x1="407.5" y1="477.3" x2="407.5" y2="486.5" stroke="#000" stroke-width="0.7" stroke-opacity="0.6"/>
<line x1="410.5" y1="477.3" x2="410.5" y2="486.5" stroke="#000" stroke-width="0.7" stroke-opacity="1"/>
<line x1="410.5" y1="477.3" x2="410.5" y2="486.5" stroke="#000" stroke-width="0.7" stroke-opacity="0.6"/>
<line x1="412.5" y1="477.3" x2="412.5" y2="486.5" stroke="#000" stroke-width="0.7" stroke-opacity="0.6"/>
<line x1="414.5" y1="477.3" x2="414.5" y2="486.5" stroke="#000" stroke-width="0.7" stroke-opacity="0.75"/>
<line x1="415.5" y1="477.3" x2="415.5" y2="486.5" stroke="#000" stroke-width="0.7" stroke-opacity="0.9"/>
<line x1="416.5" y1="477.3" x2="416.5" y2="486.5" stroke="#000" stroke-width="0.7" stroke-opacity="1"/>
<line x1="417.5" y1="477.3" x2="417.5" y2="486.5" stroke="#000" stroke-width="0.7" stroke-opacity="1"/>
<line x1="418.5" y1="477.3" x2="418.5" y2="486.5" stroke="#000" stroke-width="0.7" stroke-opacity="1"/>
<line x1="419.5" y1="477.3" x2="419.5" y2="486.5" stroke="#000" stroke-width="0.7" stroke-opacity="0.75"/>
<line x1="420.5" y1="477.3" x2="420.5" y2="486.5" stroke="#000" stroke-width="0.7" stroke-opacity="0.9"/>
<line x1="421.5" y1="477.3" x2="421.5" y2="486.5" stroke="#000" stroke-width="0.7" stroke-opacity="1"/>
<line x1="422.5" y1="477.3" x2="422.5" y2="486.5" stroke="#000" stroke-width="0.7" stroke-opacity="0.75"/>
<line x1="422.5" y1="477.3" x2="422.5" y2="486.5" stroke="#000" stroke-width="0.7" stroke-opacity="0.75"/>
<line x1="424.5" y1="477.3" x2="424.5" y2="486.5" stroke="#000" stroke-width="0.7" stroke-opacity="0.75"/>
<line x1="425.5" y1="477.3" x2="425.5" y2="486.5" stroke="#000" stroke-width="0.7" stroke-opacity="0.6"/>
<line x1="426.5" y1="477.3" x2="426.5" y2="486.5" stroke="#000" stroke-width="0.7" stroke-opacity="0.9"/>
<line x1="429.5" y1="477.3" x2="429.5" y2="486.5" stroke="#000" stroke-width="0.7" stroke-opacity="0.9"/>
<line x1="430.5" y1="477.3" x2="430.5" y2="486.5" stroke="#000" stroke-width="0.7" stroke-opacity="0.75"/>
<line x1="430.5" y1="477.3" x2="430.5" y2="486.5" stroke="#000" stroke-width="0.7" stroke-opacity="0.75"/>
<line x1="431.5" y1="477.3" x2="431.5" y2="486.5" stroke="#000" stroke-width="0.7" stroke-opacity="1"/>
<line x1="434.5" y1="477.3" x2="434.5" y2="486.5" stroke="#000" stroke-width="0.7" stroke-opacity="0.75"/>
<line x1="434.5" y1="477.3" x2="434.5" y2="486.5" stroke="#000" stroke-width="0.7" stroke-opacity="0.75"/>
<line x1="437.5" y1="477.3" x2="437.5" y2="486.5" stroke="#000" stroke-width="0.7" stroke-opacity="0.75"/>
<line x1="438.5" y1="477.3" x2="438.5" y2="486.5" stroke="#000" stroke-width="0.7" stroke-opacity="1"/>
<line x1="444.5" y1="477.3" x2="444.5" y2="486.5" stroke="#000" stroke-width="0.7" stroke-opacity="0.6"/>
<line x1="446.5" y1="477.3" x2="446.5" y2="486.5" stroke="#000" stroke-width="0.7" stroke-opacity="1"/>
<line x1="446.5" y1="477.3" x2="446.5" y2="486.5" stroke="#000" stroke-width="0.7" stroke-opacity="1"/>
<line x1="448.5" y1="477.3" x2="448.5" y2="486.5" stroke="#000" stroke-width="0.7" stroke-opacity="0.9"/>
<line x1="450.5" y1="477.3" x2="450.5" y2="486.5" stroke="#000" stroke-width="0.7" stroke-opacity="0.75"/>
<line x1="450.5" y1="477.3" x2="450.5" y2="486.5" stroke="#000" stroke-width="0.7" stroke-opacity="1"/>
<line x1="451.5" y1="477.3" x2="451.5" y2="486.5" stroke="#000" stroke-width="0.7" stroke-opacity="0.75"/>
<line x1="452.5" y1="477.3" x2="452.5" y2="486.5" stroke="#000" stroke-width="0.7" stroke-opacity="1"/>
<line x1="454.5" y1="477.3" x2="454.5" y2="486.5" stroke="#000" stroke-width="0.7" stroke-opacity="0.9"/>
<rect x="386.3" y="486.4" width="68.2" height="2.2" fill="url(#rb)"/>
<path d="M386 460.4 L388.4 454.2 L391.5 451.9 L394.1 450.8 L397.6 452.7 L403 453 L407.6 454.2 L413.8 458.8 L421.5 464.2 L429.2 468.1 L435.3 471.2 L439.9 471.5 L443.8 475 L447.6 474.2 L451.5 473.5 L454.1 470.8" stroke="#8fe35a" stroke-width="0.9" fill="none" stroke-linejoin="round"/>
<line x1="381.6" y1="453.5" x2="385.8" y2="453.5" stroke="#222" stroke-width="0.8"/>
<text x="380.6" y="455.6" font-size="6.1" text-anchor="end" fill="#444" color="#444">0.3</text>
<line x1="381.6" y1="459.5" x2="385.8" y2="459.5" stroke="#222" stroke-width="0.8"/>
<text x="380.6" y="461.6" font-size="6.1" text-anchor="end" fill="#444" color="#444">0.2</text>
<line x1="381.6" y1="465.5" x2="385.8" y2="465.5" stroke="#222" stroke-width="0.8"/>
<text x="380.6" y="467.6" font-size="6.1" text-anchor="end" fill="#444" color="#444">0.1</text>
<line x1="381.6" y1="471.5" x2="385.8" y2="471.5" stroke="#222" stroke-width="0.8"/>
<text x="380.6" y="473.5" font-size="6.1" text-anchor="end" fill="#444" color="#444">0.0</text>
<rect x="385.8" y="448.8" width="72.6" height="40" fill="none" stroke="#111" stroke-width="1.1"/>
<text x="419.5" y="454.5" font-size="6.6" fill="#222" color="#222" textLength="29.7" lengthAdjust="spacingAndGlyphs">NES = 0.38</text>
<text x="419.5" y="461.6" font-size="6.6" fill="#222" color="#222" textLength="37" lengthAdjust="spacingAndGlyphs">FDR q = 0.001</text>
<text x="389.9" y="498.2" font-size="8.8" fill="#b3223f" color="#b3223f">Y</text>
<text x="396" y="494.8" font-size="5.6" fill="#b3223f" color="#b3223f">-</text>
<text x="443.3" y="498.2" font-size="8.8" fill="#3d5596" color="#3d5596">Y</text>
<text x="449.3" y="494.6" font-size="5.8" fill="#3d5596" color="#3d5596">+</text>
<line x1="399.5" y1="510.4" x2="399.5" y2="538" stroke="#eeeeee" stroke-width="0.5"/>
<line x1="413.5" y1="510.4" x2="413.5" y2="538" stroke="#eeeeee" stroke-width="0.5"/>
<line x1="427.5" y1="510.4" x2="427.5" y2="538" stroke="#eeeeee" stroke-width="0.5"/>
<line x1="440.5" y1="510.4" x2="440.5" y2="538" stroke="#eeeeee" stroke-width="0.5"/>
<line x1="385.8" y1="533.5" x2="454.5" y2="533.5" stroke="#cfcfcf" stroke-width="0.6"/>
<line x1="386.5" y1="538" x2="386.5" y2="546.5" stroke="#000" stroke-width="0.7" stroke-opacity="0.6"/>
<line x1="386.5" y1="538" x2="386.5" y2="546.5" stroke="#000" stroke-width="0.7" stroke-opacity="0.6"/>
<line x1="387.5" y1="538" x2="387.5" y2="546.5" stroke="#000" stroke-width="0.7" stroke-opacity="0.75"/>
<line x1="388.5" y1="538" x2="388.5" y2="546.5" stroke="#000" stroke-width="0.7" stroke-opacity="0.75"/>
<line x1="389.5" y1="538" x2="389.5" y2="546.5" stroke="#000" stroke-width="0.7" stroke-opacity="0.9"/>
<line x1="390.5" y1="538" x2="390.5" y2="546.5" stroke="#000" stroke-width="0.7" stroke-opacity="1"/>
<line x1="390.5" y1="538" x2="390.5" y2="546.5" stroke="#000" stroke-width="0.7" stroke-opacity="0.6"/>
<line x1="391.5" y1="538" x2="391.5" y2="546.5" stroke="#000" stroke-width="0.7" stroke-opacity="0.75"/>
<line x1="393.5" y1="538" x2="393.5" y2="546.5" stroke="#000" stroke-width="0.7" stroke-opacity="1"/>
<line x1="394.5" y1="538" x2="394.5" y2="546.5" stroke="#000" stroke-width="0.7" stroke-opacity="0.75"/>
<line x1="398.5" y1="538" x2="398.5" y2="546.5" stroke="#000" stroke-width="0.7" stroke-opacity="1"/>
<line x1="399.5" y1="538" x2="399.5" y2="546.5" stroke="#000" stroke-width="0.7" stroke-opacity="0.9"/>
<line x1="400.5" y1="538" x2="400.5" y2="546.5" stroke="#000" stroke-width="0.7" stroke-opacity="1"/>
<line x1="401.5" y1="538" x2="401.5" y2="546.5" stroke="#000" stroke-width="0.7" stroke-opacity="0.6"/>
<line x1="402.5" y1="538" x2="402.5" y2="546.5" stroke="#000" stroke-width="0.7" stroke-opacity="0.6"/>
<line x1="402.5" y1="538" x2="402.5" y2="546.5" stroke="#000" stroke-width="0.7" stroke-opacity="0.75"/>
<line x1="403.5" y1="538" x2="403.5" y2="546.5" stroke="#000" stroke-width="0.7" stroke-opacity="0.75"/>
<line x1="404.5" y1="538" x2="404.5" y2="546.5" stroke="#000" stroke-width="0.7" stroke-opacity="0.75"/>
<line x1="405.5" y1="538" x2="405.5" y2="546.5" stroke="#000" stroke-width="0.7" stroke-opacity="0.75"/>
<line x1="406.5" y1="538" x2="406.5" y2="546.5" stroke="#000" stroke-width="0.7" stroke-opacity="0.75"/>
<line x1="406.5" y1="538" x2="406.5" y2="546.5" stroke="#000" stroke-width="0.7" stroke-opacity="0.9"/>
<line x1="407.5" y1="538" x2="407.5" y2="546.5" stroke="#000" stroke-width="0.7" stroke-opacity="1"/>
<line x1="410.5" y1="538" x2="410.5" y2="546.5" stroke="#000" stroke-width="0.7" stroke-opacity="0.9"/>
<line x1="412.5" y1="538" x2="412.5" y2="546.5" stroke="#000" stroke-width="0.7" stroke-opacity="1"/>
<line x1="413.5" y1="538" x2="413.5" y2="546.5" stroke="#000" stroke-width="0.7" stroke-opacity="1"/>
<line x1="414.5" y1="538" x2="414.5" y2="546.5" stroke="#000" stroke-width="0.7" stroke-opacity="0.75"/>
<line x1="414.5" y1="538" x2="414.5" y2="546.5" stroke="#000" stroke-width="0.7" stroke-opacity="0.6"/>
<line x1="416.5" y1="538" x2="416.5" y2="546.5" stroke="#000" stroke-width="0.7" stroke-opacity="1"/>
<line x1="417.5" y1="538" x2="417.5" y2="546.5" stroke="#000" stroke-width="0.7" stroke-opacity="0.75"/>
<line x1="418.5" y1="538" x2="418.5" y2="546.5" stroke="#000" stroke-width="0.7" stroke-opacity="1"/>
<line x1="418.5" y1="538" x2="418.5" y2="546.5" stroke="#000" stroke-width="0.7" stroke-opacity="0.6"/>
<line x1="419.5" y1="538" x2="419.5" y2="546.5" stroke="#000" stroke-width="0.7" stroke-opacity="0.9"/>
<line x1="421.5" y1="538" x2="421.5" y2="546.5" stroke="#000" stroke-width="0.7" stroke-opacity="1"/>
<line x1="422.5" y1="538" x2="422.5" y2="546.5" stroke="#000" stroke-width="0.7" stroke-opacity="0.6"/>
<line x1="423.5" y1="538" x2="423.5" y2="546.5" stroke="#000" stroke-width="0.7" stroke-opacity="0.75"/>
<line x1="424.5" y1="538" x2="424.5" y2="546.5" stroke="#000" stroke-width="0.7" stroke-opacity="0.6"/>
<line x1="425.5" y1="538" x2="425.5" y2="546.5" stroke="#000" stroke-width="0.7" stroke-opacity="1"/>
<line x1="426.5" y1="538" x2="426.5" y2="546.5" stroke="#000" stroke-width="0.7" stroke-opacity="0.6"/>
<line x1="426.5" y1="538" x2="426.5" y2="546.5" stroke="#000" stroke-width="0.7" stroke-opacity="1"/>
<line x1="430.5" y1="538" x2="430.5" y2="546.5" stroke="#000" stroke-width="0.7" stroke-opacity="0.75"/>
<line x1="430.5" y1="538" x2="430.5" y2="546.5" stroke="#000" stroke-width="0.7" stroke-opacity="1"/>
<line x1="431.5" y1="538" x2="431.5" y2="546.5" stroke="#000" stroke-width="0.7" stroke-opacity="1"/>
<line x1="432.5" y1="538" x2="432.5" y2="546.5" stroke="#000" stroke-width="0.7" stroke-opacity="0.75"/>
<line x1="433.5" y1="538" x2="433.5" y2="546.5" stroke="#000" stroke-width="0.7" stroke-opacity="0.9"/>
<line x1="435.5" y1="538" x2="435.5" y2="546.5" stroke="#000" stroke-width="0.7" stroke-opacity="1"/>
<line x1="436.5" y1="538" x2="436.5" y2="546.5" stroke="#000" stroke-width="0.7" stroke-opacity="0.6"/>
<line x1="438.5" y1="538" x2="438.5" y2="546.5" stroke="#000" stroke-width="0.7" stroke-opacity="0.9"/>
<line x1="438.5" y1="538" x2="438.5" y2="546.5" stroke="#000" stroke-width="0.7" stroke-opacity="0.75"/>
<line x1="439.5" y1="538" x2="439.5" y2="546.5" stroke="#000" stroke-width="0.7" stroke-opacity="0.75"/>
<line x1="440.5" y1="538" x2="440.5" y2="546.5" stroke="#000" stroke-width="0.7" stroke-opacity="0.6"/>
<line x1="442.5" y1="538" x2="442.5" y2="546.5" stroke="#000" stroke-width="0.7" stroke-opacity="0.9"/>
<line x1="442.5" y1="538" x2="442.5" y2="546.5" stroke="#000" stroke-width="0.7" stroke-opacity="0.75"/>
<line x1="445.5" y1="538" x2="445.5" y2="546.5" stroke="#000" stroke-width="0.7" stroke-opacity="0.6"/>
<line x1="446.5" y1="538" x2="446.5" y2="546.5" stroke="#000" stroke-width="0.7" stroke-opacity="1"/>
<line x1="446.5" y1="538" x2="446.5" y2="546.5" stroke="#000" stroke-width="0.7" stroke-opacity="0.75"/>
<line x1="447.5" y1="538" x2="447.5" y2="546.5" stroke="#000" stroke-width="0.7" stroke-opacity="1"/>
<line x1="449.5" y1="538" x2="449.5" y2="546.5" stroke="#000" stroke-width="0.7" stroke-opacity="1"/>
<line x1="450.5" y1="538" x2="450.5" y2="546.5" stroke="#000" stroke-width="0.7" stroke-opacity="0.9"/>
<line x1="450.5" y1="538" x2="450.5" y2="546.5" stroke="#000" stroke-width="0.7" stroke-opacity="0.9"/>
<line x1="451.5" y1="538" x2="451.5" y2="546.5" stroke="#000" stroke-width="0.7" stroke-opacity="1"/>
<line x1="452.5" y1="538" x2="452.5" y2="546.5" stroke="#000" stroke-width="0.7" stroke-opacity="0.6"/>
<line x1="453.5" y1="538" x2="453.5" y2="546.5" stroke="#000" stroke-width="0.7" stroke-opacity="1"/>
<rect x="386.3" y="546.4" width="68.2" height="2.2" fill="url(#rb)"/>
<path d="M386 525 L388.4 518.8 L391.5 514.2 L394.1 511.2 L397.6 512.7 L401.5 511.5 L406.1 512.4 L413.8 517.3 L421.5 523.5 L429.2 528.1 L436.8 531.2 L441.5 531.9 L447.6 535 L450.7 536.5 L453 533.5 L454.1 533" stroke="#8fe35a" stroke-width="0.9" fill="none" stroke-linejoin="round"/>
<line x1="381.6" y1="510.5" x2="385.8" y2="510.5" stroke="#222" stroke-width="0.8"/>
<text x="380.6" y="512.2" font-size="6.1" text-anchor="end" fill="#444" color="#444">0.4</text>
<line x1="381.6" y1="515.5" x2="385.8" y2="515.5" stroke="#222" stroke-width="0.8"/>
<text x="380.6" y="518" font-size="6.1" text-anchor="end" fill="#444" color="#444">0.3</text>
<line x1="381.6" y1="521.5" x2="385.8" y2="521.5" stroke="#222" stroke-width="0.8"/>
<text x="380.6" y="524" font-size="6.1" text-anchor="end" fill="#444" color="#444">0.2</text>
<line x1="381.6" y1="527.5" x2="385.8" y2="527.5" stroke="#222" stroke-width="0.8"/>
<text x="380.6" y="530" font-size="6.1" text-anchor="end" fill="#444" color="#444">0.1</text>
<line x1="381.6" y1="533.5" x2="385.8" y2="533.5" stroke="#222" stroke-width="0.8"/>
<text x="380.6" y="535.7" font-size="6.1" text-anchor="end" fill="#444" color="#444">0.0</text>
<rect x="385.8" y="509.4" width="72.6" height="39.4" fill="none" stroke="#111" stroke-width="1.1"/>
<text x="420.2" y="515.8" font-size="6.6" fill="#222" color="#222" textLength="29.7" lengthAdjust="spacingAndGlyphs">NES = 0.36</text>
<text x="420.2" y="521.9" font-size="6.6" fill="#222" color="#222" textLength="36.6" lengthAdjust="spacingAndGlyphs">FDR q = 0.001</text>
<text x="389.9" y="559.6" font-size="8.8" fill="#b3223f" color="#b3223f">O</text>
<text x="397.1" y="556.2" font-size="5.6" fill="#b3223f" color="#b3223f">-</text>
<text x="444.6" y="559.6" font-size="8.8" fill="#3d5596" color="#3d5596">O</text>
<text x="451.7" y="556" font-size="5.8" fill="#3d5596" color="#3d5596">+</text>
<text x="19" y="583.2" font-size="12" font-weight="bold" fill="#000" color="#000" textLength="11.3" lengthAdjust="spacingAndGlyphs">M</text>
<text x="25.5" y="596.3" font-size="8.6" textLength="65.7" lengthAdjust="spacingAndGlyphs">Human BM HSCs</text>
<text x="27" y="606.3" font-size="8.6">Lin<tspan dy="-3.2" font-size="5.5">-</tspan><tspan dy="3.2">CD34</tspan><tspan dy="-3.2" font-size="5.5">+</tspan><tspan dy="3.2">CD38</tspan><tspan dy="-3.2" font-size="5.5">-</tspan></text>
<line x1="58.5" y1="612.5" x2="58.5" y2="628" stroke="#111" stroke-width="0.9"/>
<path d="M58.4 631 L56.1 626 L60.7 626 Z" fill="#111"/>
<text x="24.5" y="622" font-size="8.6">IL27Ra<tspan dy="-3.2" font-size="5.5">-</tspan><tspan dy="3.2">/</tspan></text>
<text x="24.5" y="631.3" font-size="8.6">IL27Ra<tspan dy="-3.2" font-size="5.5">+</tspan></text>
<ellipse cx="58.5" cy="643.2" rx="19.6" ry="9.2" fill="#6e6e6e" stroke="#222" stroke-width="0.8"/>
<ellipse cx="58.5" cy="642.6" rx="18.6" ry="4.9" fill="#c9c9c9" stroke="#333" stroke-width="0.6"/>
<text x="43.6" y="644.9" font-size="7.2" fill="#2a2a2a" color="#2a2a2a" textLength="30.8" lengthAdjust="spacingAndGlyphs" style="stroke-width:0">Methocult</text>
<line x1="58.5" y1="653.8" x2="58.5" y2="667.5" stroke="#111" stroke-width="0.9"/>
<path d="M58.4 670.5 L56.1 665.5 L60.7 665.5 Z" fill="#111"/>
<text x="60.8" y="662.5" font-size="8.6" textLength="15.5" lengthAdjust="spacingAndGlyphs">14 d</text>
<text x="41.3" y="679.6" font-size="8.6" textLength="30.7" lengthAdjust="spacingAndGlyphs">Analysis</text>
<text x="109.1" y="581.6" font-size="12" font-weight="bold" fill="#000" color="#000" textLength="9.79" lengthAdjust="spacingAndGlyphs">N</text>
<text x="149" y="588.3" font-size="8.6" textLength="23.7" lengthAdjust="spacingAndGlyphs">Young</text>
<text x="214.4" y="588.3" font-size="8.6" textLength="13.5" lengthAdjust="spacingAndGlyphs">Old</text>
<line x1="142.5" y1="597.7" x2="142.5" y2="666.5" stroke="#231f20" stroke-width="1"/>
<line x1="139.7" y1="666.5" x2="142.5" y2="666.5" stroke="#231f20" stroke-width="1"/>
<text x="137" y="669.1" font-size="8.6" text-anchor="end">0</text>
<line x1="139.7" y1="637.5" x2="142.5" y2="637.5" stroke="#231f20" stroke-width="1"/>
<text x="137" y="640.6" font-size="8.6" text-anchor="end">50</text>
<line x1="139.7" y1="609.5" x2="142.5" y2="609.5" stroke="#231f20" stroke-width="1"/>
<text x="137" y="612.1" font-size="8.6" text-anchor="end">100</text>
<line x1="142.5" y1="666.5" x2="178.7" y2="666.5" stroke="#231f20" stroke-width="1"/>
<rect x="145.8" y="648.1" width="12.2" height="17.9" fill="#a3042b"/>
<rect x="145.8" y="619.26" width="12.2" height="28.84" fill="#2c4b86"/>
<rect x="145.8" y="609" width="12.2" height="10.26" fill="#6eae41"/>
<line x1="151.5" y1="649.6" x2="151.5" y2="646.39" stroke="#111" stroke-width="1"/>
<line x1="149.3" y1="646.5" x2="154.5" y2="646.5" stroke="#111" stroke-width="1"/>
<line x1="151.5" y1="620.76" x2="151.5" y2="616.01" stroke="#111" stroke-width="1"/>
<line x1="149.3" y1="616.5" x2="154.5" y2="616.5" stroke="#111" stroke-width="1"/>
<line x1="151.5" y1="610.5" x2="151.5" y2="606.89" stroke="#111" stroke-width="1"/>
<line x1="149.3" y1="606.5" x2="154.5" y2="606.5" stroke="#111" stroke-width="1"/>
<line x1="151.5" y1="666" x2="151.5" y2="668.5" stroke="#231f20" stroke-width="1"/>
<rect x="163.7" y="655.28" width="12.4" height="10.72" fill="#a3042b"/>
<rect x="163.7" y="634.65" width="12.4" height="20.63" fill="#2c4b86"/>
<rect x="163.7" y="625.19" width="12.4" height="9.46" fill="#6eae41"/>
<line x1="169.5" y1="656.78" x2="169.5" y2="652.61" stroke="#111" stroke-width="1"/>
<line x1="167.3" y1="652.5" x2="172.5" y2="652.5" stroke="#111" stroke-width="1"/>
<line x1="169.5" y1="636.15" x2="169.5" y2="631.63" stroke="#111" stroke-width="1"/>
<line x1="167.3" y1="631.5" x2="172.5" y2="631.5" stroke="#111" stroke-width="1"/>
<line x1="169.5" y1="626.69" x2="169.5" y2="623.82" stroke="#111" stroke-width="1"/>
<line x1="167.3" y1="623.5" x2="172.5" y2="623.5" stroke="#111" stroke-width="1"/>
<line x1="169.5" y1="666" x2="169.5" y2="668.5" stroke="#231f20" stroke-width="1"/>
<line x1="203.5" y1="597.7" x2="203.5" y2="666.5" stroke="#231f20" stroke-width="1"/>
<line x1="200.7" y1="666.5" x2="203.5" y2="666.5" stroke="#231f20" stroke-width="1"/>
<text x="198" y="669.1" font-size="8.6" text-anchor="end">0</text>
<line x1="200.7" y1="637.5" x2="203.5" y2="637.5" stroke="#231f20" stroke-width="1"/>
<text x="198" y="640.6" font-size="8.6" text-anchor="end">50</text>
<line x1="200.7" y1="609.5" x2="203.5" y2="609.5" stroke="#231f20" stroke-width="1"/>
<text x="198" y="612.1" font-size="8.6" text-anchor="end">100</text>
<line x1="203.5" y1="666.5" x2="238.8" y2="666.5" stroke="#231f20" stroke-width="1"/>
<rect x="205.9" y="651.58" width="12.3" height="14.42" fill="#a3042b"/>
<rect x="205.9" y="615.27" width="12.3" height="36.31" fill="#2c4b86"/>
<rect x="205.9" y="609" width="12.3" height="6.27" fill="#6eae41"/>
<line x1="212.5" y1="653.08" x2="212.5" y2="647.53" stroke="#111" stroke-width="1"/>
<line x1="209.45" y1="647.5" x2="214.65" y2="647.5" stroke="#111" stroke-width="1"/>
<line x1="212.5" y1="616.77" x2="212.5" y2="610.42" stroke="#111" stroke-width="1"/>
<line x1="209.45" y1="610.5" x2="214.65" y2="610.5" stroke="#111" stroke-width="1"/>
<line x1="212.5" y1="610.5" x2="212.5" y2="607.86" stroke="#111" stroke-width="1"/>
<line x1="209.45" y1="607.5" x2="214.65" y2="607.5" stroke="#111" stroke-width="1"/>
<line x1="212.5" y1="666" x2="212.5" y2="668.5" stroke="#231f20" stroke-width="1"/>
<rect x="224" y="655.74" width="12.1" height="10.26" fill="#a3042b"/>
<rect x="224" y="630.43" width="12.1" height="25.31" fill="#2c4b86"/>
<rect x="224" y="623.25" width="12.1" height="7.18" fill="#6eae41"/>
<line x1="230.5" y1="657.24" x2="230.5" y2="651.01" stroke="#111" stroke-width="1"/>
<line x1="227.45" y1="651.5" x2="232.65" y2="651.5" stroke="#111" stroke-width="1"/>
<line x1="230.5" y1="631.93" x2="230.5" y2="627.52" stroke="#111" stroke-width="1"/>
<line x1="227.45" y1="627.5" x2="232.65" y2="627.5" stroke="#111" stroke-width="1"/>
<line x1="230.5" y1="624.75" x2="230.5" y2="621.71" stroke="#111" stroke-width="1"/>
<line x1="227.45" y1="621.5" x2="232.65" y2="621.5" stroke="#111" stroke-width="1"/>
<line x1="230.5" y1="666" x2="230.5" y2="668.5" stroke="#231f20" stroke-width="1"/>
<text x="147.1" y="601" font-size="7.4" fill="#3a3a3a" color="#3a3a3a" textLength="29.6" lengthAdjust="spacingAndGlyphs">p&lt;0.0001</text>
<text x="209" y="601" font-size="7.4" fill="#3a3a3a" color="#3a3a3a" textLength="25.6" lengthAdjust="spacingAndGlyphs">p=0.049</text>
<text x="113.6" y="631.4" font-size="8.8" text-anchor="middle" textLength="62" lengthAdjust="spacingAndGlyphs" transform="rotate(-90 113.6 631.4)" dy="3.2">Relative numbers</text>
<text x="112.1" y="678.5" font-size="8.6" textLength="28.3" lengthAdjust="spacingAndGlyphs">IL27Ra:</text>
<text x="151.8" y="678.5" font-size="8.6" text-anchor="middle">-</text>
<text x="169.9" y="678.5" font-size="8.6" text-anchor="middle">+</text>
<text x="211.7" y="678.5" font-size="8.6" text-anchor="middle">-</text>
<text x="229.9" y="678.5" font-size="8.6" text-anchor="middle">+</text>
<rect x="239" y="609.2" width="15.2" height="2.8" fill="#6eae41"/>
<text x="257.3" y="613.3" font-size="8.8" textLength="27.5" lengthAdjust="spacingAndGlyphs">GEMM</text>
<rect x="239" y="618.4" width="15.2" height="2.8" fill="#2c4b86"/>
<text x="257.3" y="622.5" font-size="8.8" textLength="13.5" lengthAdjust="spacingAndGlyphs">GM</text>
<rect x="239" y="627.8" width="15.2" height="2.8" fill="#a3042b"/>
<text x="257.3" y="631.9" font-size="8.8">E</text>
<text x="301.3" y="587.6" font-size="12" font-weight="bold" fill="#000" color="#000" textLength="10.55" lengthAdjust="spacingAndGlyphs">O</text>
<text x="341" y="588.8" font-size="8.4" fill="#333" color="#333" textLength="102.4" lengthAdjust="spacingAndGlyphs">Single HSC transplantation</text>
<line x1="312.4" y1="594.3" x2="472.4" y2="594.3" stroke="#555" stroke-width="1.6"/>
<text x="384.7" y="602" font-size="8.4" text-anchor="middle" font-weight="bold" textLength="24.7" lengthAdjust="spacingAndGlyphs">No. of</text>
<text x="443" y="602.5" font-size="8.4" text-anchor="middle" font-weight="bold" textLength="49" lengthAdjust="spacingAndGlyphs">Percentages</text>
<text x="333" y="612.7" font-size="8.4" text-anchor="middle" font-weight="bold" textLength="32.8" lengthAdjust="spacingAndGlyphs">Fraction</text>
<text x="384.4" y="612.7" font-size="8.4" text-anchor="middle" font-weight="bold" textLength="52.9" lengthAdjust="spacingAndGlyphs">positive mice</text>
<text x="442.8" y="612.7" font-size="8.4" text-anchor="middle" font-weight="bold">%</text>
<line x1="312.4" y1="615.5" x2="472.4" y2="615.5" stroke="#444" stroke-width="1"/>
<text x="333.2" y="628.2" font-size="8.6" text-anchor="middle" fill="#333" color="#333">Y</text>
<text x="337.8" y="624.8" font-size="5.5" text-anchor="middle" fill="#333" color="#333">-</text>
<text x="384.6" y="628.2" font-size="8.6" text-anchor="middle" fill="#333" color="#333">19/41</text>
<text x="443" y="628.2" font-size="8.6" text-anchor="middle" fill="#333" color="#333">46.3</text>
<text x="333.2" y="643.6" font-size="8.6" text-anchor="middle" fill="#333" color="#333">Y</text>
<text x="337.8" y="640.2" font-size="5.5" text-anchor="middle" fill="#333" color="#333">+</text>
<text x="384.6" y="643.6" font-size="8.6" text-anchor="middle" fill="#333" color="#333">5/35</text>
<text x="443" y="643.6" font-size="8.6" text-anchor="middle" fill="#333" color="#333">14.3</text>
<text x="333.2" y="659.6" font-size="8.6" text-anchor="middle" fill="#333" color="#333">O</text>
<text x="337.8" y="656.2" font-size="5.5" text-anchor="middle" fill="#333" color="#333">-</text>
<text x="384.6" y="659.6" font-size="8.6" text-anchor="middle" fill="#333" color="#333">19/63</text>
<text x="443" y="659.6" font-size="8.6" text-anchor="middle" fill="#333" color="#333">30.2</text>
<text x="333.2" y="675.4" font-size="8.6" text-anchor="middle" fill="#333" color="#333">O</text>
<text x="337.8" y="672" font-size="5.5" text-anchor="middle" fill="#333" color="#333">+</text>
<text x="384.6" y="675.4" font-size="8.6" text-anchor="middle" fill="#333" color="#333">7/55</text>
<text x="443" y="675.4" font-size="8.6" text-anchor="middle" fill="#333" color="#333">12.7</text>
<line x1="312.4" y1="682.3" x2="472.4" y2="682.3" stroke="#555" stroke-width="1.6"/>
</svg>
</body></html>
